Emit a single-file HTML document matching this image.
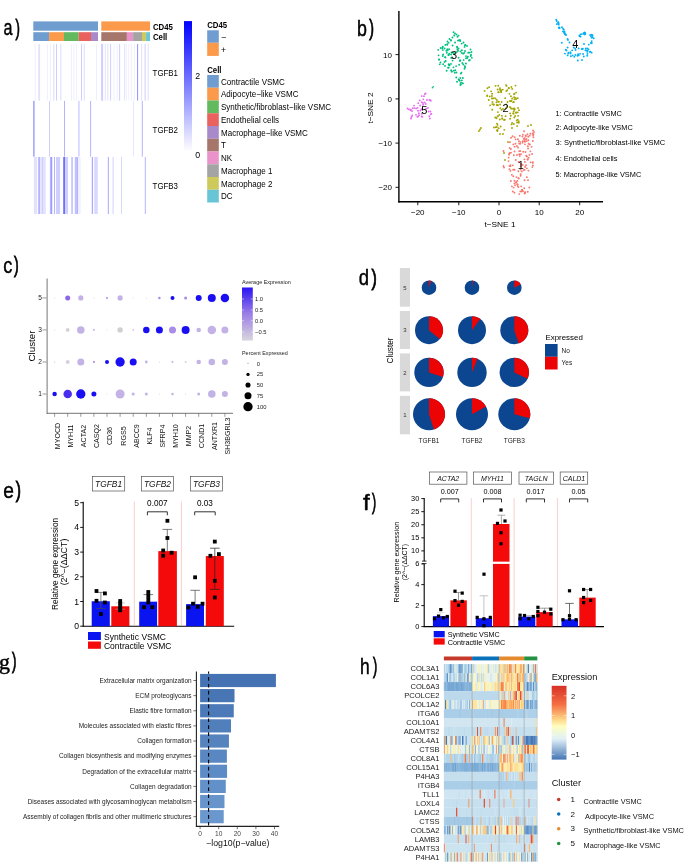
<!DOCTYPE html>
<html><head><meta charset="utf-8"><style>
html,body{margin:0;padding:0;background:#fff;}
body{width:685px;height:862px;overflow:hidden;}
svg{display:block;font-family:"Liberation Sans",sans-serif;filter:blur(0.3px);}
</style></head><body>
<svg width="685" height="862" viewBox="0 0 685 862">
<defs>
<linearGradient id="ga" x1="0" y1="0" x2="0" y2="1"><stop offset="0" stop-color="#0000ff"/><stop offset="1" stop-color="#ffffff"/></linearGradient>
<linearGradient id="gc" x1="0" y1="0" x2="0" y2="1"><stop offset="0" stop-color="#2a14f2"/><stop offset="0.5" stop-color="#9d7fe6"/><stop offset="1" stop-color="#d9d6de"/></linearGradient>
<linearGradient id="gh" x1="0" y1="0" x2="0" y2="1"><stop offset="0" stop-color="#d73027"/><stop offset="0.25" stop-color="#f46d43"/><stop offset="0.45" stop-color="#fdd384"/><stop offset="0.55" stop-color="#fefec0"/><stop offset="0.72" stop-color="#e0f0f6"/><stop offset="1" stop-color="#4575b4"/></linearGradient>
</defs>
<text transform="translate(3.60,35.48) scale(0.738,1)" font-size="21.90" fill="#000" stroke="#000" stroke-width="0.45">a</text>
<text transform="translate(15.50,34.90) scale(0.595,1)" font-size="22.21" fill="#000" stroke="#000" stroke-width="0.9">)</text>
<rect x="33.30" y="21.40" width="64.70" height="9.30" fill="#6f9dcf" />
<rect x="101.30" y="21.40" width="48.70" height="9.30" fill="#fb9a4a" />
<rect x="33.30" y="32.20" width="15.80" height="8.80" fill="#6f9dcf" />
<rect x="49.10" y="32.20" width="14.90" height="8.80" fill="#fb9a4a" />
<rect x="64.00" y="32.20" width="14.70" height="8.80" fill="#62b95e" />
<rect x="78.70" y="32.20" width="12.30" height="8.80" fill="#e9625d" />
<rect x="91.00" y="32.20" width="7.00" height="8.80" fill="#a88acb" />
<rect x="101.30" y="32.20" width="25.60" height="8.80" fill="#a6766b" />
<rect x="126.90" y="32.20" width="6.20" height="8.80" fill="#ea93cb" />
<rect x="133.10" y="32.20" width="8.90" height="8.80" fill="#a4a4a4" />
<rect x="142.00" y="32.20" width="4.10" height="8.80" fill="#cdc95a" />
<rect x="146.10" y="32.20" width="3.90" height="8.80" fill="#67c5d6" />
<rect x="34.60" y="44.00" width="1.00" height="56.60" fill="#efefff" />
<rect x="38.30" y="44.00" width="1.80" height="56.60" fill="#e2e2ff" />
<rect x="46.90" y="44.00" width="1.00" height="56.60" fill="#efefff" />
<rect x="49.90" y="44.00" width="1.00" height="56.60" fill="#efefff" />
<rect x="53.20" y="44.00" width="1.20" height="56.60" fill="#e2e2ff" />
<rect x="56.00" y="44.00" width="1.00" height="56.60" fill="#cfcfff" />
<rect x="60.20" y="44.00" width="1.20" height="56.60" fill="#e2e2ff" />
<rect x="70.90" y="44.00" width="1.00" height="56.60" fill="#efefff" />
<rect x="73.40" y="44.00" width="1.00" height="56.60" fill="#efefff" />
<rect x="76.00" y="44.00" width="1.00" height="56.60" fill="#efefff" />
<rect x="81.00" y="44.00" width="1.00" height="56.60" fill="#cfcfff" />
<rect x="83.70" y="44.00" width="1.20" height="56.60" fill="#e2e2ff" />
<rect x="96.00" y="44.00" width="1.00" height="56.60" fill="#efefff" />
<rect x="101.10" y="44.00" width="2.00" height="56.60" fill="#cfcfff" />
<rect x="104.80" y="44.00" width="1.00" height="56.60" fill="#e2e2ff" />
<rect x="107.30" y="44.00" width="1.00" height="56.60" fill="#e2e2ff" />
<rect x="110.10" y="44.00" width="1.00" height="56.60" fill="#cfcfff" />
<rect x="113.50" y="44.00" width="1.00" height="56.60" fill="#efefff" />
<rect x="116.60" y="44.00" width="1.00" height="56.60" fill="#efefff" />
<rect x="119.10" y="44.00" width="1.00" height="56.60" fill="#cfcfff" />
<rect x="124.10" y="44.00" width="1.00" height="56.60" fill="#e2e2ff" />
<rect x="125.80" y="44.00" width="1.00" height="56.60" fill="#efefff" />
<rect x="128.30" y="44.00" width="1.00" height="56.60" fill="#efefff" />
<rect x="130.90" y="44.00" width="1.00" height="56.60" fill="#efefff" />
<rect x="133.90" y="44.00" width="1.00" height="56.60" fill="#efefff" />
<rect x="137.00" y="44.00" width="1.10" height="56.60" fill="#9a9aff" />
<rect x="141.10" y="44.00" width="1.00" height="56.60" fill="#e2e2ff" />
<rect x="144.60" y="44.00" width="1.00" height="56.60" fill="#cfcfff" />
<rect x="147.70" y="44.00" width="1.00" height="56.60" fill="#e2e2ff" />
<rect x="33.20" y="100.90" width="1.40" height="55.70" fill="#9a9aff" />
<rect x="49.00" y="100.90" width="1.00" height="55.70" fill="#cfcfff" />
<rect x="64.00" y="100.90" width="1.00" height="55.70" fill="#b4b4ff" />
<rect x="78.20" y="100.90" width="1.40" height="55.70" fill="#cfcfff" />
<rect x="90.10" y="100.90" width="1.00" height="55.70" fill="#b4b4ff" />
<rect x="133.00" y="100.90" width="0.80" height="55.70" fill="#e2e2ff" />
<rect x="141.80" y="100.90" width="1.00" height="55.70" fill="#b4b4ff" />
<rect x="33.90" y="157.00" width="3.30" height="57.00" fill="#e2e2ff" />
<rect x="38.20" y="157.00" width="1.80" height="57.00" fill="#b4b4ff" />
<rect x="40.20" y="157.00" width="5.60" height="57.00" fill="#e2e2ff" />
<rect x="42.00" y="157.00" width="1.00" height="57.00" fill="#cfcfff" />
<rect x="49.90" y="157.00" width="2.40" height="57.00" fill="#b4b4ff" />
<rect x="51.00" y="157.00" width="1.00" height="57.00" fill="#9a9aff" />
<rect x="54.00" y="157.00" width="1.00" height="57.00" fill="#b4b4ff" />
<rect x="56.00" y="157.00" width="4.10" height="57.00" fill="#cfcfff" />
<rect x="63.20" y="157.00" width="2.10" height="57.00" fill="#7070f4" />
<rect x="65.30" y="157.00" width="2.70" height="57.00" fill="#cfcfff" />
<rect x="71.40" y="157.00" width="1.30" height="57.00" fill="#b4b4ff" />
<rect x="74.70" y="157.00" width="3.30" height="57.00" fill="#cfcfff" />
<rect x="75.50" y="157.00" width="1.00" height="57.00" fill="#b4b4ff" />
<rect x="77.00" y="157.00" width="1.00" height="57.00" fill="#b4b4ff" />
<rect x="78.00" y="157.00" width="2.60" height="57.00" fill="#efefff" />
<rect x="91.80" y="157.00" width="1.00" height="57.00" fill="#9a9aff" />
<rect x="93.90" y="157.00" width="4.10" height="57.00" fill="#e2e2ff" />
<rect x="95.50" y="157.00" width="1.00" height="57.00" fill="#cfcfff" />
<rect x="107.80" y="157.00" width="1.20" height="57.00" fill="#b4b4ff" />
<rect x="112.40" y="157.00" width="1.50" height="57.00" fill="#e2e2ff" />
<rect x="121.00" y="157.00" width="0.80" height="57.00" fill="#cfcfff" />
<rect x="144.80" y="157.00" width="1.00" height="57.00" fill="#b4b4ff" />
<text x="152.60" y="76.00" font-size="8.8" textLength="25.40" lengthAdjust="spacingAndGlyphs" fill="#000" >TGFB1</text>
<text x="152.60" y="132.90" font-size="8.8" textLength="25.40" lengthAdjust="spacingAndGlyphs" fill="#000" >TGFB2</text>
<text x="152.60" y="189.20" font-size="8.8" textLength="25.40" lengthAdjust="spacingAndGlyphs" fill="#000" >TGFB3</text>
<text x="152.90" y="29.60" font-size="8.8" font-weight="bold" textLength="20.00" lengthAdjust="spacingAndGlyphs" fill="#000" >CD45</text>
<text x="152.90" y="40.40" font-size="8.8" font-weight="bold" textLength="14.36" lengthAdjust="spacingAndGlyphs" fill="#000" >Cell</text>
<rect x="184.00" y="21.10" width="8.00" height="130.40" fill="url(#ga)" />
<text x="197.60" y="79.10" font-size="8.8" text-anchor="middle" fill="#000" >2</text>
<text x="197.60" y="157.90" font-size="8.8" text-anchor="middle" fill="#000" >0</text>
<text x="207.20" y="27.80" font-size="8.8" font-weight="bold" textLength="20.02" lengthAdjust="spacingAndGlyphs" fill="#000" >CD45</text>
<rect x="207.20" y="30.30" width="11.60" height="12.50" fill="#6f9dcf" />
<rect x="207.20" y="42.80" width="11.60" height="13.10" fill="#fb9a4a" />
<text x="221.00" y="39.70" font-size="8.8" fill="#000" >−</text>
<text x="221.00" y="52.60" font-size="8.8" fill="#000" >+</text>
<text x="207.20" y="72.60" font-size="8.8" font-weight="bold" textLength="14.36" lengthAdjust="spacingAndGlyphs" fill="#000" >Cell</text>
<rect x="207.20" y="75.00" width="11.60" height="12.75" fill="#6f9dcf" />
<text x="221.00" y="84.58" font-size="8.8" textLength="63.85" lengthAdjust="spacingAndGlyphs" fill="#000" >Contractile VSMC</text>
<rect x="207.20" y="87.75" width="11.60" height="12.75" fill="#fb9a4a" />
<text x="221.00" y="97.33" font-size="8.8" textLength="77.48" lengthAdjust="spacingAndGlyphs" fill="#000" >Adipocyte−like VSMC</text>
<rect x="207.20" y="100.50" width="11.60" height="12.75" fill="#62b95e" />
<text x="221.00" y="110.08" font-size="8.8" textLength="110.07" lengthAdjust="spacingAndGlyphs" fill="#000" >Synthetic/fibroblast−like VSMC</text>
<rect x="207.20" y="113.25" width="11.60" height="12.75" fill="#e9625d" />
<text x="221.00" y="122.83" font-size="8.8" textLength="58.06" lengthAdjust="spacingAndGlyphs" fill="#000" >Endothelial cells</text>
<rect x="207.20" y="126.00" width="11.60" height="12.75" fill="#a88acb" />
<text x="221.00" y="135.57" font-size="8.8" textLength="86.85" lengthAdjust="spacingAndGlyphs" fill="#000" >Macrophage−like VSMC</text>
<rect x="207.20" y="138.75" width="11.60" height="12.75" fill="#a6766b" />
<text x="221.00" y="148.32" font-size="8.8" textLength="4.91" lengthAdjust="spacingAndGlyphs" fill="#000" >T</text>
<rect x="207.20" y="151.50" width="11.60" height="12.75" fill="#ea93cb" />
<text x="221.00" y="161.07" font-size="8.8" textLength="11.16" lengthAdjust="spacingAndGlyphs" fill="#000" >NK</text>
<rect x="207.20" y="164.25" width="11.60" height="12.75" fill="#a4a4a4" />
<text x="221.00" y="173.82" font-size="8.8" textLength="51.36" lengthAdjust="spacingAndGlyphs" fill="#000" >Macrophage 1</text>
<rect x="207.20" y="177.00" width="11.60" height="12.75" fill="#cdc95a" />
<text x="221.00" y="186.57" font-size="8.8" textLength="51.36" lengthAdjust="spacingAndGlyphs" fill="#000" >Macrophage 2</text>
<rect x="207.20" y="189.75" width="11.60" height="12.75" fill="#67c5d6" />
<text x="221.00" y="199.32" font-size="8.8" textLength="11.60" lengthAdjust="spacingAndGlyphs" fill="#000" >DC</text>
<text transform="translate(357.00,35.78) scale(0.798,1)" font-size="22.31" fill="#000" stroke="#000" stroke-width="0.45">b</text>
<text transform="translate(369.20,35.20) scale(0.635,1)" font-size="22.21" fill="#000" stroke="#000" stroke-width="0.9">)</text>
<circle cx="444.57" cy="61.93" r="0.95" fill="#00bf7d" />
<circle cx="449.32" cy="65.22" r="0.95" fill="#00bf7d" />
<circle cx="458.53" cy="35.60" r="0.95" fill="#00bf7d" />
<circle cx="445.34" cy="44.89" r="0.95" fill="#00bf7d" />
<circle cx="471.84" cy="57.86" r="0.95" fill="#00bf7d" />
<circle cx="466.11" cy="58.20" r="0.95" fill="#00bf7d" />
<circle cx="459.01" cy="40.28" r="0.95" fill="#00bf7d" />
<circle cx="458.85" cy="79.74" r="0.95" fill="#00bf7d" />
<circle cx="454.83" cy="72.77" r="0.95" fill="#00bf7d" />
<circle cx="463.30" cy="64.51" r="0.95" fill="#00bf7d" />
<circle cx="467.16" cy="58.00" r="0.95" fill="#00bf7d" />
<circle cx="461.88" cy="80.33" r="0.95" fill="#00bf7d" />
<circle cx="461.71" cy="82.66" r="0.95" fill="#00bf7d" />
<circle cx="470.76" cy="55.99" r="0.95" fill="#00bf7d" />
<circle cx="458.56" cy="48.56" r="0.95" fill="#00bf7d" />
<circle cx="454.26" cy="53.22" r="0.95" fill="#00bf7d" />
<circle cx="448.63" cy="64.18" r="0.95" fill="#00bf7d" />
<circle cx="457.03" cy="81.73" r="0.95" fill="#00bf7d" />
<circle cx="460.55" cy="83.09" r="0.95" fill="#00bf7d" />
<circle cx="460.17" cy="40.97" r="0.95" fill="#00bf7d" />
<circle cx="461.70" cy="43.61" r="0.95" fill="#00bf7d" />
<circle cx="465.94" cy="63.54" r="0.95" fill="#00bf7d" />
<circle cx="450.78" cy="40.29" r="0.95" fill="#00bf7d" />
<circle cx="461.86" cy="50.20" r="0.95" fill="#00bf7d" />
<circle cx="443.11" cy="54.44" r="0.95" fill="#00bf7d" />
<circle cx="457.98" cy="40.59" r="0.95" fill="#00bf7d" />
<circle cx="468.28" cy="52.78" r="0.95" fill="#00bf7d" />
<circle cx="452.57" cy="60.60" r="0.95" fill="#00bf7d" />
<circle cx="459.18" cy="64.76" r="0.95" fill="#00bf7d" />
<circle cx="456.13" cy="66.11" r="0.95" fill="#00bf7d" />
<circle cx="469.86" cy="59.89" r="0.95" fill="#00bf7d" />
<circle cx="451.52" cy="71.62" r="0.95" fill="#00bf7d" />
<circle cx="444.55" cy="48.56" r="0.95" fill="#00bf7d" />
<circle cx="450.95" cy="63.90" r="0.95" fill="#00bf7d" />
<circle cx="458.58" cy="57.64" r="0.95" fill="#00bf7d" />
<circle cx="460.45" cy="51.39" r="0.95" fill="#00bf7d" />
<circle cx="461.45" cy="72.59" r="0.95" fill="#00bf7d" />
<circle cx="460.34" cy="84.98" r="0.95" fill="#00bf7d" />
<circle cx="445.04" cy="57.10" r="0.95" fill="#00bf7d" />
<circle cx="457.34" cy="49.60" r="0.95" fill="#00bf7d" />
<circle cx="449.10" cy="49.20" r="0.95" fill="#00bf7d" />
<circle cx="449.29" cy="64.76" r="0.95" fill="#00bf7d" />
<circle cx="446.81" cy="52.74" r="0.95" fill="#00bf7d" />
<circle cx="456.49" cy="72.43" r="0.95" fill="#00bf7d" />
<circle cx="447.16" cy="44.24" r="0.95" fill="#00bf7d" />
<circle cx="464.94" cy="45.13" r="0.95" fill="#00bf7d" />
<circle cx="442.75" cy="55.94" r="0.95" fill="#00bf7d" />
<circle cx="447.59" cy="50.36" r="0.95" fill="#00bf7d" />
<circle cx="466.01" cy="56.11" r="0.95" fill="#00bf7d" />
<circle cx="448.12" cy="67.76" r="0.95" fill="#00bf7d" />
<circle cx="467.86" cy="56.81" r="0.95" fill="#00bf7d" />
<circle cx="455.07" cy="42.49" r="0.95" fill="#00bf7d" />
<circle cx="442.61" cy="47.32" r="0.95" fill="#00bf7d" />
<circle cx="465.06" cy="67.31" r="0.95" fill="#00bf7d" />
<circle cx="465.03" cy="50.99" r="0.95" fill="#00bf7d" />
<circle cx="440.67" cy="48.06" r="0.95" fill="#00bf7d" />
<circle cx="464.58" cy="46.91" r="0.95" fill="#00bf7d" />
<circle cx="448.47" cy="54.93" r="0.95" fill="#00bf7d" />
<circle cx="451.11" cy="54.52" r="0.95" fill="#00bf7d" />
<circle cx="462.84" cy="78.02" r="0.95" fill="#00bf7d" />
<circle cx="459.87" cy="60.55" r="0.95" fill="#00bf7d" />
<circle cx="446.41" cy="50.76" r="0.95" fill="#00bf7d" />
<circle cx="457.19" cy="47.79" r="0.95" fill="#00bf7d" />
<circle cx="442.19" cy="48.49" r="0.95" fill="#00bf7d" />
<circle cx="459.86" cy="60.87" r="0.95" fill="#00bf7d" />
<circle cx="458.04" cy="50.77" r="0.95" fill="#00bf7d" />
<circle cx="448.67" cy="42.85" r="0.95" fill="#00bf7d" />
<circle cx="458.63" cy="79.44" r="0.95" fill="#00bf7d" />
<circle cx="445.67" cy="61.00" r="0.95" fill="#00bf7d" />
<circle cx="451.23" cy="58.01" r="0.95" fill="#00bf7d" />
<circle cx="439.10" cy="59.62" r="0.95" fill="#00bf7d" />
<circle cx="447.37" cy="49.30" r="0.95" fill="#00bf7d" />
<circle cx="448.65" cy="67.58" r="0.95" fill="#00bf7d" />
<circle cx="457.12" cy="51.85" r="0.95" fill="#00bf7d" />
<circle cx="442.88" cy="50.08" r="0.95" fill="#00bf7d" />
<circle cx="440.46" cy="62.55" r="0.95" fill="#00bf7d" />
<circle cx="461.78" cy="52.91" r="0.95" fill="#00bf7d" />
<circle cx="449.44" cy="65.24" r="0.95" fill="#00bf7d" />
<circle cx="464.17" cy="52.91" r="0.95" fill="#00bf7d" />
<circle cx="464.84" cy="66.26" r="0.95" fill="#00bf7d" />
<circle cx="451.54" cy="52.48" r="0.95" fill="#00bf7d" />
<circle cx="453.86" cy="70.66" r="0.95" fill="#00bf7d" />
<circle cx="451.14" cy="70.18" r="0.95" fill="#00bf7d" />
<circle cx="452.59" cy="45.48" r="0.95" fill="#00bf7d" />
<circle cx="455.29" cy="70.23" r="0.95" fill="#00bf7d" />
<circle cx="438.58" cy="55.37" r="0.95" fill="#00bf7d" />
<circle cx="469.71" cy="52.58" r="0.95" fill="#00bf7d" />
<circle cx="445.44" cy="57.53" r="0.95" fill="#00bf7d" />
<circle cx="459.84" cy="80.80" r="0.95" fill="#00bf7d" />
<circle cx="464.53" cy="68.72" r="0.95" fill="#00bf7d" />
<circle cx="462.41" cy="63.01" r="0.95" fill="#00bf7d" />
<circle cx="439.71" cy="64.33" r="0.95" fill="#00bf7d" />
<circle cx="460.25" cy="77.99" r="0.95" fill="#00bf7d" />
<circle cx="463.63" cy="60.12" r="0.95" fill="#00bf7d" />
<circle cx="462.96" cy="83.40" r="0.95" fill="#00bf7d" />
<circle cx="438.20" cy="49.83" r="0.95" fill="#00bf7d" />
<circle cx="456.30" cy="77.54" r="0.95" fill="#00bf7d" />
<circle cx="445.00" cy="65.88" r="0.95" fill="#00bf7d" />
<circle cx="463.13" cy="53.66" r="0.95" fill="#00bf7d" />
<circle cx="449.23" cy="53.82" r="0.95" fill="#00bf7d" />
<circle cx="448.61" cy="55.00" r="0.95" fill="#00bf7d" />
<circle cx="439.00" cy="59.52" r="0.95" fill="#00bf7d" />
<circle cx="471.03" cy="54.71" r="0.95" fill="#00bf7d" />
<circle cx="460.87" cy="73.59" r="0.95" fill="#00bf7d" />
<circle cx="460.26" cy="60.44" r="0.95" fill="#00bf7d" />
<circle cx="453.41" cy="67.36" r="0.95" fill="#00bf7d" />
<circle cx="469.00" cy="60.45" r="0.95" fill="#00bf7d" />
<circle cx="451.95" cy="71.54" r="0.95" fill="#00bf7d" />
<circle cx="442.70" cy="46.70" r="0.95" fill="#00bf7d" />
<circle cx="443.17" cy="64.21" r="0.95" fill="#00bf7d" />
<circle cx="447.33" cy="44.78" r="0.95" fill="#00bf7d" />
<circle cx="460.88" cy="84.44" r="0.95" fill="#00bf7d" />
<circle cx="446.65" cy="70.79" r="0.95" fill="#00bf7d" />
<circle cx="457.05" cy="46.69" r="0.95" fill="#00bf7d" />
<circle cx="453.26" cy="53.05" r="0.95" fill="#00bf7d" />
<circle cx="433.20" cy="86.80" r="0.80" fill="#00bf7d" />
<circle cx="432.40" cy="87.80" r="0.80" fill="#00bf7d" />
<circle cx="453.50" cy="32.20" r="0.95" fill="#00bf7d" />
<circle cx="455.00" cy="33.50" r="0.95" fill="#00bf7d" />
<circle cx="456.50" cy="34.50" r="0.95" fill="#00bf7d" />
<circle cx="454.20" cy="35.50" r="0.95" fill="#00bf7d" />
<circle cx="457.50" cy="36.80" r="0.95" fill="#00bf7d" />
<circle cx="452.50" cy="37.50" r="0.95" fill="#00bf7d" />
<circle cx="449.50" cy="39.00" r="0.95" fill="#00bf7d" />
<circle cx="451.00" cy="40.50" r="0.95" fill="#00bf7d" />
<circle cx="447.50" cy="41.50" r="0.95" fill="#00bf7d" />
<circle cx="460.00" cy="40.00" r="0.95" fill="#00bf7d" />
<circle cx="463.50" cy="42.50" r="0.95" fill="#00bf7d" />
<circle cx="465.50" cy="45.00" r="0.95" fill="#00bf7d" />
<circle cx="467.00" cy="46.00" r="0.95" fill="#00bf7d" />
<circle cx="470.50" cy="49.50" r="0.95" fill="#00bf7d" />
<circle cx="471.50" cy="52.00" r="0.95" fill="#00bf7d" />
<circle cx="559.28" cy="27.33" r="0.95" fill="#00b0f6" />
<circle cx="558.57" cy="23.92" r="0.95" fill="#00b0f6" />
<circle cx="558.42" cy="22.63" r="0.95" fill="#00b0f6" />
<circle cx="563.94" cy="29.65" r="0.95" fill="#00b0f6" />
<circle cx="559.58" cy="28.17" r="0.95" fill="#00b0f6" />
<circle cx="561.97" cy="27.23" r="0.95" fill="#00b0f6" />
<circle cx="563.89" cy="31.86" r="0.95" fill="#00b0f6" />
<circle cx="558.05" cy="22.08" r="0.95" fill="#00b0f6" />
<circle cx="563.95" cy="31.70" r="0.95" fill="#00b0f6" />
<circle cx="558.73" cy="27.76" r="0.95" fill="#00b0f6" />
<circle cx="558.63" cy="24.65" r="0.95" fill="#00b0f6" />
<circle cx="556.22" cy="19.75" r="0.95" fill="#00b0f6" />
<circle cx="563.06" cy="28.73" r="0.95" fill="#00b0f6" />
<circle cx="564.47" cy="33.03" r="0.95" fill="#00b0f6" />
<circle cx="565.14" cy="34.47" r="0.95" fill="#00b0f6" />
<circle cx="562.83" cy="31.33" r="0.95" fill="#00b0f6" />
<circle cx="565.26" cy="33.95" r="0.95" fill="#00b0f6" />
<circle cx="566.08" cy="35.00" r="0.95" fill="#00b0f6" />
<circle cx="558.34" cy="23.50" r="0.95" fill="#00b0f6" />
<circle cx="564.41" cy="33.06" r="0.95" fill="#00b0f6" />
<circle cx="567.52" cy="38.93" r="0.95" fill="#00b0f6" />
<circle cx="556.76" cy="24.12" r="0.95" fill="#00b0f6" />
<circle cx="564.47" cy="31.81" r="0.95" fill="#00b0f6" />
<circle cx="556.69" cy="21.01" r="0.95" fill="#00b0f6" />
<circle cx="581.85" cy="34.10" r="0.95" fill="#00b0f6" />
<circle cx="591.43" cy="42.82" r="0.95" fill="#00b0f6" />
<circle cx="585.13" cy="33.00" r="0.95" fill="#00b0f6" />
<circle cx="584.81" cy="34.42" r="0.95" fill="#00b0f6" />
<circle cx="584.50" cy="33.00" r="0.95" fill="#00b0f6" />
<circle cx="591.83" cy="37.85" r="0.95" fill="#00b0f6" />
<circle cx="591.73" cy="43.21" r="0.95" fill="#00b0f6" />
<circle cx="584.55" cy="32.40" r="0.95" fill="#00b0f6" />
<circle cx="584.55" cy="34.35" r="0.95" fill="#00b0f6" />
<circle cx="591.70" cy="34.65" r="0.95" fill="#00b0f6" />
<circle cx="592.46" cy="37.02" r="0.95" fill="#00b0f6" />
<circle cx="590.15" cy="35.07" r="0.95" fill="#00b0f6" />
<circle cx="585.38" cy="33.49" r="0.95" fill="#00b0f6" />
<circle cx="592.58" cy="35.35" r="0.95" fill="#00b0f6" />
<circle cx="580.55" cy="36.61" r="0.95" fill="#00b0f6" />
<circle cx="588.82" cy="44.58" r="0.95" fill="#00b0f6" />
<circle cx="580.15" cy="36.39" r="0.95" fill="#00b0f6" />
<circle cx="593.72" cy="38.20" r="0.95" fill="#00b0f6" />
<circle cx="579.30" cy="35.68" r="0.95" fill="#00b0f6" />
<circle cx="591.69" cy="41.08" r="0.95" fill="#00b0f6" />
<circle cx="592.07" cy="35.17" r="0.95" fill="#00b0f6" />
<circle cx="583.55" cy="33.20" r="0.95" fill="#00b0f6" />
<circle cx="590.93" cy="36.59" r="0.95" fill="#00b0f6" />
<circle cx="584.58" cy="33.58" r="0.95" fill="#00b0f6" />
<circle cx="580.36" cy="34.35" r="0.95" fill="#00b0f6" />
<circle cx="584.12" cy="34.08" r="0.95" fill="#00b0f6" />
<circle cx="587.21" cy="55.69" r="0.95" fill="#00b0f6" />
<circle cx="578.58" cy="48.40" r="0.95" fill="#00b0f6" />
<circle cx="565.01" cy="53.62" r="0.95" fill="#00b0f6" />
<circle cx="578.17" cy="54.88" r="0.95" fill="#00b0f6" />
<circle cx="575.45" cy="55.01" r="0.95" fill="#00b0f6" />
<circle cx="572.64" cy="55.42" r="0.95" fill="#00b0f6" />
<circle cx="585.44" cy="50.38" r="0.95" fill="#00b0f6" />
<circle cx="580.07" cy="53.87" r="0.95" fill="#00b0f6" />
<circle cx="570.40" cy="52.20" r="0.95" fill="#00b0f6" />
<circle cx="587.54" cy="48.45" r="0.95" fill="#00b0f6" />
<circle cx="587.49" cy="53.91" r="0.95" fill="#00b0f6" />
<circle cx="588.64" cy="49.36" r="0.95" fill="#00b0f6" />
<circle cx="567.61" cy="55.40" r="0.95" fill="#00b0f6" />
<circle cx="587.53" cy="50.79" r="0.95" fill="#00b0f6" />
<circle cx="567.63" cy="47.56" r="0.95" fill="#00b0f6" />
<circle cx="582.78" cy="48.79" r="0.95" fill="#00b0f6" />
<circle cx="591.64" cy="52.65" r="0.95" fill="#00b0f6" />
<circle cx="570.62" cy="53.52" r="0.95" fill="#00b0f6" />
<circle cx="590.47" cy="51.69" r="0.95" fill="#00b0f6" />
<circle cx="583.05" cy="54.07" r="0.95" fill="#00b0f6" />
<circle cx="565.80" cy="49.70" r="0.95" fill="#00b0f6" />
<circle cx="581.85" cy="48.96" r="0.95" fill="#00b0f6" />
<circle cx="589.64" cy="51.83" r="0.95" fill="#00b0f6" />
<circle cx="568.27" cy="53.62" r="0.95" fill="#00b0f6" />
<circle cx="573.74" cy="47.55" r="0.95" fill="#00b0f6" />
<circle cx="570.88" cy="56.25" r="0.95" fill="#00b0f6" />
<circle cx="574.32" cy="56.76" r="0.95" fill="#00b0f6" />
<circle cx="582.37" cy="48.98" r="0.95" fill="#00b0f6" />
<circle cx="575.57" cy="50.06" r="0.95" fill="#00b0f6" />
<circle cx="566.51" cy="50.50" r="0.95" fill="#00b0f6" />
<circle cx="585.90" cy="50.17" r="0.95" fill="#00b0f6" />
<circle cx="583.77" cy="56.56" r="0.95" fill="#00b0f6" />
<circle cx="577.52" cy="55.81" r="0.95" fill="#00b0f6" />
<circle cx="587.29" cy="51.72" r="0.95" fill="#00b0f6" />
<circle cx="578.19" cy="54.17" r="0.95" fill="#00b0f6" />
<circle cx="585.90" cy="48.46" r="0.95" fill="#00b0f6" />
<circle cx="578.65" cy="55.19" r="0.95" fill="#00b0f6" />
<circle cx="568.46" cy="52.66" r="0.95" fill="#00b0f6" />
<circle cx="575.11" cy="48.33" r="0.95" fill="#00b0f6" />
<circle cx="572.13" cy="50.34" r="0.95" fill="#00b0f6" />
<circle cx="561.80" cy="42.80" r="0.95" fill="#00b0f6" />
<circle cx="577.80" cy="60.50" r="0.95" fill="#00b0f6" />
<circle cx="582.00" cy="60.00" r="0.95" fill="#00b0f6" />
<circle cx="568.00" cy="40.00" r="0.95" fill="#00b0f6" />
<circle cx="569.50" cy="42.50" r="0.95" fill="#00b0f6" />
<circle cx="591.00" cy="43.00" r="0.95" fill="#00b0f6" />
<circle cx="584.00" cy="44.00" r="0.95" fill="#00b0f6" />
<circle cx="424.92" cy="94.03" r="0.95" fill="#e76bf3" />
<circle cx="421.93" cy="102.24" r="0.95" fill="#e76bf3" />
<circle cx="419.04" cy="115.15" r="0.95" fill="#e76bf3" />
<circle cx="423.00" cy="103.11" r="0.95" fill="#e76bf3" />
<circle cx="430.32" cy="100.11" r="0.95" fill="#e76bf3" />
<circle cx="416.02" cy="114.85" r="0.95" fill="#e76bf3" />
<circle cx="412.70" cy="108.28" r="0.95" fill="#e76bf3" />
<circle cx="424.61" cy="102.43" r="0.95" fill="#e76bf3" />
<circle cx="425.69" cy="103.97" r="0.95" fill="#e76bf3" />
<circle cx="416.17" cy="108.40" r="0.95" fill="#e76bf3" />
<circle cx="419.78" cy="100.39" r="0.95" fill="#e76bf3" />
<circle cx="428.65" cy="111.57" r="0.95" fill="#e76bf3" />
<circle cx="414.35" cy="108.08" r="0.95" fill="#e76bf3" />
<circle cx="421.66" cy="116.50" r="0.95" fill="#e76bf3" />
<circle cx="426.97" cy="100.06" r="0.95" fill="#e76bf3" />
<circle cx="418.87" cy="113.20" r="0.95" fill="#e76bf3" />
<circle cx="427.88" cy="108.04" r="0.95" fill="#e76bf3" />
<circle cx="430.76" cy="100.78" r="0.95" fill="#e76bf3" />
<circle cx="426.08" cy="108.64" r="0.95" fill="#e76bf3" />
<circle cx="423.08" cy="104.77" r="0.95" fill="#e76bf3" />
<circle cx="429.84" cy="118.45" r="0.95" fill="#e76bf3" />
<circle cx="420.33" cy="110.60" r="0.95" fill="#e76bf3" />
<circle cx="429.37" cy="99.97" r="0.95" fill="#e76bf3" />
<circle cx="418.03" cy="110.72" r="0.95" fill="#e76bf3" />
<circle cx="418.16" cy="116.40" r="0.95" fill="#e76bf3" />
<circle cx="422.29" cy="116.73" r="0.95" fill="#e76bf3" />
<circle cx="429.30" cy="116.19" r="0.95" fill="#e76bf3" />
<circle cx="417.33" cy="116.76" r="0.95" fill="#e76bf3" />
<circle cx="414.07" cy="105.58" r="0.95" fill="#e76bf3" />
<circle cx="423.32" cy="99.36" r="0.95" fill="#e76bf3" />
<circle cx="417.60" cy="107.86" r="0.95" fill="#e76bf3" />
<circle cx="421.40" cy="109.29" r="0.95" fill="#e76bf3" />
<circle cx="425.58" cy="93.51" r="0.95" fill="#e76bf3" />
<circle cx="431.39" cy="113.84" r="0.95" fill="#e76bf3" />
<circle cx="430.74" cy="114.34" r="0.95" fill="#e76bf3" />
<circle cx="418.20" cy="103.17" r="0.95" fill="#e76bf3" />
<circle cx="410.69" cy="109.76" r="0.95" fill="#e76bf3" />
<circle cx="423.97" cy="96.16" r="0.95" fill="#e76bf3" />
<circle cx="420.12" cy="105.55" r="0.95" fill="#e76bf3" />
<circle cx="421.73" cy="96.10" r="0.95" fill="#e76bf3" />
<circle cx="430.45" cy="111.49" r="0.95" fill="#e76bf3" />
<circle cx="421.85" cy="113.81" r="0.95" fill="#e76bf3" />
<circle cx="407.50" cy="108.50" r="0.95" fill="#e76bf3" />
<circle cx="409.00" cy="109.30" r="0.95" fill="#e76bf3" />
<circle cx="410.50" cy="110.30" r="0.95" fill="#e76bf3" />
<circle cx="412.00" cy="111.00" r="0.95" fill="#e76bf3" />
<circle cx="412.30" cy="115.50" r="0.95" fill="#e76bf3" />
<circle cx="411.50" cy="117.00" r="0.95" fill="#e76bf3" />
<circle cx="411.00" cy="118.50" r="0.95" fill="#e76bf3" />
<circle cx="487.07" cy="96.12" r="0.95" fill="#a3a500" />
<circle cx="507.11" cy="106.50" r="0.95" fill="#a3a500" />
<circle cx="500.31" cy="108.25" r="0.95" fill="#a3a500" />
<circle cx="487.22" cy="95.47" r="0.95" fill="#a3a500" />
<circle cx="498.68" cy="128.20" r="0.95" fill="#a3a500" />
<circle cx="497.65" cy="89.57" r="0.95" fill="#a3a500" />
<circle cx="497.58" cy="116.38" r="0.95" fill="#a3a500" />
<circle cx="496.18" cy="117.87" r="0.95" fill="#a3a500" />
<circle cx="501.91" cy="115.84" r="0.95" fill="#a3a500" />
<circle cx="516.45" cy="112.50" r="0.95" fill="#a3a500" />
<circle cx="489.12" cy="87.15" r="0.95" fill="#a3a500" />
<circle cx="518.06" cy="107.94" r="0.95" fill="#a3a500" />
<circle cx="504.84" cy="119.72" r="0.95" fill="#a3a500" />
<circle cx="515.71" cy="98.00" r="0.95" fill="#a3a500" />
<circle cx="496.84" cy="127.03" r="0.95" fill="#a3a500" />
<circle cx="514.37" cy="108.68" r="0.95" fill="#a3a500" />
<circle cx="491.12" cy="91.36" r="0.95" fill="#a3a500" />
<circle cx="503.03" cy="108.98" r="0.95" fill="#a3a500" />
<circle cx="502.27" cy="118.36" r="0.95" fill="#a3a500" />
<circle cx="491.92" cy="95.95" r="0.95" fill="#a3a500" />
<circle cx="493.61" cy="104.75" r="0.95" fill="#a3a500" />
<circle cx="497.57" cy="124.88" r="0.95" fill="#a3a500" />
<circle cx="516.09" cy="92.59" r="0.95" fill="#a3a500" />
<circle cx="498.27" cy="92.14" r="0.95" fill="#a3a500" />
<circle cx="511.51" cy="100.75" r="0.95" fill="#a3a500" />
<circle cx="490.13" cy="105.34" r="0.95" fill="#a3a500" />
<circle cx="492.34" cy="104.09" r="0.95" fill="#a3a500" />
<circle cx="500.06" cy="104.48" r="0.95" fill="#a3a500" />
<circle cx="505.19" cy="98.15" r="0.95" fill="#a3a500" />
<circle cx="487.42" cy="88.18" r="0.95" fill="#a3a500" />
<circle cx="496.97" cy="123.58" r="0.95" fill="#a3a500" />
<circle cx="502.18" cy="118.70" r="0.95" fill="#a3a500" />
<circle cx="484.61" cy="90.88" r="0.95" fill="#a3a500" />
<circle cx="497.91" cy="112.11" r="0.95" fill="#a3a500" />
<circle cx="510.78" cy="101.22" r="0.95" fill="#a3a500" />
<circle cx="514.08" cy="94.29" r="0.95" fill="#a3a500" />
<circle cx="515.51" cy="85.62" r="0.95" fill="#a3a500" />
<circle cx="518.75" cy="121.21" r="0.95" fill="#a3a500" />
<circle cx="499.89" cy="88.08" r="0.95" fill="#a3a500" />
<circle cx="505.79" cy="108.36" r="0.95" fill="#a3a500" />
<circle cx="501.03" cy="91.57" r="0.95" fill="#a3a500" />
<circle cx="500.30" cy="90.20" r="0.95" fill="#a3a500" />
<circle cx="499.82" cy="119.55" r="0.95" fill="#a3a500" />
<circle cx="509.76" cy="107.09" r="0.95" fill="#a3a500" />
<circle cx="498.18" cy="101.68" r="0.95" fill="#a3a500" />
<circle cx="492.12" cy="93.68" r="0.95" fill="#a3a500" />
<circle cx="500.06" cy="89.30" r="0.95" fill="#a3a500" />
<circle cx="510.11" cy="118.71" r="0.95" fill="#a3a500" />
<circle cx="506.01" cy="85.11" r="0.95" fill="#a3a500" />
<circle cx="497.11" cy="105.19" r="0.95" fill="#a3a500" />
<circle cx="511.20" cy="108.63" r="0.95" fill="#a3a500" />
<circle cx="509.39" cy="93.83" r="0.95" fill="#a3a500" />
<circle cx="492.26" cy="109.76" r="0.95" fill="#a3a500" />
<circle cx="510.78" cy="115.72" r="0.95" fill="#a3a500" />
<circle cx="516.72" cy="120.42" r="0.95" fill="#a3a500" />
<circle cx="492.05" cy="98.52" r="0.95" fill="#a3a500" />
<circle cx="497.29" cy="130.13" r="0.95" fill="#a3a500" />
<circle cx="514.62" cy="109.30" r="0.95" fill="#a3a500" />
<circle cx="512.20" cy="98.50" r="0.95" fill="#a3a500" />
<circle cx="514.45" cy="93.59" r="0.95" fill="#a3a500" />
<circle cx="497.32" cy="130.97" r="0.95" fill="#a3a500" />
<circle cx="514.49" cy="99.29" r="0.95" fill="#a3a500" />
<circle cx="514.33" cy="117.53" r="0.95" fill="#a3a500" />
<circle cx="517.70" cy="119.67" r="0.95" fill="#a3a500" />
<circle cx="513.55" cy="113.64" r="0.95" fill="#a3a500" />
<circle cx="497.04" cy="104.95" r="0.95" fill="#a3a500" />
<circle cx="501.64" cy="109.92" r="0.95" fill="#a3a500" />
<circle cx="514.17" cy="97.17" r="0.95" fill="#a3a500" />
<circle cx="493.75" cy="104.57" r="0.95" fill="#a3a500" />
<circle cx="493.86" cy="98.29" r="0.95" fill="#a3a500" />
<circle cx="512.95" cy="108.71" r="0.95" fill="#a3a500" />
<circle cx="493.98" cy="127.53" r="0.95" fill="#a3a500" />
<circle cx="498.82" cy="101.71" r="0.95" fill="#a3a500" />
<circle cx="518.76" cy="122.72" r="0.95" fill="#a3a500" />
<circle cx="510.91" cy="96.25" r="0.95" fill="#a3a500" />
<circle cx="513.28" cy="113.23" r="0.95" fill="#a3a500" />
<circle cx="513.87" cy="102.03" r="0.95" fill="#a3a500" />
<circle cx="512.11" cy="122.88" r="0.95" fill="#a3a500" />
<circle cx="497.97" cy="116.08" r="0.95" fill="#a3a500" />
<circle cx="517.14" cy="122.53" r="0.95" fill="#a3a500" />
<circle cx="508.66" cy="88.27" r="0.95" fill="#a3a500" />
<circle cx="500.66" cy="126.57" r="0.95" fill="#a3a500" />
<circle cx="515.14" cy="115.98" r="0.95" fill="#a3a500" />
<circle cx="495.52" cy="85.90" r="0.95" fill="#a3a500" />
<circle cx="517.11" cy="126.09" r="0.95" fill="#a3a500" />
<circle cx="507.53" cy="101.95" r="0.95" fill="#a3a500" />
<circle cx="513.82" cy="123.93" r="0.95" fill="#a3a500" />
<circle cx="510.09" cy="113.39" r="0.95" fill="#a3a500" />
<circle cx="495.49" cy="98.53" r="0.95" fill="#a3a500" />
<circle cx="496.87" cy="100.01" r="0.95" fill="#a3a500" />
<circle cx="502.72" cy="89.59" r="0.95" fill="#a3a500" />
<circle cx="509.97" cy="101.05" r="0.95" fill="#a3a500" />
<circle cx="489.75" cy="96.49" r="0.95" fill="#a3a500" />
<circle cx="498.01" cy="105.13" r="0.95" fill="#a3a500" />
<circle cx="512.16" cy="88.89" r="0.95" fill="#a3a500" />
<circle cx="492.01" cy="98.36" r="0.95" fill="#a3a500" />
<circle cx="504.01" cy="120.07" r="0.95" fill="#a3a500" />
<circle cx="513.70" cy="111.41" r="0.95" fill="#a3a500" />
<circle cx="495.76" cy="127.21" r="0.95" fill="#a3a500" />
<circle cx="510.50" cy="107.47" r="0.95" fill="#a3a500" />
<circle cx="504.26" cy="129.87" r="0.95" fill="#a3a500" />
<circle cx="488.78" cy="100.02" r="0.95" fill="#a3a500" />
<circle cx="498.68" cy="92.28" r="0.95" fill="#a3a500" />
<circle cx="511.43" cy="86.98" r="0.95" fill="#a3a500" />
<circle cx="515.95" cy="112.69" r="0.95" fill="#a3a500" />
<circle cx="506.10" cy="104.33" r="0.95" fill="#a3a500" />
<circle cx="517.71" cy="112.34" r="0.95" fill="#a3a500" />
<circle cx="501.63" cy="101.96" r="0.95" fill="#a3a500" />
<circle cx="514.38" cy="109.87" r="0.95" fill="#a3a500" />
<circle cx="495.12" cy="117.33" r="0.95" fill="#a3a500" />
<circle cx="501.13" cy="90.27" r="0.95" fill="#a3a500" />
<circle cx="514.16" cy="108.50" r="0.95" fill="#a3a500" />
<circle cx="518.98" cy="110.15" r="0.95" fill="#a3a500" />
<circle cx="517.73" cy="98.17" r="0.95" fill="#a3a500" />
<circle cx="511.60" cy="124.42" r="0.95" fill="#a3a500" />
<circle cx="507.31" cy="90.09" r="0.95" fill="#a3a500" />
<circle cx="498.19" cy="85.71" r="0.95" fill="#a3a500" />
<circle cx="497.37" cy="130.29" r="0.95" fill="#a3a500" />
<circle cx="496.49" cy="118.25" r="0.95" fill="#a3a500" />
<circle cx="506.37" cy="91.02" r="0.95" fill="#a3a500" />
<circle cx="508.78" cy="87.91" r="0.95" fill="#a3a500" />
<circle cx="499.32" cy="114.88" r="0.95" fill="#a3a500" />
<circle cx="505.64" cy="116.14" r="0.95" fill="#a3a500" />
<circle cx="518.08" cy="115.86" r="0.95" fill="#a3a500" />
<circle cx="501.16" cy="92.32" r="0.95" fill="#a3a500" />
<circle cx="492.49" cy="101.89" r="0.95" fill="#a3a500" />
<circle cx="496.47" cy="102.22" r="0.95" fill="#a3a500" />
<circle cx="513.09" cy="102.37" r="0.95" fill="#a3a500" />
<circle cx="506.63" cy="85.89" r="0.95" fill="#a3a500" />
<circle cx="516.06" cy="99.34" r="0.95" fill="#a3a500" />
<circle cx="479.00" cy="131.00" r="0.95" fill="#a3a500" />
<circle cx="480.00" cy="129.50" r="0.95" fill="#a3a500" />
<circle cx="481.00" cy="128.00" r="0.95" fill="#a3a500" />
<circle cx="503.00" cy="134.00" r="0.95" fill="#a3a500" />
<circle cx="512.00" cy="128.00" r="0.95" fill="#a3a500" />
<circle cx="528.00" cy="126.00" r="0.95" fill="#a3a500" />
<circle cx="531.00" cy="125.00" r="0.95" fill="#a3a500" />
<circle cx="508.00" cy="142.00" r="0.95" fill="#a3a500" />
<circle cx="504.00" cy="153.00" r="0.95" fill="#a3a500" />
<circle cx="505.00" cy="160.00" r="0.95" fill="#a3a500" />
<circle cx="500.00" cy="134.00" r="0.95" fill="#a3a500" />
<circle cx="520.96" cy="154.27" r="0.95" fill="#f8766d" />
<circle cx="511.88" cy="186.33" r="0.95" fill="#f8766d" />
<circle cx="533.15" cy="135.25" r="0.95" fill="#f8766d" />
<circle cx="523.52" cy="170.08" r="0.95" fill="#f8766d" />
<circle cx="509.15" cy="154.64" r="0.95" fill="#f8766d" />
<circle cx="527.70" cy="159.38" r="0.95" fill="#f8766d" />
<circle cx="528.30" cy="140.22" r="0.95" fill="#f8766d" />
<circle cx="514.66" cy="137.21" r="0.95" fill="#f8766d" />
<circle cx="522.18" cy="190.05" r="0.95" fill="#f8766d" />
<circle cx="524.53" cy="180.32" r="0.95" fill="#f8766d" />
<circle cx="518.74" cy="178.50" r="0.95" fill="#f8766d" />
<circle cx="510.85" cy="148.93" r="0.95" fill="#f8766d" />
<circle cx="526.88" cy="177.17" r="0.95" fill="#f8766d" />
<circle cx="519.81" cy="135.70" r="0.95" fill="#f8766d" />
<circle cx="515.47" cy="143.64" r="0.95" fill="#f8766d" />
<circle cx="515.87" cy="182.62" r="0.95" fill="#f8766d" />
<circle cx="513.59" cy="187.62" r="0.95" fill="#f8766d" />
<circle cx="532.62" cy="133.56" r="0.95" fill="#f8766d" />
<circle cx="518.61" cy="161.96" r="0.95" fill="#f8766d" />
<circle cx="508.66" cy="157.61" r="0.95" fill="#f8766d" />
<circle cx="533.38" cy="137.28" r="0.95" fill="#f8766d" />
<circle cx="524.71" cy="137.88" r="0.95" fill="#f8766d" />
<circle cx="524.20" cy="188.19" r="0.95" fill="#f8766d" />
<circle cx="510.34" cy="165.09" r="0.95" fill="#f8766d" />
<circle cx="521.91" cy="189.86" r="0.95" fill="#f8766d" />
<circle cx="519.76" cy="155.88" r="0.95" fill="#f8766d" />
<circle cx="525.88" cy="136.07" r="0.95" fill="#f8766d" />
<circle cx="524.23" cy="141.22" r="0.95" fill="#f8766d" />
<circle cx="525.05" cy="192.29" r="0.95" fill="#f8766d" />
<circle cx="509.52" cy="166.08" r="0.95" fill="#f8766d" />
<circle cx="524.98" cy="139.70" r="0.95" fill="#f8766d" />
<circle cx="527.75" cy="191.81" r="0.95" fill="#f8766d" />
<circle cx="514.63" cy="169.72" r="0.95" fill="#f8766d" />
<circle cx="509.20" cy="153.79" r="0.95" fill="#f8766d" />
<circle cx="526.88" cy="168.37" r="0.95" fill="#f8766d" />
<circle cx="529.69" cy="135.64" r="0.95" fill="#f8766d" />
<circle cx="517.72" cy="186.16" r="0.95" fill="#f8766d" />
<circle cx="524.36" cy="159.33" r="0.95" fill="#f8766d" />
<circle cx="519.26" cy="194.09" r="0.95" fill="#f8766d" />
<circle cx="524.08" cy="131.19" r="0.95" fill="#f8766d" />
<circle cx="530.38" cy="151.37" r="0.95" fill="#f8766d" />
<circle cx="520.14" cy="143.87" r="0.95" fill="#f8766d" />
<circle cx="520.43" cy="151.11" r="0.95" fill="#f8766d" />
<circle cx="510.49" cy="170.92" r="0.95" fill="#f8766d" />
<circle cx="510.89" cy="180.97" r="0.95" fill="#f8766d" />
<circle cx="530.61" cy="162.33" r="0.95" fill="#f8766d" />
<circle cx="527.86" cy="146.14" r="0.95" fill="#f8766d" />
<circle cx="528.65" cy="157.63" r="0.95" fill="#f8766d" />
<circle cx="514.47" cy="192.66" r="0.95" fill="#f8766d" />
<circle cx="519.23" cy="154.24" r="0.95" fill="#f8766d" />
<circle cx="532.08" cy="154.01" r="0.95" fill="#f8766d" />
<circle cx="526.69" cy="141.12" r="0.95" fill="#f8766d" />
<circle cx="531.61" cy="146.83" r="0.95" fill="#f8766d" />
<circle cx="512.84" cy="191.52" r="0.95" fill="#f8766d" />
<circle cx="513.84" cy="155.28" r="0.95" fill="#f8766d" />
<circle cx="525.12" cy="192.82" r="0.95" fill="#f8766d" />
<circle cx="517.93" cy="139.14" r="0.95" fill="#f8766d" />
<circle cx="523.73" cy="138.92" r="0.95" fill="#f8766d" />
<circle cx="510.42" cy="166.14" r="0.95" fill="#f8766d" />
<circle cx="527.49" cy="134.26" r="0.95" fill="#f8766d" />
<circle cx="520.64" cy="175.75" r="0.95" fill="#f8766d" />
<circle cx="529.40" cy="154.90" r="0.95" fill="#f8766d" />
<circle cx="532.84" cy="140.99" r="0.95" fill="#f8766d" />
<circle cx="528.03" cy="180.16" r="0.95" fill="#f8766d" />
<circle cx="532.65" cy="162.14" r="0.95" fill="#f8766d" />
<circle cx="522.81" cy="141.27" r="0.95" fill="#f8766d" />
<circle cx="525.63" cy="135.48" r="0.95" fill="#f8766d" />
<circle cx="529.84" cy="144.46" r="0.95" fill="#f8766d" />
<circle cx="520.79" cy="166.35" r="0.95" fill="#f8766d" />
<circle cx="518.87" cy="141.25" r="0.95" fill="#f8766d" />
<circle cx="521.50" cy="191.52" r="0.95" fill="#f8766d" />
<circle cx="522.99" cy="191.18" r="0.95" fill="#f8766d" />
<circle cx="532.89" cy="165.38" r="0.95" fill="#f8766d" />
<circle cx="522.66" cy="164.91" r="0.95" fill="#f8766d" />
<circle cx="533.47" cy="134.26" r="0.95" fill="#f8766d" />
<circle cx="526.00" cy="165.24" r="0.95" fill="#f8766d" />
<circle cx="516.41" cy="177.12" r="0.95" fill="#f8766d" />
<circle cx="528.18" cy="136.71" r="0.95" fill="#f8766d" />
<circle cx="527.59" cy="159.48" r="0.95" fill="#f8766d" />
<circle cx="521.73" cy="171.39" r="0.95" fill="#f8766d" />
<circle cx="509.48" cy="169.19" r="0.95" fill="#f8766d" />
<circle cx="518.45" cy="187.12" r="0.95" fill="#f8766d" />
<circle cx="514.47" cy="183.50" r="0.95" fill="#f8766d" />
<circle cx="528.43" cy="170.62" r="0.95" fill="#f8766d" />
<circle cx="524.71" cy="169.86" r="0.95" fill="#f8766d" />
<circle cx="526.99" cy="156.43" r="0.95" fill="#f8766d" />
<circle cx="509.93" cy="142.29" r="0.95" fill="#f8766d" />
<circle cx="525.03" cy="141.79" r="0.95" fill="#f8766d" />
<circle cx="509.82" cy="153.06" r="0.95" fill="#f8766d" />
<circle cx="521.17" cy="164.81" r="0.95" fill="#f8766d" />
<circle cx="517.35" cy="180.88" r="0.95" fill="#f8766d" />
<circle cx="524.53" cy="193.46" r="0.95" fill="#f8766d" />
<circle cx="510.97" cy="152.67" r="0.95" fill="#f8766d" />
<circle cx="514.48" cy="180.70" r="0.95" fill="#f8766d" />
<circle cx="513.38" cy="144.38" r="0.95" fill="#f8766d" />
<circle cx="511.10" cy="137.81" r="0.95" fill="#f8766d" />
<circle cx="518.43" cy="178.17" r="0.95" fill="#f8766d" />
<circle cx="521.09" cy="163.93" r="0.95" fill="#f8766d" />
<circle cx="518.35" cy="171.26" r="0.95" fill="#f8766d" />
<circle cx="514.61" cy="146.66" r="0.95" fill="#f8766d" />
<circle cx="522.50" cy="142.83" r="0.95" fill="#f8766d" />
<circle cx="520.30" cy="191.35" r="0.95" fill="#f8766d" />
<circle cx="530.40" cy="133.76" r="0.95" fill="#f8766d" />
<circle cx="515.03" cy="185.36" r="0.95" fill="#f8766d" />
<circle cx="524.95" cy="144.35" r="0.95" fill="#f8766d" />
<circle cx="509.64" cy="147.89" r="0.95" fill="#f8766d" />
<circle cx="516.40" cy="182.02" r="0.95" fill="#f8766d" />
<circle cx="516.89" cy="146.07" r="0.95" fill="#f8766d" />
<circle cx="524.92" cy="161.96" r="0.95" fill="#f8766d" />
<circle cx="517.71" cy="184.41" r="0.95" fill="#f8766d" />
<circle cx="519.17" cy="143.58" r="0.95" fill="#f8766d" />
<circle cx="515.74" cy="160.01" r="0.95" fill="#f8766d" />
<circle cx="525.09" cy="166.95" r="0.95" fill="#f8766d" />
<circle cx="520.32" cy="142.11" r="0.95" fill="#f8766d" />
<circle cx="519.26" cy="151.13" r="0.95" fill="#f8766d" />
<circle cx="512.78" cy="165.35" r="0.95" fill="#f8766d" />
<circle cx="513.28" cy="176.25" r="0.95" fill="#f8766d" />
<circle cx="526.45" cy="138.95" r="0.95" fill="#f8766d" />
<circle cx="525.51" cy="151.96" r="0.95" fill="#f8766d" />
<circle cx="520.52" cy="169.43" r="0.95" fill="#f8766d" />
<circle cx="529.32" cy="187.43" r="0.95" fill="#f8766d" />
<circle cx="528.54" cy="143.73" r="0.95" fill="#f8766d" />
<circle cx="523.17" cy="151.80" r="0.95" fill="#f8766d" />
<circle cx="521.18" cy="186.35" r="0.95" fill="#f8766d" />
<circle cx="517.06" cy="184.18" r="0.95" fill="#f8766d" />
<circle cx="522.40" cy="136.44" r="0.95" fill="#f8766d" />
<circle cx="528.07" cy="148.50" r="0.95" fill="#f8766d" />
<circle cx="522.94" cy="134.64" r="0.95" fill="#f8766d" />
<circle cx="512.57" cy="136.24" r="0.95" fill="#f8766d" />
<circle cx="526.18" cy="155.70" r="0.95" fill="#f8766d" />
<circle cx="532.88" cy="162.90" r="0.95" fill="#f8766d" />
<circle cx="511.78" cy="174.86" r="0.95" fill="#f8766d" />
<circle cx="518.05" cy="147.55" r="0.95" fill="#f8766d" />
<circle cx="516.97" cy="155.03" r="0.95" fill="#f8766d" />
<circle cx="513.11" cy="169.81" r="0.95" fill="#f8766d" />
<circle cx="532.32" cy="167.10" r="0.95" fill="#f8766d" />
<circle cx="508.56" cy="161.12" r="0.95" fill="#f8766d" />
<circle cx="515.64" cy="139.34" r="0.95" fill="#f8766d" />
<circle cx="520.64" cy="174.19" r="0.95" fill="#f8766d" />
<circle cx="514.50" cy="151.52" r="0.95" fill="#f8766d" />
<circle cx="503.50" cy="151.00" r="0.95" fill="#f8766d" />
<circle cx="503.50" cy="166.00" r="0.95" fill="#f8766d" />
<circle cx="504.00" cy="167.50" r="0.95" fill="#f8766d" />
<circle cx="533.00" cy="130.50" r="0.95" fill="#f8766d" />
<circle cx="534.00" cy="132.00" r="0.95" fill="#f8766d" />
<text x="520.80" y="168.95" font-size="11" text-anchor="middle" fill="#000" >1</text>
<text x="505.50" y="111.95" font-size="11" text-anchor="middle" fill="#000" >2</text>
<text x="454.10" y="59.25" font-size="11" text-anchor="middle" fill="#000" >3</text>
<text x="575.30" y="47.65" font-size="11" text-anchor="middle" fill="#000" >4</text>
<text x="424.20" y="113.85" font-size="11" text-anchor="middle" fill="#000" >5</text>
<line x1="398.90" y1="11.00" x2="398.90" y2="202.50" stroke="#000" stroke-width="1.4" />
<line x1="398.20" y1="201.80" x2="603.00" y2="201.80" stroke="#000" stroke-width="1.4" />
<line x1="395.50" y1="54.60" x2="398.90" y2="54.60" stroke="#000" stroke-width="0.9" />
<text x="392.00" y="57.50" font-size="8" text-anchor="end" fill="#000" >10</text>
<line x1="395.50" y1="98.90" x2="398.90" y2="98.90" stroke="#000" stroke-width="0.9" />
<text x="392.00" y="101.80" font-size="8" text-anchor="end" fill="#000" >0</text>
<line x1="395.50" y1="143.10" x2="398.90" y2="143.10" stroke="#000" stroke-width="0.9" />
<text x="392.00" y="146.00" font-size="8" text-anchor="end" fill="#000" >−10</text>
<line x1="395.50" y1="187.30" x2="398.90" y2="187.30" stroke="#000" stroke-width="0.9" />
<text x="392.00" y="190.20" font-size="8" text-anchor="end" fill="#000" >−20</text>
<line x1="417.80" y1="201.80" x2="417.80" y2="205.20" stroke="#000" stroke-width="0.9" />
<text x="417.80" y="215.00" font-size="8" text-anchor="middle" fill="#000" >−20</text>
<line x1="458.80" y1="201.80" x2="458.80" y2="205.20" stroke="#000" stroke-width="0.9" />
<text x="458.80" y="215.00" font-size="8" text-anchor="middle" fill="#000" >−10</text>
<line x1="499.00" y1="201.80" x2="499.00" y2="205.20" stroke="#000" stroke-width="0.9" />
<text x="499.00" y="215.00" font-size="8" text-anchor="middle" fill="#000" >0</text>
<line x1="539.20" y1="201.80" x2="539.20" y2="205.20" stroke="#000" stroke-width="0.9" />
<text x="539.20" y="215.00" font-size="8" text-anchor="middle" fill="#000" >10</text>
<line x1="579.70" y1="201.80" x2="579.70" y2="205.20" stroke="#000" stroke-width="0.9" />
<text x="579.70" y="215.00" font-size="8" text-anchor="middle" fill="#000" >20</text>
<text x="500.00" y="227.30" font-size="8" text-anchor="middle" textLength="31.20" lengthAdjust="spacingAndGlyphs" fill="#000" >t−SNE 1</text>
<text x="372.60" y="108.00" font-size="8" text-anchor="middle" textLength="31.20" lengthAdjust="spacingAndGlyphs" transform="rotate(-90 372.60 108.00)" fill="#000" >t−SNE 2</text>
<text x="555.50" y="115.50" font-size="7.5" textLength="66.40" lengthAdjust="spacingAndGlyphs" fill="#000" >1: Contractile VSMC</text>
<text x="555.50" y="129.70" font-size="7.5" textLength="77.30" lengthAdjust="spacingAndGlyphs" fill="#000" >2: Adipocyte-like VSMC</text>
<text x="555.50" y="145.10" font-size="7.5" textLength="109.80" lengthAdjust="spacingAndGlyphs" fill="#000" >3: Synthetic/fibroblast-like VSMC</text>
<text x="555.50" y="160.80" font-size="7.5" textLength="61.90" lengthAdjust="spacingAndGlyphs" fill="#000" >4: Endothelial cells</text>
<text x="555.50" y="176.60" font-size="7.5" textLength="85.70" lengthAdjust="spacingAndGlyphs" fill="#000" >5: Macrophage-like VSMC</text>
<text transform="translate(3.20,272.59) scale(0.852,1)" font-size="21.35" fill="#000" stroke="#000" stroke-width="0.45">c</text>
<text transform="translate(14.00,272.28) scale(0.632,1)" font-size="22.32" fill="#000" stroke="#000" stroke-width="0.9">)</text>
<circle cx="54.60" cy="297.90" r="0.50" fill="#d6d2dc" />
<circle cx="67.70" cy="297.90" r="2.50" fill="#8a66ea" />
<circle cx="80.80" cy="297.90" r="2.60" fill="#c3b2e6" />
<circle cx="93.90" cy="297.90" r="0.50" fill="#d6d2dc" />
<circle cx="107.00" cy="297.90" r="1.00" fill="#a98ce8" />
<circle cx="120.10" cy="297.90" r="2.60" fill="#c3b2e6" />
<circle cx="133.20" cy="297.90" r="0.50" fill="#d6d2dc" />
<circle cx="146.30" cy="297.90" r="0.50" fill="#d6d2dc" />
<circle cx="159.40" cy="297.90" r="1.25" fill="#a98ce8" />
<circle cx="172.50" cy="297.90" r="2.00" fill="#1a0ff2" />
<circle cx="185.60" cy="297.90" r="1.50" fill="#a98ce8" />
<circle cx="198.70" cy="297.90" r="3.00" fill="#1a0ff2" />
<circle cx="211.80" cy="297.90" r="4.00" fill="#1a0ff2" />
<circle cx="224.90" cy="297.90" r="4.25" fill="#1a0ff2" />
<text x="41.80" y="300.30" font-size="6.6" text-anchor="end" fill="#222" >5</text>
<line x1="42.50" y1="297.90" x2="46.50" y2="297.90" stroke="#555" stroke-width="0.6" />
<circle cx="54.60" cy="329.90" r="0.50" fill="#d6d2dc" />
<circle cx="67.70" cy="329.90" r="1.90" fill="#d2d0d4" />
<circle cx="80.80" cy="329.90" r="3.75" fill="#c3b2e6" />
<circle cx="93.90" cy="329.90" r="0.80" fill="#a98ce8" />
<circle cx="107.00" cy="329.90" r="0.50" fill="#d6d2dc" />
<circle cx="120.10" cy="329.90" r="2.70" fill="#d0cfd2" />
<circle cx="133.20" cy="329.90" r="0.70" fill="#a98ce8" />
<circle cx="146.30" cy="329.90" r="3.25" fill="#1a0ff2" />
<circle cx="159.40" cy="329.90" r="3.50" fill="#1a0ff2" />
<circle cx="172.50" cy="329.90" r="3.50" fill="#a98ce8" />
<circle cx="185.60" cy="329.90" r="4.00" fill="#1a0ff2" />
<circle cx="198.70" cy="329.90" r="2.25" fill="#c3b2e6" />
<circle cx="211.80" cy="329.90" r="4.25" fill="#c3b2e6" />
<circle cx="224.90" cy="329.90" r="3.50" fill="#c3b2e6" />
<text x="41.80" y="332.30" font-size="6.6" text-anchor="end" fill="#222" >3</text>
<line x1="42.50" y1="329.90" x2="46.50" y2="329.90" stroke="#555" stroke-width="0.6" />
<circle cx="54.60" cy="362.00" r="0.60" fill="#c3b2e6" />
<circle cx="67.70" cy="362.00" r="2.00" fill="#d6d2dc" />
<circle cx="80.80" cy="362.00" r="3.50" fill="#c3b2e6" />
<circle cx="93.90" cy="362.00" r="1.10" fill="#a98ce8" />
<circle cx="107.00" cy="362.00" r="2.00" fill="#1a0ff2" />
<circle cx="120.10" cy="362.00" r="4.65" fill="#1a0ff2" />
<circle cx="133.20" cy="362.00" r="3.50" fill="#1a0ff2" />
<circle cx="146.30" cy="362.00" r="1.40" fill="#c3b2e6" />
<circle cx="159.40" cy="362.00" r="0.60" fill="#d6d2dc" />
<circle cx="172.50" cy="362.00" r="1.00" fill="#c3b2e6" />
<circle cx="185.60" cy="362.00" r="1.00" fill="#d6d2dc" />
<circle cx="198.70" cy="362.00" r="2.25" fill="#c3b2e6" />
<circle cx="211.80" cy="362.00" r="3.25" fill="#c3b2e6" />
<circle cx="224.90" cy="362.00" r="3.00" fill="#c3b2e6" />
<text x="41.80" y="364.40" font-size="6.6" text-anchor="end" fill="#222" >2</text>
<line x1="42.50" y1="362.00" x2="46.50" y2="362.00" stroke="#555" stroke-width="0.6" />
<circle cx="54.60" cy="394.00" r="2.25" fill="#1a0ff2" />
<circle cx="67.70" cy="394.00" r="4.25" fill="#4a2ef0" />
<circle cx="80.80" cy="394.00" r="4.65" fill="#1a0ff2" />
<circle cx="93.90" cy="394.00" r="2.50" fill="#1a0ff2" />
<circle cx="107.00" cy="394.00" r="0.50" fill="#d6d2dc" />
<circle cx="120.10" cy="394.00" r="4.50" fill="#c3b2e6" />
<circle cx="133.20" cy="394.00" r="1.50" fill="#c3b2e6" />
<circle cx="146.30" cy="394.00" r="1.50" fill="#c3b2e6" />
<circle cx="159.40" cy="394.00" r="0.50" fill="#d6d2dc" />
<circle cx="172.50" cy="394.00" r="1.25" fill="#c3b2e6" />
<circle cx="185.60" cy="394.00" r="0.60" fill="#d6d2dc" />
<circle cx="198.70" cy="394.00" r="1.50" fill="#c3b2e6" />
<circle cx="211.80" cy="394.00" r="3.75" fill="#c3b2e6" />
<circle cx="224.90" cy="394.00" r="3.00" fill="#c3b2e6" />
<text x="41.80" y="396.40" font-size="6.6" text-anchor="end" fill="#222" >1</text>
<line x1="42.50" y1="394.00" x2="46.50" y2="394.00" stroke="#555" stroke-width="0.6" />
<line x1="47.10" y1="278.50" x2="47.10" y2="413.80" stroke="#666" stroke-width="0.9" />
<line x1="46.70" y1="413.30" x2="233.00" y2="413.30" stroke="#666" stroke-width="0.9" />
<line x1="54.60" y1="413.30" x2="54.60" y2="416.80" stroke="#555" stroke-width="0.6" />
<text x="60.00" y="436.00" font-size="7.1" text-anchor="middle" transform="rotate(-90 60.00 436.00)" fill="#111" >MYOCD</text>
<line x1="67.70" y1="413.30" x2="67.70" y2="416.80" stroke="#555" stroke-width="0.6" />
<text x="73.10" y="436.00" font-size="7.1" text-anchor="middle" transform="rotate(-90 73.10 436.00)" fill="#111" >MYH11</text>
<line x1="80.80" y1="413.30" x2="80.80" y2="416.80" stroke="#555" stroke-width="0.6" />
<text x="86.20" y="436.00" font-size="7.1" text-anchor="middle" transform="rotate(-90 86.20 436.00)" fill="#111" >ACTA2</text>
<line x1="93.90" y1="413.30" x2="93.90" y2="416.80" stroke="#555" stroke-width="0.6" />
<text x="99.30" y="436.00" font-size="7.1" text-anchor="middle" transform="rotate(-90 99.30 436.00)" fill="#111" >CASQ2</text>
<line x1="107.00" y1="413.30" x2="107.00" y2="416.80" stroke="#555" stroke-width="0.6" />
<text x="112.40" y="436.00" font-size="7.1" text-anchor="middle" transform="rotate(-90 112.40 436.00)" fill="#111" >CD36</text>
<line x1="120.10" y1="413.30" x2="120.10" y2="416.80" stroke="#555" stroke-width="0.6" />
<text x="125.50" y="436.00" font-size="7.1" text-anchor="middle" transform="rotate(-90 125.50 436.00)" fill="#111" >RGS5</text>
<line x1="133.20" y1="413.30" x2="133.20" y2="416.80" stroke="#555" stroke-width="0.6" />
<text x="138.60" y="436.00" font-size="7.1" text-anchor="middle" transform="rotate(-90 138.60 436.00)" fill="#111" >ABCC9</text>
<line x1="146.30" y1="413.30" x2="146.30" y2="416.80" stroke="#555" stroke-width="0.6" />
<text x="151.70" y="436.00" font-size="7.1" text-anchor="middle" transform="rotate(-90 151.70 436.00)" fill="#111" >KLF4</text>
<line x1="159.40" y1="413.30" x2="159.40" y2="416.80" stroke="#555" stroke-width="0.6" />
<text x="164.80" y="436.00" font-size="7.1" text-anchor="middle" transform="rotate(-90 164.80 436.00)" fill="#111" >SFRP4</text>
<line x1="172.50" y1="413.30" x2="172.50" y2="416.80" stroke="#555" stroke-width="0.6" />
<text x="177.90" y="436.00" font-size="7.1" text-anchor="middle" transform="rotate(-90 177.90 436.00)" fill="#111" >MYH10</text>
<line x1="185.60" y1="413.30" x2="185.60" y2="416.80" stroke="#555" stroke-width="0.6" />
<text x="191.00" y="436.00" font-size="7.1" text-anchor="middle" transform="rotate(-90 191.00 436.00)" fill="#111" >MMP2</text>
<line x1="198.70" y1="413.30" x2="198.70" y2="416.80" stroke="#555" stroke-width="0.6" />
<text x="204.10" y="436.00" font-size="7.1" text-anchor="middle" transform="rotate(-90 204.10 436.00)" fill="#111" >CCND1</text>
<line x1="211.80" y1="413.30" x2="211.80" y2="416.80" stroke="#555" stroke-width="0.6" />
<text x="217.20" y="436.00" font-size="7.1" text-anchor="middle" transform="rotate(-90 217.20 436.00)" fill="#111" >ANTXR1</text>
<line x1="224.90" y1="413.30" x2="224.90" y2="416.80" stroke="#555" stroke-width="0.6" />
<text x="230.30" y="436.00" font-size="7.1" text-anchor="middle" transform="rotate(-90 230.30 436.00)" fill="#111" >SH3BGRL3</text>
<text x="34.70" y="346.00" font-size="9.8" text-anchor="middle" transform="rotate(-90 34.70 346.00)" fill="#000" >Cluster</text>
<text x="242.00" y="284.00" font-size="5.8" textLength="48.70" lengthAdjust="spacingAndGlyphs" fill="#222" >Average Expression</text>
<rect x="242.00" y="287.50" width="10.80" height="53.10" fill="url(#gc)" />
<text x="255.00" y="301.00" font-size="5.8" fill="#222" >1.0</text>
<line x1="242.00" y1="299.00" x2="244.00" y2="299.00" stroke="#fff" stroke-width="0.5" />
<line x1="250.80" y1="299.00" x2="252.80" y2="299.00" stroke="#fff" stroke-width="0.5" />
<text x="255.00" y="312.00" font-size="5.8" fill="#222" >0.5</text>
<line x1="242.00" y1="310.00" x2="244.00" y2="310.00" stroke="#fff" stroke-width="0.5" />
<line x1="250.80" y1="310.00" x2="252.80" y2="310.00" stroke="#fff" stroke-width="0.5" />
<text x="255.00" y="322.70" font-size="5.8" fill="#222" >0.0</text>
<line x1="242.00" y1="320.70" x2="244.00" y2="320.70" stroke="#fff" stroke-width="0.5" />
<line x1="250.80" y1="320.70" x2="252.80" y2="320.70" stroke="#fff" stroke-width="0.5" />
<text x="255.00" y="334.00" font-size="5.8" fill="#222" >−0.5</text>
<line x1="242.00" y1="332.00" x2="244.00" y2="332.00" stroke="#fff" stroke-width="0.5" />
<line x1="250.80" y1="332.00" x2="252.80" y2="332.00" stroke="#fff" stroke-width="0.5" />
<text x="242.00" y="355.20" font-size="5.8" textLength="45.80" lengthAdjust="spacingAndGlyphs" fill="#222" >Percent Expressed</text>
<circle cx="248.00" cy="363.50" r="0.40" fill="#000" />
<text x="256.80" y="365.50" font-size="5.8" fill="#222" >0</text>
<circle cx="248.00" cy="374.40" r="1.65" fill="#000" />
<text x="256.80" y="376.40" font-size="5.8" fill="#222" >25</text>
<circle cx="248.00" cy="385.00" r="2.55" fill="#000" />
<text x="256.80" y="387.00" font-size="5.8" fill="#222" >50</text>
<circle cx="248.00" cy="395.70" r="3.50" fill="#000" />
<text x="256.80" y="397.70" font-size="5.8" fill="#222" >75</text>
<circle cx="248.00" cy="406.70" r="4.65" fill="#000" />
<text x="256.80" y="408.70" font-size="5.8" fill="#222" >100</text>
<text transform="translate(358.70,285.38) scale(0.835,1)" font-size="22.18" fill="#000" stroke="#000" stroke-width="0.45">d</text>
<text transform="translate(371.50,285.17) scale(0.727,1)" font-size="21.89" fill="#000" stroke="#000" stroke-width="0.9">)</text>
<rect x="399.90" y="268.00" width="10.10" height="38.70" fill="#d9d9d9" />
<text x="405.00" y="289.55" font-size="6" text-anchor="middle" fill="#333" >5</text>
<rect x="399.90" y="311.00" width="10.10" height="38.00" fill="#d9d9d9" />
<text x="405.00" y="332.20" font-size="6" text-anchor="middle" fill="#333" >3</text>
<rect x="399.90" y="353.40" width="10.10" height="38.00" fill="#d9d9d9" />
<text x="405.00" y="374.60" font-size="6" text-anchor="middle" fill="#333" >2</text>
<rect x="399.90" y="395.80" width="10.10" height="38.50" fill="#d9d9d9" />
<text x="405.00" y="417.25" font-size="6" text-anchor="middle" fill="#333" >1</text>
<circle cx="429.00" cy="287.70" r="7.30" fill="#0c4690" />
<path d="M429.00,287.70 L429.00,280.40 A7.30,7.30 0 0 1 431.26,280.76 Z" fill="#ec0303"/>
<circle cx="472.00" cy="287.70" r="7.30" fill="#0c4690" />
<path d="M472.00,287.70 L472.00,280.40 A7.30,7.30 0 0 1 472.91,280.46 Z" fill="#ec0303"/>
<circle cx="514.30" cy="287.70" r="7.30" fill="#0c4690" />
<path d="M514.30,287.70 L514.30,280.40 A7.30,7.30 0 0 1 520.70,284.18 Z" fill="#ec0303"/>
<circle cx="429.00" cy="330.20" r="14.00" fill="#0c4690" />
<path d="M429.00,330.20 L429.00,316.20 A14.00,14.00 0 0 1 439.79,339.12 Z" fill="#ec0303"/>
<circle cx="472.00" cy="330.20" r="14.00" fill="#0c4690" />
<path d="M472.00,330.20 L472.00,316.20 A14.00,14.00 0 0 1 480.23,318.87 Z" fill="#ec0303"/>
<circle cx="514.30" cy="330.20" r="14.00" fill="#0c4690" />
<path d="M514.30,330.20 L514.30,316.20 A14.00,14.00 0 0 1 518.63,343.51 Z" fill="#ec0303"/>
<circle cx="429.00" cy="372.40" r="14.70" fill="#0c4690" />
<path d="M429.00,372.40 L429.00,357.70 A14.70,14.70 0 0 1 442.98,376.94 Z" fill="#ec0303"/>
<circle cx="472.00" cy="372.40" r="14.70" fill="#0c4690" />
<path d="M472.00,372.40 L472.00,357.70 A14.70,14.70 0 0 1 477.41,358.73 Z" fill="#ec0303"/>
<circle cx="514.30" cy="372.40" r="14.70" fill="#0c4690" />
<path d="M514.30,372.40 L514.30,357.70 A14.70,14.70 0 0 1 527.60,378.66 Z" fill="#ec0303"/>
<circle cx="429.00" cy="414.20" r="16.00" fill="#0c4690" />
<path d="M429.00,414.20 L429.00,398.20 A16.00,16.00 0 0 1 433.94,429.42 Z" fill="#ec0303"/>
<circle cx="472.00" cy="414.20" r="16.00" fill="#0c4690" />
<path d="M472.00,414.20 L472.00,398.20 A16.00,16.00 0 0 1 486.02,406.49 Z" fill="#ec0303"/>
<circle cx="514.30" cy="414.20" r="16.00" fill="#0c4690" />
<path d="M514.30,414.20 L514.30,398.20 A16.00,16.00 0 0 1 529.80,418.18 Z" fill="#ec0303"/>
<text x="429.00" y="442.50" font-size="6.5" text-anchor="middle" fill="#222" >TGFB1</text>
<text x="472.00" y="442.50" font-size="6.5" text-anchor="middle" fill="#222" >TGFB2</text>
<text x="514.30" y="442.50" font-size="6.5" text-anchor="middle" fill="#222" >TGFB3</text>
<text x="393.00" y="350.50" font-size="8.2" text-anchor="middle" transform="rotate(-90 393.00 350.50)" fill="#000" >Cluster</text>
<text x="545.50" y="339.80" font-size="7.9" fill="#000" >Expressed</text>
<rect x="545.00" y="344.00" width="12.60" height="12.80" fill="#0c4690" />
<rect x="545.00" y="356.80" width="12.60" height="12.70" fill="#ec0303" />
<text x="561.60" y="352.60" font-size="6.5" fill="#222" >No</text>
<text x="561.60" y="365.40" font-size="6.5" fill="#222" >Yes</text>
<text transform="translate(3.30,497.78) scale(0.864,1)" font-size="22.26" fill="#000" stroke="#000" stroke-width="0.45">e</text>
<text transform="translate(15.80,496.95) scale(0.710,1)" font-size="22.00" fill="#000" stroke="#000" stroke-width="0.9">)</text>
<line x1="83.20" y1="501.80" x2="83.20" y2="626.80" stroke="#000" stroke-width="1.1" />
<line x1="82.70" y1="626.20" x2="234.20" y2="626.20" stroke="#000" stroke-width="1.1" />
<line x1="80.20" y1="626.20" x2="83.20" y2="626.20" stroke="#000" stroke-width="0.9" />
<text x="79.00" y="629.20" font-size="8.6" text-anchor="end" fill="#000" >0</text>
<line x1="80.20" y1="601.50" x2="83.20" y2="601.50" stroke="#000" stroke-width="0.9" />
<text x="79.00" y="604.50" font-size="8.6" text-anchor="end" fill="#000" >1</text>
<line x1="80.20" y1="576.80" x2="83.20" y2="576.80" stroke="#000" stroke-width="0.9" />
<text x="79.00" y="579.80" font-size="8.6" text-anchor="end" fill="#000" >2</text>
<line x1="80.20" y1="552.10" x2="83.20" y2="552.10" stroke="#000" stroke-width="0.9" />
<text x="79.00" y="555.10" font-size="8.6" text-anchor="end" fill="#000" >3</text>
<line x1="80.20" y1="527.40" x2="83.20" y2="527.40" stroke="#000" stroke-width="0.9" />
<text x="79.00" y="530.40" font-size="8.6" text-anchor="end" fill="#000" >4</text>
<line x1="80.20" y1="502.70" x2="83.20" y2="502.70" stroke="#000" stroke-width="0.9" />
<text x="79.00" y="505.70" font-size="8.6" text-anchor="end" fill="#000" >5</text>
<line x1="134.30" y1="501.50" x2="134.30" y2="626.00" stroke="#f6a8a8" stroke-width="0.6" />
<line x1="181.40" y1="501.50" x2="181.40" y2="626.00" stroke="#f6a8a8" stroke-width="0.6" />
<rect x="91.70" y="601.25" width="18.10" height="24.95" fill="#0a14f0" />
<rect x="111.30" y="606.29" width="18.10" height="19.91" fill="#f40a0a" />
<rect x="139.20" y="601.67" width="17.90" height="24.53" fill="#0a14f0" />
<rect x="158.30" y="551.11" width="18.60" height="75.09" fill="#f40a0a" />
<rect x="186.10" y="604.09" width="17.90" height="22.11" fill="#0a14f0" />
<rect x="205.80" y="556.05" width="18.00" height="70.15" fill="#f40a0a" />
<line x1="100.90" y1="592.40" x2="100.90" y2="608.50" stroke="#555" stroke-width="0.7" />
<line x1="96.10" y1="592.40" x2="105.70" y2="592.40" stroke="#555" stroke-width="0.7" />
<line x1="96.10" y1="608.50" x2="105.70" y2="608.50" stroke="#444" stroke-width="0.7" />
<line x1="120.20" y1="603.00" x2="120.20" y2="609.20" stroke="#bbb" stroke-width="0.7" />
<line x1="115.40" y1="603.00" x2="125.00" y2="603.00" stroke="#bbb" stroke-width="0.7" />
<line x1="115.40" y1="609.20" x2="125.00" y2="609.20" stroke="#999" stroke-width="0.7" />
<line x1="148.30" y1="594.60" x2="148.30" y2="601.70" stroke="#444" stroke-width="0.7" />
<line x1="143.50" y1="594.60" x2="153.10" y2="594.60" stroke="#444" stroke-width="0.7" />
<line x1="167.30" y1="529.40" x2="167.30" y2="551.20" stroke="#444" stroke-width="0.7" />
<line x1="162.50" y1="529.40" x2="172.10" y2="529.40" stroke="#444" stroke-width="0.7" />
<line x1="195.10" y1="590.30" x2="195.10" y2="604.20" stroke="#444" stroke-width="0.7" />
<line x1="190.30" y1="590.30" x2="199.90" y2="590.30" stroke="#444" stroke-width="0.7" />
<line x1="214.80" y1="548.20" x2="214.80" y2="589.40" stroke="#222" stroke-width="0.7" />
<line x1="210.00" y1="548.20" x2="219.60" y2="548.20" stroke="#222" stroke-width="0.7" />
<line x1="210.00" y1="589.40" x2="219.60" y2="589.40" stroke="#222" stroke-width="0.7" />
<rect x="94.60" y="589.10" width="3.80" height="3.80" fill="#000" />
<rect x="103.00" y="591.50" width="3.80" height="3.80" fill="#000" />
<rect x="94.60" y="598.90" width="3.80" height="3.80" fill="#000" />
<rect x="103.00" y="600.60" width="3.80" height="3.80" fill="#000" />
<rect x="99.00" y="612.10" width="3.80" height="3.80" fill="#000" />
<rect x="118.30" y="599.10" width="3.80" height="3.80" fill="#000" />
<rect x="118.30" y="601.60" width="3.80" height="3.80" fill="#000" />
<rect x="118.30" y="604.10" width="3.80" height="3.80" fill="#000" />
<rect x="118.30" y="606.60" width="3.80" height="3.80" fill="#000" />
<rect x="118.30" y="608.40" width="3.80" height="3.80" fill="#000" />
<rect x="146.40" y="590.10" width="3.80" height="3.80" fill="#000" />
<rect x="146.40" y="593.60" width="3.80" height="3.80" fill="#000" />
<rect x="146.40" y="597.10" width="3.80" height="3.80" fill="#000" />
<rect x="146.40" y="600.60" width="3.80" height="3.80" fill="#000" />
<rect x="142.10" y="605.30" width="3.80" height="3.80" fill="#000" />
<rect x="150.40" y="605.30" width="3.80" height="3.80" fill="#000" />
<rect x="165.50" y="518.90" width="3.80" height="3.80" fill="#000" />
<rect x="165.50" y="536.10" width="3.80" height="3.80" fill="#000" />
<rect x="161.30" y="548.60" width="3.80" height="3.80" fill="#000" />
<rect x="161.30" y="553.80" width="3.80" height="3.80" fill="#000" />
<rect x="169.70" y="550.80" width="3.80" height="3.80" fill="#000" />
<rect x="193.20" y="575.40" width="3.80" height="3.80" fill="#000" />
<rect x="186.50" y="605.60" width="3.80" height="3.80" fill="#000" />
<rect x="191.10" y="601.80" width="3.80" height="3.80" fill="#000" />
<rect x="195.80" y="604.90" width="3.80" height="3.80" fill="#000" />
<rect x="200.60" y="601.80" width="3.80" height="3.80" fill="#000" />
<rect x="212.90" y="539.70" width="3.80" height="3.80" fill="#000" />
<rect x="208.50" y="553.90" width="3.80" height="3.80" fill="#000" />
<rect x="217.00" y="552.20" width="3.80" height="3.80" fill="#000" />
<rect x="212.90" y="578.90" width="3.80" height="3.80" fill="#000" />
<rect x="212.90" y="595.60" width="3.80" height="3.80" fill="#000" />
<rect x="92.50" y="476.40" width="32.20" height="14.60" fill="#fff" stroke="#555" stroke-width="0.7"/>
<text x="108.60" y="486.90" font-size="8.4" text-anchor="middle" font-style="italic" fill="#111" >TGFB1</text>
<rect x="141.60" y="476.40" width="31.80" height="14.60" fill="#fff" stroke="#555" stroke-width="0.7"/>
<text x="157.50" y="486.90" font-size="8.4" text-anchor="middle" font-style="italic" fill="#111" >TGFB2</text>
<rect x="190.40" y="476.40" width="32.10" height="14.60" fill="#fff" stroke="#555" stroke-width="0.7"/>
<text x="206.45" y="486.90" font-size="8.4" text-anchor="middle" font-style="italic" fill="#111" >TGFB3</text>
<text x="157.35" y="506.00" font-size="8.2" text-anchor="middle" fill="#000" >0.007</text>
<path d="M147.4,515.3 V511.8 H167.3 V515.3" fill="none" stroke="#000" stroke-width="0.8"/>
<text x="204.95" y="506.00" font-size="8.2" text-anchor="middle" fill="#000" >0.03</text>
<path d="M194.7,515.3 V511.8 H215.2 V515.3" fill="none" stroke="#000" stroke-width="0.8"/>
<text x="58.00" y="564.00" font-size="8.2" text-anchor="middle" textLength="92.00" lengthAdjust="spacingAndGlyphs" transform="rotate(-90 58.00 564.00)" fill="#000" >Relative gene expression</text>
<text x="67.00" y="562.00" font-size="8.2" text-anchor="middle" textLength="46.70" lengthAdjust="spacingAndGlyphs" transform="rotate(-90 67.00 562.00)" fill="#000" >(2^−(ΔΔCT)</text>
<rect x="88.00" y="632.00" width="12.90" height="8.00" fill="#0a14f0" />
<rect x="88.00" y="641.50" width="12.90" height="7.30" fill="#f40a0a" />
<text x="104.00" y="639.50" font-size="8.4" textLength="62.00" lengthAdjust="spacingAndGlyphs" fill="#000" >Synthetic VSMC</text>
<text x="104.00" y="648.80" font-size="8.4" textLength="67.40" lengthAdjust="spacingAndGlyphs" fill="#000" >Contractile VSMC</text>
<text transform="translate(363.10,509.50) scale(1.079,1)" font-size="22.51" fill="#000" stroke="#000" stroke-width="0.45">f</text>
<text transform="translate(371.90,509.07) scale(0.563,1)" font-size="21.89" fill="#000" stroke="#000" stroke-width="0.9">)</text>
<line x1="424.20" y1="498.00" x2="424.20" y2="561.20" stroke="#000" stroke-width="1.1" />
<line x1="424.20" y1="563.80" x2="424.20" y2="627.10" stroke="#000" stroke-width="1.1" />
<line x1="423.70" y1="626.60" x2="604.00" y2="626.60" stroke="#000" stroke-width="1.1" />
<line x1="422.00" y1="561.10" x2="426.50" y2="561.10" stroke="#000" stroke-width="0.8" />
<line x1="422.00" y1="563.60" x2="426.50" y2="563.60" stroke="#000" stroke-width="0.8" />
<line x1="421.30" y1="498.60" x2="424.20" y2="498.60" stroke="#000" stroke-width="0.9" />
<text x="419.30" y="501.10" font-size="7.4" text-anchor="end" fill="#000" >30</text>
<line x1="421.30" y1="511.67" x2="424.20" y2="511.67" stroke="#000" stroke-width="0.9" />
<text x="419.30" y="514.17" font-size="7.4" text-anchor="end" fill="#000" >25</text>
<line x1="421.30" y1="524.75" x2="424.20" y2="524.75" stroke="#000" stroke-width="0.9" />
<text x="419.30" y="527.25" font-size="7.4" text-anchor="end" fill="#000" >20</text>
<line x1="421.30" y1="537.82" x2="424.20" y2="537.82" stroke="#000" stroke-width="0.9" />
<text x="419.30" y="540.32" font-size="7.4" text-anchor="end" fill="#000" >15</text>
<line x1="421.30" y1="550.90" x2="424.20" y2="550.90" stroke="#000" stroke-width="0.9" />
<text x="419.30" y="553.40" font-size="7.4" text-anchor="end" fill="#000" >10</text>
<line x1="421.30" y1="563.90" x2="424.20" y2="563.90" stroke="#000" stroke-width="0.9" />
<text x="419.30" y="566.40" font-size="7.4" text-anchor="end" fill="#000" >6</text>
<line x1="421.30" y1="584.60" x2="424.20" y2="584.60" stroke="#000" stroke-width="0.9" />
<text x="419.30" y="587.10" font-size="7.4" text-anchor="end" fill="#000" >4</text>
<line x1="421.30" y1="605.60" x2="424.20" y2="605.60" stroke="#000" stroke-width="0.9" />
<text x="419.30" y="608.10" font-size="7.4" text-anchor="end" fill="#000" >2</text>
<line x1="421.30" y1="626.60" x2="424.20" y2="626.60" stroke="#000" stroke-width="0.9" />
<text x="419.30" y="629.10" font-size="7.4" text-anchor="end" fill="#000" >0</text>
<line x1="471.30" y1="498.00" x2="471.30" y2="626.00" stroke="#f6b0b0" stroke-width="0.6" />
<line x1="514.10" y1="498.00" x2="514.10" y2="626.00" stroke="#f6b0b0" stroke-width="0.6" />
<line x1="557.40" y1="498.00" x2="557.40" y2="626.00" stroke="#f6b0b0" stroke-width="0.6" />
<rect x="432.90" y="616.10" width="16.10" height="10.50" fill="#0a14f0" />
<rect x="450.40" y="600.35" width="16.40" height="26.25" fill="#f40a0a" />
<rect x="475.80" y="618.20" width="16.20" height="8.40" fill="#0a14f0" />
<rect x="493.00" y="524.00" width="16.50" height="37.80" fill="#f40a0a" />
<rect x="493.00" y="563.70" width="16.50" height="62.90" fill="#f40a0a" />
<rect x="518.30" y="616.62" width="17.00" height="9.98" fill="#0a14f0" />
<rect x="536.30" y="612.11" width="16.40" height="14.49" fill="#f40a0a" />
<rect x="561.50" y="619.36" width="16.50" height="7.25" fill="#0a14f0" />
<rect x="579.30" y="597.62" width="16.40" height="28.98" fill="#f40a0a" />
<line x1="440.80" y1="612.60" x2="440.80" y2="616.00" stroke="#d8d8d8" stroke-width="0.7" />
<line x1="436.80" y1="612.60" x2="444.80" y2="612.60" stroke="#d8d8d8" stroke-width="0.7" />
<line x1="458.50" y1="592.50" x2="458.50" y2="601.00" stroke="#777" stroke-width="0.7" />
<line x1="455.00" y1="592.50" x2="462.00" y2="592.50" stroke="#777" stroke-width="0.7" />
<line x1="483.90" y1="595.80" x2="483.90" y2="618.00" stroke="#aaa" stroke-width="0.7" />
<line x1="479.60" y1="595.80" x2="488.20" y2="595.80" stroke="#aaa" stroke-width="0.7" />
<line x1="501.40" y1="515.20" x2="501.40" y2="524.00" stroke="#888" stroke-width="0.7" />
<line x1="497.50" y1="515.20" x2="505.30" y2="515.20" stroke="#888" stroke-width="0.7" />
<line x1="529.30" y1="615.50" x2="529.30" y2="617.00" stroke="#aaa" stroke-width="0.7" />
<line x1="525.55" y1="615.50" x2="533.05" y2="615.50" stroke="#aaa" stroke-width="0.7" />
<line x1="544.50" y1="608.20" x2="544.50" y2="612.20" stroke="#777" stroke-width="0.7" />
<line x1="538.50" y1="608.20" x2="550.50" y2="608.20" stroke="#777" stroke-width="0.7" />
<line x1="569.50" y1="603.40" x2="569.50" y2="619.40" stroke="#333" stroke-width="0.7" />
<line x1="565.20" y1="603.40" x2="573.80" y2="603.40" stroke="#333" stroke-width="0.7" />
<line x1="587.20" y1="589.50" x2="587.20" y2="597.70" stroke="#777" stroke-width="0.7" />
<line x1="582.20" y1="589.50" x2="592.20" y2="589.50" stroke="#777" stroke-width="0.7" />
<rect x="439.20" y="608.00" width="3.20" height="3.20" fill="#000" />
<rect x="436.90" y="614.50" width="3.20" height="3.20" fill="#000" />
<rect x="441.80" y="616.20" width="3.20" height="3.20" fill="#000" />
<rect x="432.90" y="617.20" width="3.20" height="3.20" fill="#000" />
<rect x="445.70" y="614.90" width="3.20" height="3.20" fill="#000" />
<rect x="453.40" y="589.60" width="3.20" height="3.20" fill="#000" />
<rect x="460.60" y="591.50" width="3.20" height="3.20" fill="#000" />
<rect x="453.40" y="599.00" width="3.20" height="3.20" fill="#000" />
<rect x="460.60" y="599.80" width="3.20" height="3.20" fill="#000" />
<rect x="456.90" y="603.60" width="3.20" height="3.20" fill="#000" />
<rect x="475.60" y="615.80" width="3.20" height="3.20" fill="#000" />
<rect x="482.30" y="617.20" width="3.20" height="3.20" fill="#000" />
<rect x="488.70" y="615.80" width="3.20" height="3.20" fill="#000" />
<rect x="482.30" y="624.10" width="3.20" height="3.20" fill="#000" />
<rect x="482.40" y="572.60" width="3.20" height="3.20" fill="#000" />
<rect x="499.40" y="508.40" width="3.20" height="3.20" fill="#000" />
<rect x="495.90" y="521.80" width="3.20" height="3.20" fill="#000" />
<rect x="503.40" y="519.40" width="3.20" height="3.20" fill="#000" />
<rect x="499.40" y="531.10" width="3.20" height="3.20" fill="#000" />
<rect x="499.40" y="542.10" width="3.20" height="3.20" fill="#000" />
<rect x="518.50" y="613.60" width="3.20" height="3.20" fill="#000" />
<rect x="518.50" y="617.20" width="3.20" height="3.20" fill="#000" />
<rect x="522.90" y="613.90" width="3.20" height="3.20" fill="#000" />
<rect x="527.20" y="617.20" width="3.20" height="3.20" fill="#000" />
<rect x="531.70" y="614.90" width="3.20" height="3.20" fill="#000" />
<rect x="536.30" y="605.70" width="3.20" height="3.20" fill="#000" />
<rect x="536.30" y="609.90" width="3.20" height="3.20" fill="#000" />
<rect x="536.30" y="614.10" width="3.20" height="3.20" fill="#000" />
<rect x="542.90" y="610.60" width="3.20" height="3.20" fill="#000" />
<rect x="549.20" y="607.60" width="3.20" height="3.20" fill="#000" />
<rect x="549.20" y="612.30" width="3.20" height="3.20" fill="#000" />
<rect x="567.90" y="589.20" width="3.20" height="3.20" fill="#000" />
<rect x="561.40" y="618.10" width="3.20" height="3.20" fill="#000" />
<rect x="567.90" y="614.10" width="3.20" height="3.20" fill="#000" />
<rect x="567.90" y="617.60" width="3.20" height="3.20" fill="#000" />
<rect x="574.50" y="618.10" width="3.20" height="3.20" fill="#000" />
<rect x="582.00" y="587.90" width="3.20" height="3.20" fill="#000" />
<rect x="589.00" y="587.90" width="3.20" height="3.20" fill="#000" />
<rect x="582.00" y="595.90" width="3.20" height="3.20" fill="#000" />
<rect x="589.00" y="598.80" width="3.20" height="3.20" fill="#000" />
<rect x="582.00" y="601.00" width="3.20" height="3.20" fill="#000" />
<rect x="493.00" y="561.80" width="16.50" height="1.90" fill="#fff" />
<rect x="429.50" y="472.00" width="37.40" height="12.20" fill="#fff" stroke="#555" stroke-width="0.7"/>
<text x="448.20" y="480.80" font-size="7" text-anchor="middle" font-style="italic" fill="#111" >ACTA2</text>
<rect x="473.40" y="472.00" width="38.10" height="12.20" fill="#fff" stroke="#555" stroke-width="0.7"/>
<text x="492.45" y="480.80" font-size="7" text-anchor="middle" font-style="italic" fill="#111" >MYH11</text>
<rect x="519.00" y="472.00" width="34.40" height="12.20" fill="#fff" stroke="#555" stroke-width="0.7"/>
<text x="536.20" y="480.80" font-size="7" text-anchor="middle" font-style="italic" fill="#111" >TAGLN</text>
<rect x="560.20" y="472.00" width="27.50" height="12.20" fill="#fff" stroke="#555" stroke-width="0.7"/>
<text x="573.95" y="480.80" font-size="7" text-anchor="middle" font-style="italic" fill="#111" >CALD1</text>
<text x="449.70" y="494.20" font-size="7.2" text-anchor="middle" fill="#000" >0.007</text>
<path d="M440.7,502.4 V498.9 H458.7 V502.4" fill="none" stroke="#000" stroke-width="0.8"/>
<text x="492.50" y="494.20" font-size="7.2" text-anchor="middle" fill="#000" >0.008</text>
<path d="M483.5,502.4 V498.9 H501.5 V502.4" fill="none" stroke="#000" stroke-width="0.8"/>
<text x="535.40" y="494.20" font-size="7.2" text-anchor="middle" fill="#000" >0.017</text>
<path d="M526.3,502.4 V498.9 H544.5 V502.4" fill="none" stroke="#000" stroke-width="0.8"/>
<text x="578.60" y="494.20" font-size="7.2" text-anchor="middle" fill="#000" >0.05</text>
<path d="M569.5,502.4 V498.9 H587.7 V502.4" fill="none" stroke="#000" stroke-width="0.8"/>
<text x="398.80" y="562.20" font-size="7.2" text-anchor="middle" textLength="80.70" lengthAdjust="spacingAndGlyphs" transform="rotate(-90 398.80 562.20)" fill="#000" >Relative gene expression</text>
<text x="407.50" y="562.10" font-size="7.2" text-anchor="middle" textLength="36.20" lengthAdjust="spacingAndGlyphs" transform="rotate(-90 407.50 562.10)" fill="#000" >(2^−(ΔΔCT)</text>
<rect x="433.70" y="631.00" width="11.00" height="6.30" fill="#0a14f0" />
<rect x="433.70" y="638.30" width="11.00" height="6.30" fill="#f40a0a" />
<text x="447.70" y="637.10" font-size="7.3" textLength="52.00" lengthAdjust="spacingAndGlyphs" fill="#000" >Synthetic VSMC</text>
<text x="447.70" y="644.70" font-size="7.3" textLength="57.50" lengthAdjust="spacingAndGlyphs" fill="#000" >Contractile VSMC</text>
<text transform="translate(-1.00,668.53) scale(1.054,1)" font-size="20.68" font-family="Liberation Serif" fill="#000" stroke="#000" stroke-width="0.45">g</text>
<text transform="translate(12.00,668.34) scale(0.613,1)" font-size="21.57" fill="#000" stroke="#000" stroke-width="0.9">)</text>
<rect x="200.10" y="673.90" width="75.80" height="13.20" fill="#4472b2" />
<text x="191.60" y="682.80" font-size="6.47" text-anchor="end" fill="#222" >Extracellular matrix organization</text>
<line x1="193.40" y1="680.50" x2="196.40" y2="680.50" stroke="#333" stroke-width="0.7" />
<rect x="200.10" y="689.03" width="34.41" height="13.20" fill="#4876b5" />
<text x="191.60" y="697.93" font-size="6.47" text-anchor="end" fill="#222" >ECM proteoglycans</text>
<line x1="193.40" y1="695.63" x2="196.40" y2="695.63" stroke="#333" stroke-width="0.7" />
<rect x="200.10" y="704.16" width="33.67" height="13.20" fill="#4c7ab8" />
<text x="191.60" y="713.06" font-size="6.47" text-anchor="end" fill="#222" >Elastic fibre formation</text>
<line x1="193.40" y1="710.76" x2="196.40" y2="710.76" stroke="#333" stroke-width="0.7" />
<rect x="200.10" y="719.29" width="30.88" height="13.20" fill="#517fbb" />
<text x="191.60" y="728.19" font-size="6.47" text-anchor="end" fill="#222" >Molecules associated with elastic fibres</text>
<line x1="193.40" y1="725.89" x2="196.40" y2="725.89" stroke="#333" stroke-width="0.7" />
<rect x="200.10" y="734.42" width="28.83" height="13.20" fill="#5583be" />
<text x="191.60" y="743.32" font-size="6.47" text-anchor="end" fill="#222" >Collagen formation</text>
<line x1="193.40" y1="741.02" x2="196.40" y2="741.02" stroke="#333" stroke-width="0.7" />
<rect x="200.10" y="749.55" width="26.78" height="13.20" fill="#5987c2" />
<text x="191.60" y="758.45" font-size="6.47" text-anchor="end" fill="#222" >Collagen biosynthesis and modifying enzymes</text>
<line x1="193.40" y1="756.15" x2="196.40" y2="756.15" stroke="#333" stroke-width="0.7" />
<rect x="200.10" y="764.68" width="26.97" height="13.20" fill="#5d8bc5" />
<text x="191.60" y="773.58" font-size="6.47" text-anchor="end" fill="#222" >Degradation of the extracellular matrix</text>
<line x1="193.40" y1="771.28" x2="196.40" y2="771.28" stroke="#333" stroke-width="0.7" />
<rect x="200.10" y="779.81" width="25.67" height="13.20" fill="#6290c8" />
<text x="191.60" y="788.71" font-size="6.47" text-anchor="end" fill="#222" >Collagen degradation</text>
<line x1="193.40" y1="786.41" x2="196.40" y2="786.41" stroke="#333" stroke-width="0.7" />
<rect x="200.10" y="794.94" width="24.37" height="13.20" fill="#6694cb" />
<text x="191.60" y="803.84" font-size="6.47" text-anchor="end" fill="#222" >Diseases associated with glycosaminoglycan metabolism</text>
<line x1="193.40" y1="801.54" x2="196.40" y2="801.54" stroke="#333" stroke-width="0.7" />
<rect x="200.10" y="810.07" width="23.62" height="13.20" fill="#6a98ce" />
<text x="191.60" y="818.97" font-size="6.47" text-anchor="end" fill="#222" >Assembly of collagen fibrils and other multimeric structures</text>
<line x1="193.40" y1="816.67" x2="196.40" y2="816.67" stroke="#333" stroke-width="0.7" />
<line x1="196.40" y1="671.60" x2="196.40" y2="826.90" stroke="#222" stroke-width="1.1" />
<line x1="195.90" y1="826.40" x2="279.20" y2="826.40" stroke="#222" stroke-width="1.1" />
<line x1="208.60" y1="671.60" x2="208.60" y2="826.40" stroke="#000" stroke-width="1.1" stroke-dasharray="3.7,3.2" stroke-dashoffset="1.5"/>
<line x1="200.10" y1="826.40" x2="200.10" y2="829.20" stroke="#333" stroke-width="0.7" />
<text x="200.10" y="836.00" font-size="6.6" text-anchor="middle" fill="#444" >0</text>
<line x1="218.70" y1="826.40" x2="218.70" y2="829.20" stroke="#333" stroke-width="0.7" />
<text x="218.70" y="836.00" font-size="6.6" text-anchor="middle" fill="#444" >10</text>
<line x1="237.30" y1="826.40" x2="237.30" y2="829.20" stroke="#333" stroke-width="0.7" />
<text x="237.30" y="836.00" font-size="6.6" text-anchor="middle" fill="#444" >20</text>
<line x1="255.90" y1="826.40" x2="255.90" y2="829.20" stroke="#333" stroke-width="0.7" />
<text x="255.90" y="836.00" font-size="6.6" text-anchor="middle" fill="#444" >30</text>
<line x1="274.50" y1="826.40" x2="274.50" y2="829.20" stroke="#333" stroke-width="0.7" />
<text x="274.50" y="836.00" font-size="6.6" text-anchor="middle" fill="#444" >40</text>
<text x="237.80" y="846.00" font-size="8.8" text-anchor="middle" textLength="63.40" lengthAdjust="spacingAndGlyphs" fill="#111" >−log10(p−value)</text>
<text transform="translate(360.00,673.60) scale(0.811,1)" font-size="21.52" fill="#000" stroke="#000" stroke-width="0.45">h</text>
<text transform="translate(373.00,673.46) scale(0.588,1)" font-size="21.46" fill="#000" stroke="#000" stroke-width="0.9">)</text>
<rect x="443.90" y="656.50" width="28.20" height="3.90" fill="#c53a2b" />
<rect x="472.10" y="656.50" width="27.00" height="3.90" fill="#0a72bb" />
<rect x="499.10" y="656.50" width="25.10" height="3.90" fill="#e68a2e" />
<rect x="524.20" y="656.50" width="13.10" height="3.90" fill="#239245" />
<rect x="443.90" y="664.20" width="28.20" height="8.97" fill="#a1c8e4" />
<rect x="443.90" y="664.20" width="0.60" height="8.97" fill="#cfe5f1" />
<rect x="444.50" y="664.20" width="0.60" height="8.97" fill="#aacee7" />
<rect x="445.10" y="664.20" width="1.30" height="8.97" fill="#d5e8f2" />
<rect x="446.40" y="664.20" width="0.80" height="8.97" fill="#c2ddee" />
<rect x="447.20" y="664.20" width="1.30" height="8.97" fill="#c8e1ef" />
<rect x="448.50" y="664.20" width="1.30" height="8.97" fill="#a9cde6" />
<rect x="449.80" y="664.20" width="1.00" height="8.97" fill="#5384be" />
<rect x="450.80" y="664.20" width="0.80" height="8.97" fill="#699bcc" />
<rect x="451.60" y="664.20" width="1.00" height="8.97" fill="#99c1e1" />
<rect x="452.60" y="664.20" width="0.60" height="8.97" fill="#cae2ef" />
<rect x="453.20" y="664.20" width="0.60" height="8.97" fill="#7aabd6" />
<rect x="453.80" y="664.20" width="0.60" height="8.97" fill="#cbe3f0" />
<rect x="454.40" y="664.20" width="1.30" height="8.97" fill="#eef4e0" />
<rect x="455.70" y="664.20" width="1.00" height="8.97" fill="#eef4e0" />
<rect x="456.70" y="664.20" width="1.30" height="8.97" fill="#cbe3f0" />
<rect x="458.00" y="664.20" width="0.60" height="8.97" fill="#77a9d5" />
<rect x="458.60" y="664.20" width="0.80" height="8.97" fill="#bcdaec" />
<rect x="459.40" y="664.20" width="0.60" height="8.97" fill="#4575b4" />
<rect x="460.00" y="664.20" width="1.00" height="8.97" fill="#77a8d5" />
<rect x="461.00" y="664.20" width="0.80" height="8.97" fill="#73a5d3" />
<rect x="461.80" y="664.20" width="0.60" height="8.97" fill="#81b0d9" />
<rect x="462.40" y="664.20" width="0.80" height="8.97" fill="#87b4db" />
<rect x="463.20" y="664.20" width="1.00" height="8.97" fill="#eaf3e9" />
<rect x="465.80" y="664.20" width="1.00" height="8.97" fill="#b3d4ea" />
<rect x="466.80" y="664.20" width="1.30" height="8.97" fill="#c6e0ef" />
<rect x="468.10" y="664.20" width="1.00" height="8.97" fill="#78a9d6" />
<rect x="469.10" y="664.20" width="1.00" height="8.97" fill="#b8d7eb" />
<rect x="470.10" y="664.20" width="1.30" height="8.97" fill="#bcdaec" />
<rect x="471.40" y="664.20" width="0.70" height="8.97" fill="#6192c7" />
<rect x="472.10" y="664.20" width="27.00" height="8.97" fill="#edf4e3" />
<rect x="472.10" y="664.20" width="0.80" height="8.97" fill="#f9f8c7" />
<rect x="473.50" y="664.20" width="0.80" height="8.97" fill="#90bbde" />
<rect x="474.30" y="664.20" width="1.00" height="8.97" fill="#d0e6f1" />
<rect x="475.30" y="664.20" width="1.00" height="8.97" fill="#dcecf4" />
<rect x="478.90" y="664.20" width="1.00" height="8.97" fill="#fbf3ba" />
<rect x="479.90" y="664.20" width="1.00" height="8.97" fill="#faf6c1" />
<rect x="480.90" y="664.20" width="0.80" height="8.97" fill="#e0eff5" />
<rect x="483.00" y="664.20" width="0.80" height="8.97" fill="#e3f1f6" />
<rect x="483.80" y="664.20" width="1.30" height="8.97" fill="#f6f7cf" />
<rect x="486.40" y="664.20" width="1.00" height="8.97" fill="#f1f5da" />
<rect x="487.40" y="664.20" width="0.80" height="8.97" fill="#fed989" />
<rect x="488.20" y="664.20" width="1.00" height="8.97" fill="#a3c8e4" />
<rect x="490.50" y="664.20" width="1.30" height="8.97" fill="#deeef5" />
<rect x="491.80" y="664.20" width="1.30" height="8.97" fill="#fbf5bf" />
<rect x="493.10" y="664.20" width="1.30" height="8.97" fill="#d3e7f2" />
<rect x="494.40" y="664.20" width="0.80" height="8.97" fill="#e8f2ee" />
<rect x="495.20" y="664.20" width="1.00" height="8.97" fill="#c8e1ef" />
<rect x="496.20" y="664.20" width="1.30" height="8.97" fill="#d5e8f2" />
<rect x="497.50" y="664.20" width="0.60" height="8.97" fill="#f2f5d8" />
<rect x="499.10" y="664.20" width="25.10" height="8.97" fill="#fedb8b" />
<rect x="499.70" y="664.20" width="0.60" height="8.97" fill="#fecc7e" />
<rect x="500.30" y="664.20" width="1.00" height="8.97" fill="#fde69e" />
<rect x="501.30" y="664.20" width="0.80" height="8.97" fill="#fde8a1" />
<rect x="502.10" y="664.20" width="0.80" height="8.97" fill="#d3e7f2" />
<rect x="502.90" y="664.20" width="1.00" height="8.97" fill="#fed182" />
<rect x="503.90" y="664.20" width="1.00" height="8.97" fill="#fdc274" />
<rect x="504.90" y="664.20" width="0.60" height="8.97" fill="#fdab60" />
<rect x="505.50" y="664.20" width="1.00" height="8.97" fill="#b6d6ea" />
<rect x="507.10" y="664.20" width="1.00" height="8.97" fill="#fdb467" />
<rect x="509.10" y="664.20" width="1.30" height="8.97" fill="#f7814c" />
<rect x="510.40" y="664.20" width="1.30" height="8.97" fill="#f67f4b" />
<rect x="511.70" y="664.20" width="0.80" height="8.97" fill="#c7e0ef" />
<rect x="512.50" y="664.20" width="1.00" height="8.97" fill="#d6e9f3" />
<rect x="513.50" y="664.20" width="0.80" height="8.97" fill="#fecd7e" />
<rect x="514.30" y="664.20" width="1.00" height="8.97" fill="#fee295" />
<rect x="515.30" y="664.20" width="1.00" height="8.97" fill="#ef633f" />
<rect x="516.30" y="664.20" width="1.30" height="8.97" fill="#fbefb2" />
<rect x="517.60" y="664.20" width="0.80" height="8.97" fill="#f8f7ca" />
<rect x="519.70" y="664.20" width="0.60" height="8.97" fill="#fde8a1" />
<rect x="520.30" y="664.20" width="1.30" height="8.97" fill="#fa9957" />
<rect x="522.40" y="664.20" width="0.80" height="8.97" fill="#d8eaf3" />
<rect x="523.20" y="664.20" width="1.00" height="8.97" fill="#f67f4b" />
<rect x="524.20" y="664.20" width="13.10" height="8.97" fill="#daebf4" />
<rect x="524.20" y="664.20" width="1.30" height="8.97" fill="#fceaa7" />
<rect x="525.50" y="664.20" width="1.00" height="8.97" fill="#f6f7cf" />
<rect x="526.50" y="664.20" width="0.80" height="8.97" fill="#bedbed" />
<rect x="527.30" y="664.20" width="0.80" height="8.97" fill="#a4c9e4" />
<rect x="528.10" y="664.20" width="1.00" height="8.97" fill="#4878b6" />
<rect x="529.10" y="664.20" width="0.60" height="8.97" fill="#f2f6d7" />
<rect x="529.70" y="664.20" width="1.30" height="8.97" fill="#ecf3e5" />
<rect x="532.00" y="664.20" width="1.00" height="8.97" fill="#fee295" />
<rect x="533.00" y="664.20" width="0.80" height="8.97" fill="#70a2d1" />
<rect x="533.80" y="664.20" width="1.30" height="8.97" fill="#c0dced" />
<rect x="535.10" y="664.20" width="1.30" height="8.97" fill="#f16740" />
<rect x="536.40" y="664.20" width="0.90" height="8.97" fill="#edf4e3" />
<text x="439.60" y="671.29" font-size="7.6" text-anchor="end" fill="#222" >COL3A1</text>
<rect x="443.90" y="673.17" width="28.20" height="8.97" fill="#c2ddee" />
<rect x="443.90" y="673.17" width="1.00" height="8.97" fill="#b7d7eb" />
<rect x="445.50" y="673.17" width="0.80" height="8.97" fill="#9bc3e2" />
<rect x="446.30" y="673.17" width="0.80" height="8.97" fill="#8fbadd" />
<rect x="447.10" y="673.17" width="1.00" height="8.97" fill="#5888c0" />
<rect x="448.10" y="673.17" width="0.60" height="8.97" fill="#ecf3e5" />
<rect x="448.70" y="673.17" width="0.60" height="8.97" fill="#e4f1f6" />
<rect x="449.30" y="673.17" width="0.80" height="8.97" fill="#a1c7e4" />
<rect x="450.10" y="673.17" width="1.30" height="8.97" fill="#9bc3e1" />
<rect x="451.40" y="673.17" width="1.30" height="8.97" fill="#d9ebf3" />
<rect x="453.50" y="673.17" width="1.00" height="8.97" fill="#a2c8e4" />
<rect x="454.50" y="673.17" width="1.00" height="8.97" fill="#b2d3e9" />
<rect x="455.50" y="673.17" width="0.60" height="8.97" fill="#e2f0f6" />
<rect x="456.10" y="673.17" width="0.60" height="8.97" fill="#a8cce6" />
<rect x="456.70" y="673.17" width="1.30" height="8.97" fill="#e9f3ec" />
<rect x="458.00" y="673.17" width="0.80" height="8.97" fill="#94bedf" />
<rect x="458.80" y="673.17" width="0.80" height="8.97" fill="#fcedad" />
<rect x="459.60" y="673.17" width="1.00" height="8.97" fill="#4d7eba" />
<rect x="460.60" y="673.17" width="1.00" height="8.97" fill="#cee4f1" />
<rect x="461.60" y="673.17" width="0.80" height="8.97" fill="#7cacd7" />
<rect x="462.40" y="673.17" width="0.60" height="8.97" fill="#b6d6eb" />
<rect x="463.00" y="673.17" width="0.80" height="8.97" fill="#cde4f0" />
<rect x="463.80" y="673.17" width="1.00" height="8.97" fill="#76a8d5" />
<rect x="464.80" y="673.17" width="0.80" height="8.97" fill="#faf6c0" />
<rect x="465.60" y="673.17" width="0.80" height="8.97" fill="#96bfe0" />
<rect x="466.40" y="673.17" width="1.00" height="8.97" fill="#deeef5" />
<rect x="467.40" y="673.17" width="1.30" height="8.97" fill="#4575b4" />
<rect x="468.70" y="673.17" width="0.60" height="8.97" fill="#fbf1b6" />
<rect x="469.30" y="673.17" width="1.00" height="8.97" fill="#f2f5d8" />
<rect x="470.30" y="673.17" width="0.60" height="8.97" fill="#fedc8d" />
<rect x="470.90" y="673.17" width="1.00" height="8.97" fill="#bcd9ec" />
<rect x="472.10" y="673.17" width="27.00" height="8.97" fill="#f3f6d4" />
<rect x="472.10" y="673.17" width="1.30" height="8.97" fill="#e0eff5" />
<rect x="474.70" y="673.17" width="1.30" height="8.97" fill="#f9f8c8" />
<rect x="476.00" y="673.17" width="1.30" height="8.97" fill="#deedf4" />
<rect x="477.30" y="673.17" width="0.80" height="8.97" fill="#a3c9e4" />
<rect x="478.10" y="673.17" width="0.60" height="8.97" fill="#fdc173" />
<rect x="478.70" y="673.17" width="0.60" height="8.97" fill="#e5f1f3" />
<rect x="479.30" y="673.17" width="1.00" height="8.97" fill="#c6dfee" />
<rect x="481.30" y="673.17" width="0.80" height="8.97" fill="#a9cde6" />
<rect x="482.10" y="673.17" width="0.80" height="8.97" fill="#fde79f" />
<rect x="482.90" y="673.17" width="1.00" height="8.97" fill="#c2dded" />
<rect x="483.90" y="673.17" width="0.80" height="8.97" fill="#fde8a3" />
<rect x="484.70" y="673.17" width="1.30" height="8.97" fill="#e6f2f2" />
<rect x="486.00" y="673.17" width="0.80" height="8.97" fill="#e9f2ec" />
<rect x="486.80" y="673.17" width="0.80" height="8.97" fill="#ebf3e8" />
<rect x="487.60" y="673.17" width="1.30" height="8.97" fill="#e6f2f2" />
<rect x="488.90" y="673.17" width="0.80" height="8.97" fill="#edf4e3" />
<rect x="489.70" y="673.17" width="0.60" height="8.97" fill="#e7f2f0" />
<rect x="490.30" y="673.17" width="1.00" height="8.97" fill="#cde4f0" />
<rect x="491.30" y="673.17" width="1.30" height="8.97" fill="#d6e9f3" />
<rect x="492.60" y="673.17" width="1.00" height="8.97" fill="#e5f1f5" />
<rect x="494.80" y="673.17" width="1.30" height="8.97" fill="#e6f2f2" />
<rect x="497.40" y="673.17" width="1.00" height="8.97" fill="#feca7b" />
<rect x="498.40" y="673.17" width="0.70" height="8.97" fill="#add0e8" />
<rect x="499.10" y="673.17" width="25.10" height="8.97" fill="#fed687" />
<rect x="499.10" y="673.17" width="1.30" height="8.97" fill="#f0f5dc" />
<rect x="500.40" y="673.17" width="1.30" height="8.97" fill="#ddedf4" />
<rect x="501.70" y="673.17" width="0.80" height="8.97" fill="#fa9756" />
<rect x="502.50" y="673.17" width="1.00" height="8.97" fill="#eaf3e8" />
<rect x="503.50" y="673.17" width="1.00" height="8.97" fill="#fdb76a" />
<rect x="504.50" y="673.17" width="1.30" height="8.97" fill="#fbf0b5" />
<rect x="506.80" y="673.17" width="1.00" height="8.97" fill="#fdc274" />
<rect x="507.80" y="673.17" width="0.80" height="8.97" fill="#f88a50" />
<rect x="508.60" y="673.17" width="0.60" height="8.97" fill="#fbf1b7" />
<rect x="509.20" y="673.17" width="0.60" height="8.97" fill="#fdbb6d" />
<rect x="509.80" y="673.17" width="1.00" height="8.97" fill="#f2f5d8" />
<rect x="510.80" y="673.17" width="0.60" height="8.97" fill="#f88c52" />
<rect x="513.70" y="673.17" width="1.00" height="8.97" fill="#ebf3e8" />
<rect x="514.70" y="673.17" width="0.80" height="8.97" fill="#fde69e" />
<rect x="515.50" y="673.17" width="1.00" height="8.97" fill="#fee294" />
<rect x="517.50" y="673.17" width="1.00" height="8.97" fill="#d83328" />
<rect x="518.50" y="673.17" width="1.00" height="8.97" fill="#f0f5db" />
<rect x="519.50" y="673.17" width="0.60" height="8.97" fill="#fa9b58" />
<rect x="520.10" y="673.17" width="0.80" height="8.97" fill="#fdaf62" />
<rect x="520.90" y="673.17" width="0.80" height="8.97" fill="#fbf4be" />
<rect x="521.70" y="673.17" width="1.00" height="8.97" fill="#fdc778" />
<rect x="522.70" y="673.17" width="1.00" height="8.97" fill="#f99455" />
<rect x="523.70" y="673.17" width="0.50" height="8.97" fill="#fdbd6f" />
<rect x="524.20" y="673.17" width="13.10" height="8.97" fill="#daebf4" />
<rect x="524.20" y="673.17" width="0.60" height="8.97" fill="#e8f2ed" />
<rect x="524.80" y="673.17" width="0.80" height="8.97" fill="#6fa1d0" />
<rect x="525.60" y="673.17" width="0.60" height="8.97" fill="#b7d6eb" />
<rect x="526.20" y="673.17" width="0.60" height="8.97" fill="#b8d7eb" />
<rect x="526.80" y="673.17" width="0.80" height="8.97" fill="#a4cae5" />
<rect x="527.60" y="673.17" width="1.30" height="8.97" fill="#e5f1f4" />
<rect x="528.90" y="673.17" width="0.60" height="8.97" fill="#e1eff5" />
<rect x="529.50" y="673.17" width="1.30" height="8.97" fill="#fdb76a" />
<rect x="530.80" y="673.17" width="1.00" height="8.97" fill="#78a9d6" />
<rect x="531.80" y="673.17" width="0.80" height="8.97" fill="#fbf5be" />
<rect x="532.60" y="673.17" width="1.00" height="8.97" fill="#f8f7ca" />
<rect x="533.60" y="673.17" width="1.30" height="8.97" fill="#87b4db" />
<rect x="534.90" y="673.17" width="1.00" height="8.97" fill="#6ea0d0" />
<rect x="535.90" y="673.17" width="1.00" height="8.97" fill="#fca85e" />
<rect x="536.90" y="673.17" width="0.40" height="8.97" fill="#fdc273" />
<text x="439.60" y="680.26" font-size="7.6" text-anchor="end" fill="#222" >COL1A1</text>
<rect x="443.90" y="682.14" width="28.20" height="8.97" fill="#7cacd7" />
<rect x="443.90" y="682.14" width="1.00" height="8.97" fill="#94bddf" />
<rect x="444.90" y="682.14" width="1.00" height="8.97" fill="#84b2da" />
<rect x="445.90" y="682.14" width="1.30" height="8.97" fill="#8cb8dd" />
<rect x="448.50" y="682.14" width="1.30" height="8.97" fill="#70a2d1" />
<rect x="451.40" y="682.14" width="1.30" height="8.97" fill="#73a5d3" />
<rect x="452.70" y="682.14" width="1.00" height="8.97" fill="#74a6d4" />
<rect x="454.50" y="682.14" width="1.30" height="8.97" fill="#85b3da" />
<rect x="455.80" y="682.14" width="1.00" height="8.97" fill="#70a2d1" />
<rect x="457.60" y="682.14" width="1.00" height="8.97" fill="#74a6d3" />
<rect x="459.60" y="682.14" width="0.60" height="8.97" fill="#85b3da" />
<rect x="461.20" y="682.14" width="1.00" height="8.97" fill="#6fa1d0" />
<rect x="464.50" y="682.14" width="0.80" height="8.97" fill="#87b5db" />
<rect x="465.30" y="682.14" width="1.30" height="8.97" fill="#92bcde" />
<rect x="467.60" y="682.14" width="1.30" height="8.97" fill="#8ebadd" />
<rect x="470.50" y="682.14" width="1.30" height="8.97" fill="#85b3da" />
<rect x="471.80" y="682.14" width="0.30" height="8.97" fill="#8fbadd" />
<rect x="472.10" y="682.14" width="27.00" height="8.97" fill="#faf8c6" />
<rect x="472.10" y="682.14" width="0.80" height="8.97" fill="#f5f6d1" />
<rect x="472.90" y="682.14" width="1.00" height="8.97" fill="#fbf5bf" />
<rect x="474.90" y="682.14" width="0.80" height="8.97" fill="#fde49a" />
<rect x="475.70" y="682.14" width="0.60" height="8.97" fill="#f6f7cf" />
<rect x="476.30" y="682.14" width="1.00" height="8.97" fill="#cfe5f1" />
<rect x="478.10" y="682.14" width="1.30" height="8.97" fill="#fcedae" />
<rect x="479.40" y="682.14" width="1.30" height="8.97" fill="#f7f7cd" />
<rect x="480.70" y="682.14" width="1.30" height="8.97" fill="#d8eaf3" />
<rect x="482.00" y="682.14" width="1.00" height="8.97" fill="#e7f2f0" />
<rect x="483.00" y="682.14" width="1.00" height="8.97" fill="#f1f5db" />
<rect x="484.00" y="682.14" width="1.30" height="8.97" fill="#fecc7d" />
<rect x="485.30" y="682.14" width="1.30" height="8.97" fill="#fcecac" />
<rect x="486.60" y="682.14" width="0.80" height="8.97" fill="#f7f7cc" />
<rect x="487.40" y="682.14" width="0.60" height="8.97" fill="#fbefb2" />
<rect x="488.00" y="682.14" width="0.60" height="8.97" fill="#fceaa7" />
<rect x="488.60" y="682.14" width="1.30" height="8.97" fill="#f4f6d3" />
<rect x="490.90" y="682.14" width="1.00" height="8.97" fill="#fde79f" />
<rect x="491.90" y="682.14" width="1.30" height="8.97" fill="#fbf0b3" />
<rect x="493.20" y="682.14" width="0.80" height="8.97" fill="#d9ebf3" />
<rect x="494.00" y="682.14" width="1.00" height="8.97" fill="#fde9a4" />
<rect x="495.00" y="682.14" width="0.60" height="8.97" fill="#fdb76a" />
<rect x="495.60" y="682.14" width="1.30" height="8.97" fill="#fde79f" />
<rect x="496.90" y="682.14" width="1.00" height="8.97" fill="#fed687" />
<rect x="497.90" y="682.14" width="1.00" height="8.97" fill="#fed787" />
<rect x="499.10" y="682.14" width="25.10" height="8.97" fill="#fee090" />
<rect x="499.10" y="682.14" width="1.00" height="8.97" fill="#eff5de" />
<rect x="500.10" y="682.14" width="1.00" height="8.97" fill="#fdc173" />
<rect x="501.10" y="682.14" width="0.60" height="8.97" fill="#e65036" />
<rect x="501.70" y="682.14" width="1.30" height="8.97" fill="#f7834d" />
<rect x="503.00" y="682.14" width="0.60" height="8.97" fill="#f67a49" />
<rect x="504.20" y="682.14" width="0.80" height="8.97" fill="#eaf3e8" />
<rect x="505.00" y="682.14" width="0.80" height="8.97" fill="#fed081" />
<rect x="505.80" y="682.14" width="1.00" height="8.97" fill="#fdb365" />
<rect x="506.80" y="682.14" width="1.00" height="8.97" fill="#f9f8c8" />
<rect x="507.80" y="682.14" width="0.60" height="8.97" fill="#fdbe70" />
<rect x="508.40" y="682.14" width="1.00" height="8.97" fill="#fbf4bd" />
<rect x="509.40" y="682.14" width="1.00" height="8.97" fill="#fdc374" />
<rect x="510.40" y="682.14" width="1.00" height="8.97" fill="#f1f5d9" />
<rect x="511.40" y="682.14" width="0.60" height="8.97" fill="#fba15b" />
<rect x="512.00" y="682.14" width="0.60" height="8.97" fill="#fde59c" />
<rect x="512.60" y="682.14" width="1.30" height="8.97" fill="#fce9a5" />
<rect x="516.20" y="682.14" width="1.00" height="8.97" fill="#fbf3bc" />
<rect x="517.20" y="682.14" width="1.00" height="8.97" fill="#ec5c3b" />
<rect x="518.20" y="682.14" width="0.80" height="8.97" fill="#ee613e" />
<rect x="519.00" y="682.14" width="1.00" height="8.97" fill="#e65035" />
<rect x="520.00" y="682.14" width="0.60" height="8.97" fill="#fcebaa" />
<rect x="520.60" y="682.14" width="0.60" height="8.97" fill="#fceaa6" />
<rect x="521.20" y="682.14" width="1.00" height="8.97" fill="#fcedae" />
<rect x="522.20" y="682.14" width="1.00" height="8.97" fill="#f6f7cf" />
<rect x="523.20" y="682.14" width="1.00" height="8.97" fill="#fdbd6f" />
<rect x="524.20" y="682.14" width="13.10" height="8.97" fill="#89b6db" />
<rect x="524.20" y="682.14" width="1.00" height="8.97" fill="#9bc3e2" />
<rect x="525.20" y="682.14" width="0.80" height="8.97" fill="#b7d7eb" />
<rect x="526.00" y="682.14" width="1.00" height="8.97" fill="#93bddf" />
<rect x="527.00" y="682.14" width="1.30" height="8.97" fill="#5888c1" />
<rect x="528.90" y="682.14" width="1.00" height="8.97" fill="#a7cce6" />
<rect x="529.90" y="682.14" width="1.00" height="8.97" fill="#6e9fcf" />
<rect x="530.90" y="682.14" width="1.30" height="8.97" fill="#80b0d9" />
<rect x="532.20" y="682.14" width="1.00" height="8.97" fill="#cae2ef" />
<rect x="533.20" y="682.14" width="1.00" height="8.97" fill="#5586bf" />
<rect x="534.20" y="682.14" width="1.00" height="8.97" fill="#c0dced" />
<rect x="535.20" y="682.14" width="1.00" height="8.97" fill="#99c2e1" />
<rect x="536.20" y="682.14" width="0.80" height="8.97" fill="#7eaed8" />
<text x="439.60" y="689.23" font-size="7.6" text-anchor="end" fill="#222" >COL6A3</text>
<rect x="443.90" y="691.11" width="28.20" height="8.97" fill="#bcd9ec" />
<rect x="472.10" y="691.11" width="27.00" height="8.97" fill="#bcd9ec" />
<rect x="499.10" y="691.11" width="25.10" height="8.97" fill="#d1e6f1" />
<rect x="499.10" y="691.11" width="1.00" height="8.97" fill="#f0f5dc" />
<rect x="500.10" y="691.11" width="0.80" height="8.97" fill="#daebf4" />
<rect x="500.90" y="691.11" width="0.60" height="8.97" fill="#f0f5dc" />
<rect x="501.50" y="691.11" width="1.00" height="8.97" fill="#fdbc6e" />
<rect x="502.50" y="691.11" width="0.60" height="8.97" fill="#fdc476" />
<rect x="503.10" y="691.11" width="1.30" height="8.97" fill="#b5d5ea" />
<rect x="504.40" y="691.11" width="0.60" height="8.97" fill="#f99053" />
<rect x="505.00" y="691.11" width="0.60" height="8.97" fill="#accfe7" />
<rect x="505.60" y="691.11" width="1.30" height="8.97" fill="#daebf3" />
<rect x="506.90" y="691.11" width="1.00" height="8.97" fill="#eaf3e9" />
<rect x="507.90" y="691.11" width="1.30" height="8.97" fill="#fecf80" />
<rect x="510.20" y="691.11" width="0.60" height="8.97" fill="#f36a42" />
<rect x="510.80" y="691.11" width="0.80" height="8.97" fill="#c7e0ef" />
<rect x="511.60" y="691.11" width="0.60" height="8.97" fill="#d8eaf3" />
<rect x="512.20" y="691.11" width="1.30" height="8.97" fill="#fed888" />
<rect x="513.50" y="691.11" width="1.00" height="8.97" fill="#fa9a58" />
<rect x="514.50" y="691.11" width="1.30" height="8.97" fill="#f36b42" />
<rect x="515.80" y="691.11" width="1.30" height="8.97" fill="#e64f35" />
<rect x="517.10" y="691.11" width="1.00" height="8.97" fill="#f9f8c8" />
<rect x="518.10" y="691.11" width="0.60" height="8.97" fill="#fed586" />
<rect x="518.70" y="691.11" width="1.30" height="8.97" fill="#fed081" />
<rect x="520.00" y="691.11" width="1.30" height="8.97" fill="#e64f35" />
<rect x="521.30" y="691.11" width="1.30" height="8.97" fill="#fa9a58" />
<rect x="522.60" y="691.11" width="1.00" height="8.97" fill="#f7f7cd" />
<rect x="523.60" y="691.11" width="0.60" height="8.97" fill="#eff5de" />
<rect x="524.20" y="691.11" width="13.10" height="8.97" fill="#bedbec" />
<rect x="524.20" y="691.11" width="0.80" height="8.97" fill="#91bcde" />
<rect x="525.00" y="691.11" width="1.00" height="8.97" fill="#cfe5f1" />
<rect x="526.00" y="691.11" width="0.60" height="8.97" fill="#b7d7eb" />
<rect x="526.60" y="691.11" width="0.80" height="8.97" fill="#cde4f0" />
<rect x="527.40" y="691.11" width="1.00" height="8.97" fill="#fed384" />
<rect x="528.40" y="691.11" width="1.00" height="8.97" fill="#cce3f0" />
<rect x="529.40" y="691.11" width="1.30" height="8.97" fill="#e7f2f0" />
<rect x="530.70" y="691.11" width="0.60" height="8.97" fill="#cfe5f1" />
<rect x="531.30" y="691.11" width="1.00" height="8.97" fill="#d2e7f2" />
<rect x="532.30" y="691.11" width="1.30" height="8.97" fill="#a3c9e4" />
<rect x="533.60" y="691.11" width="0.60" height="8.97" fill="#b1d3e9" />
<rect x="534.20" y="691.11" width="0.80" height="8.97" fill="#b7d7eb" />
<rect x="535.00" y="691.11" width="1.00" height="8.97" fill="#c8e1ef" />
<rect x="536.00" y="691.11" width="1.30" height="8.97" fill="#add0e8" />
<text x="439.60" y="698.20" font-size="7.6" text-anchor="end" fill="#222" >PCOLCE2</text>
<rect x="443.90" y="700.08" width="28.20" height="8.97" fill="#cce3f0" />
<rect x="443.90" y="700.08" width="1.00" height="8.97" fill="#fbf0b4" />
<rect x="444.90" y="700.08" width="1.30" height="8.97" fill="#4c7db9" />
<rect x="446.20" y="700.08" width="1.30" height="8.97" fill="#fed586" />
<rect x="447.50" y="700.08" width="1.00" height="8.97" fill="#e2f0f5" />
<rect x="448.50" y="700.08" width="1.00" height="8.97" fill="#bddbec" />
<rect x="449.50" y="700.08" width="0.60" height="8.97" fill="#96bfe0" />
<rect x="450.10" y="700.08" width="0.80" height="8.97" fill="#8ebadd" />
<rect x="450.90" y="700.08" width="0.60" height="8.97" fill="#b4d5ea" />
<rect x="451.50" y="700.08" width="1.30" height="8.97" fill="#d9ebf3" />
<rect x="452.80" y="700.08" width="1.00" height="8.97" fill="#f4f6d3" />
<rect x="453.80" y="700.08" width="1.00" height="8.97" fill="#d9eaf3" />
<rect x="454.80" y="700.08" width="0.60" height="8.97" fill="#75a7d4" />
<rect x="455.40" y="700.08" width="1.30" height="8.97" fill="#e3f0f6" />
<rect x="456.70" y="700.08" width="1.00" height="8.97" fill="#d3e7f2" />
<rect x="457.70" y="700.08" width="1.00" height="8.97" fill="#a7cbe5" />
<rect x="458.70" y="700.08" width="1.00" height="8.97" fill="#e1eff5" />
<rect x="459.70" y="700.08" width="1.00" height="8.97" fill="#a8cce6" />
<rect x="460.70" y="700.08" width="1.00" height="8.97" fill="#79aad6" />
<rect x="461.70" y="700.08" width="1.00" height="8.97" fill="#dfeef5" />
<rect x="463.50" y="700.08" width="1.00" height="8.97" fill="#c5dfee" />
<rect x="464.50" y="700.08" width="1.00" height="8.97" fill="#e6f2f2" />
<rect x="465.50" y="700.08" width="1.00" height="8.97" fill="#9ec5e3" />
<rect x="466.50" y="700.08" width="1.00" height="8.97" fill="#c4deee" />
<rect x="467.50" y="700.08" width="0.60" height="8.97" fill="#87b4db" />
<rect x="468.10" y="700.08" width="1.00" height="8.97" fill="#e4f1f5" />
<rect x="469.10" y="700.08" width="1.30" height="8.97" fill="#7bacd7" />
<rect x="470.40" y="700.08" width="1.00" height="8.97" fill="#eef4df" />
<rect x="471.40" y="700.08" width="0.70" height="8.97" fill="#f7f7cc" />
<rect x="472.10" y="700.08" width="27.00" height="8.97" fill="#f8f7cb" />
<rect x="472.10" y="700.08" width="1.00" height="8.97" fill="#fdab60" />
<rect x="473.70" y="700.08" width="1.00" height="8.97" fill="#fed485" />
<rect x="474.70" y="700.08" width="1.00" height="8.97" fill="#fbf3bb" />
<rect x="475.70" y="700.08" width="0.60" height="8.97" fill="#fdc173" />
<rect x="476.30" y="700.08" width="0.80" height="8.97" fill="#fde8a2" />
<rect x="477.10" y="700.08" width="0.80" height="8.97" fill="#ecf4e4" />
<rect x="478.70" y="700.08" width="0.60" height="8.97" fill="#fcecaa" />
<rect x="479.30" y="700.08" width="1.00" height="8.97" fill="#d3e7f2" />
<rect x="480.30" y="700.08" width="1.30" height="8.97" fill="#fbf3bc" />
<rect x="481.60" y="700.08" width="1.30" height="8.97" fill="#d7e9f3" />
<rect x="482.90" y="700.08" width="1.00" height="8.97" fill="#fa9c58" />
<rect x="483.90" y="700.08" width="1.00" height="8.97" fill="#d5e8f2" />
<rect x="484.90" y="700.08" width="1.00" height="8.97" fill="#d0e5f1" />
<rect x="485.90" y="700.08" width="1.00" height="8.97" fill="#f2f5d8" />
<rect x="487.90" y="700.08" width="0.60" height="8.97" fill="#e4f1f6" />
<rect x="488.50" y="700.08" width="1.30" height="8.97" fill="#e6f2f1" />
<rect x="489.80" y="700.08" width="0.60" height="8.97" fill="#bcdaec" />
<rect x="490.40" y="700.08" width="1.00" height="8.97" fill="#fcedad" />
<rect x="491.40" y="700.08" width="1.30" height="8.97" fill="#faf5c0" />
<rect x="492.70" y="700.08" width="1.00" height="8.97" fill="#fbf3bc" />
<rect x="493.70" y="700.08" width="0.60" height="8.97" fill="#eaf3e8" />
<rect x="495.30" y="700.08" width="1.30" height="8.97" fill="#ebf3e7" />
<rect x="497.60" y="700.08" width="1.00" height="8.97" fill="#f5f6d2" />
<rect x="498.60" y="700.08" width="0.50" height="8.97" fill="#f1f5d9" />
<rect x="499.10" y="700.08" width="25.10" height="8.97" fill="#fed182" />
<rect x="499.10" y="700.08" width="0.60" height="8.97" fill="#fbf1b7" />
<rect x="499.70" y="700.08" width="1.30" height="8.97" fill="#fee295" />
<rect x="501.00" y="700.08" width="1.00" height="8.97" fill="#f77f4c" />
<rect x="502.00" y="700.08" width="1.00" height="8.97" fill="#fca85e" />
<rect x="503.00" y="700.08" width="1.00" height="8.97" fill="#f99153" />
<rect x="504.00" y="700.08" width="1.00" height="8.97" fill="#f88a50" />
<rect x="505.00" y="700.08" width="1.30" height="8.97" fill="#f7834d" />
<rect x="506.30" y="700.08" width="0.60" height="8.97" fill="#fba05b" />
<rect x="506.90" y="700.08" width="0.80" height="8.97" fill="#fb9d59" />
<rect x="507.70" y="700.08" width="0.80" height="8.97" fill="#fee090" />
<rect x="508.50" y="700.08" width="0.80" height="8.97" fill="#fdb76a" />
<rect x="509.30" y="700.08" width="1.30" height="8.97" fill="#fcaa5f" />
<rect x="510.60" y="700.08" width="1.30" height="8.97" fill="#fb9d59" />
<rect x="511.90" y="700.08" width="0.80" height="8.97" fill="#fdc577" />
<rect x="512.70" y="700.08" width="0.80" height="8.97" fill="#fa9555" />
<rect x="513.50" y="700.08" width="0.80" height="8.97" fill="#f26a41" />
<rect x="514.30" y="700.08" width="0.60" height="8.97" fill="#f8f7cb" />
<rect x="514.90" y="700.08" width="1.00" height="8.97" fill="#fba25c" />
<rect x="516.90" y="700.08" width="1.00" height="8.97" fill="#fca75e" />
<rect x="517.90" y="700.08" width="0.80" height="8.97" fill="#eff5de" />
<rect x="518.70" y="700.08" width="1.00" height="8.97" fill="#ed5f3d" />
<rect x="519.70" y="700.08" width="1.00" height="8.97" fill="#fbf4be" />
<rect x="521.50" y="700.08" width="0.80" height="8.97" fill="#fdc476" />
<rect x="522.30" y="700.08" width="1.00" height="8.97" fill="#fede8e" />
<rect x="523.30" y="700.08" width="0.60" height="8.97" fill="#fee091" />
<rect x="523.90" y="700.08" width="0.30" height="8.97" fill="#faf8c5" />
<rect x="524.20" y="700.08" width="13.10" height="8.97" fill="#95bee0" />
<rect x="524.20" y="700.08" width="1.00" height="8.97" fill="#6091c6" />
<rect x="525.20" y="700.08" width="0.60" height="8.97" fill="#accfe7" />
<rect x="525.80" y="700.08" width="0.80" height="8.97" fill="#c5dfee" />
<rect x="526.60" y="700.08" width="1.00" height="8.97" fill="#4575b4" />
<rect x="527.60" y="700.08" width="1.30" height="8.97" fill="#6fa1d0" />
<rect x="528.90" y="700.08" width="0.80" height="8.97" fill="#bedbec" />
<rect x="529.70" y="700.08" width="0.60" height="8.97" fill="#c1dded" />
<rect x="530.30" y="700.08" width="0.80" height="8.97" fill="#5d8ec4" />
<rect x="531.10" y="700.08" width="1.00" height="8.97" fill="#8ab6dc" />
<rect x="532.10" y="700.08" width="1.00" height="8.97" fill="#75a7d5" />
<rect x="533.10" y="700.08" width="0.60" height="8.97" fill="#bddaec" />
<rect x="535.00" y="700.08" width="0.60" height="8.97" fill="#9cc4e2" />
<rect x="535.60" y="700.08" width="0.80" height="8.97" fill="#6ea0d0" />
<rect x="536.40" y="700.08" width="0.90" height="8.97" fill="#78a9d6" />
<text x="439.60" y="707.17" font-size="7.6" text-anchor="end" fill="#222" >COL1A2</text>
<rect x="443.90" y="709.05" width="28.20" height="8.97" fill="#aacee7" />
<rect x="459.50" y="709.05" width="1.00" height="8.97" fill="#9fc6e3" />
<rect x="472.10" y="709.05" width="27.00" height="8.97" fill="#aacee7" />
<rect x="473.10" y="709.05" width="0.60" height="8.97" fill="#b4d5ea" />
<rect x="486.60" y="709.05" width="0.60" height="8.97" fill="#b2d4e9" />
<rect x="487.20" y="709.05" width="0.60" height="8.97" fill="#a2c8e4" />
<rect x="491.20" y="709.05" width="1.00" height="8.97" fill="#a2c8e4" />
<rect x="499.10" y="709.05" width="25.10" height="8.97" fill="#aacee7" />
<rect x="501.70" y="709.05" width="0.80" height="8.97" fill="#a3c8e4" />
<rect x="517.50" y="709.05" width="1.00" height="8.97" fill="#b3d4ea" />
<rect x="524.20" y="709.05" width="13.10" height="8.97" fill="#aed0e8" />
<rect x="526.20" y="709.05" width="1.00" height="8.97" fill="#bfdbed" />
<rect x="536.10" y="709.05" width="1.20" height="8.97" fill="#a4cae5" />
<text x="439.60" y="716.14" font-size="7.6" text-anchor="end" fill="#222" >ITGA6</text>
<rect x="443.90" y="718.02" width="28.20" height="8.97" fill="#d1e6f1" />
<rect x="472.10" y="718.02" width="27.00" height="8.97" fill="#d1e6f1" />
<rect x="497.60" y="718.02" width="1.30" height="8.97" fill="#cbe2f0" />
<rect x="499.10" y="718.02" width="25.10" height="8.97" fill="#d1e6f1" />
<rect x="502.80" y="718.02" width="0.80" height="8.97" fill="#c8e1ef" />
<rect x="503.60" y="718.02" width="1.00" height="8.97" fill="#f67e4b" />
<rect x="510.80" y="718.02" width="1.30" height="8.97" fill="#daebf3" />
<rect x="518.10" y="718.02" width="0.60" height="8.97" fill="#cae2ef" />
<rect x="524.20" y="718.02" width="13.10" height="8.97" fill="#d1e6f1" />
<rect x="535.50" y="718.02" width="0.80" height="8.97" fill="#fedd8d" />
<text x="439.60" y="725.11" font-size="7.6" text-anchor="end" fill="#222" >COL10A1</text>
<rect x="443.90" y="726.99" width="28.20" height="8.97" fill="#c4dfee" />
<rect x="447.20" y="726.99" width="0.60" height="8.97" fill="#cce3f0" />
<rect x="447.80" y="726.99" width="1.00" height="8.97" fill="#bedbec" />
<rect x="448.80" y="726.99" width="0.80" height="8.97" fill="#bedbed" />
<rect x="453.00" y="726.99" width="1.30" height="8.97" fill="#cde3f0" />
<rect x="455.30" y="726.99" width="1.30" height="8.97" fill="#cce3f0" />
<rect x="464.00" y="726.99" width="0.60" height="8.97" fill="#bbd9ec" />
<rect x="471.40" y="726.99" width="0.70" height="8.97" fill="#cce3f0" />
<rect x="472.10" y="726.99" width="27.00" height="8.97" fill="#c4dfee" />
<rect x="472.70" y="726.99" width="1.30" height="8.97" fill="#bedbec" />
<rect x="477.00" y="726.99" width="1.00" height="8.97" fill="#e75136" />
<rect x="480.00" y="726.99" width="1.30" height="8.97" fill="#f99154" />
<rect x="484.90" y="726.99" width="1.00" height="8.97" fill="#bcd9ec" />
<rect x="486.90" y="726.99" width="1.00" height="8.97" fill="#bedbed" />
<rect x="489.70" y="726.99" width="0.60" height="8.97" fill="#cce3f0" />
<rect x="493.70" y="726.99" width="1.30" height="8.97" fill="#bfdbed" />
<rect x="495.00" y="726.99" width="1.00" height="8.97" fill="#fa9555" />
<rect x="497.00" y="726.99" width="1.00" height="8.97" fill="#f16740" />
<rect x="499.10" y="726.99" width="25.10" height="8.97" fill="#c4dfee" />
<rect x="499.10" y="726.99" width="0.60" height="8.97" fill="#bad9ec" />
<rect x="503.50" y="726.99" width="0.60" height="8.97" fill="#bddaec" />
<rect x="504.10" y="726.99" width="1.00" height="8.97" fill="#feca7b" />
<rect x="506.10" y="726.99" width="1.00" height="8.97" fill="#fa9656" />
<rect x="507.70" y="726.99" width="1.30" height="8.97" fill="#ea583a" />
<rect x="510.30" y="726.99" width="0.60" height="8.97" fill="#fdc577" />
<rect x="510.90" y="726.99" width="0.80" height="8.97" fill="#cde3f0" />
<rect x="515.80" y="726.99" width="0.60" height="8.97" fill="#fca55d" />
<rect x="524.20" y="726.99" width="13.10" height="8.97" fill="#c4dfee" />
<rect x="532.40" y="726.99" width="1.30" height="8.97" fill="#cde4f0" />
<rect x="533.70" y="726.99" width="0.80" height="8.97" fill="#bedbed" />
<rect x="535.90" y="726.99" width="1.00" height="8.97" fill="#fdbf71" />
<text x="439.60" y="734.08" font-size="7.6" text-anchor="end" fill="#222" >ADAMTS2</text>
<rect x="443.90" y="735.96" width="28.20" height="8.97" fill="#b9d8eb" />
<rect x="443.90" y="735.96" width="1.00" height="8.97" fill="#80b0d9" />
<rect x="444.90" y="735.96" width="1.00" height="8.97" fill="#fdac60" />
<rect x="445.90" y="735.96" width="1.30" height="8.97" fill="#4676b5" />
<rect x="447.20" y="735.96" width="1.00" height="8.97" fill="#fceeaf" />
<rect x="448.20" y="735.96" width="1.30" height="8.97" fill="#e6f2f2" />
<rect x="449.50" y="735.96" width="0.80" height="8.97" fill="#e9f3eb" />
<rect x="450.30" y="735.96" width="0.80" height="8.97" fill="#f99053" />
<rect x="451.10" y="735.96" width="1.00" height="8.97" fill="#7dadd7" />
<rect x="452.10" y="735.96" width="0.80" height="8.97" fill="#93bddf" />
<rect x="452.90" y="735.96" width="1.00" height="8.97" fill="#ebf3e6" />
<rect x="453.90" y="735.96" width="1.30" height="8.97" fill="#f8f7ca" />
<rect x="455.20" y="735.96" width="1.30" height="8.97" fill="#f57446" />
<rect x="456.50" y="735.96" width="0.80" height="8.97" fill="#6fa0d0" />
<rect x="457.30" y="735.96" width="1.00" height="8.97" fill="#d2e7f2" />
<rect x="458.30" y="735.96" width="0.80" height="8.97" fill="#86b3da" />
<rect x="459.10" y="735.96" width="1.00" height="8.97" fill="#80afd8" />
<rect x="460.10" y="735.96" width="0.60" height="8.97" fill="#5081bc" />
<rect x="460.70" y="735.96" width="1.30" height="8.97" fill="#dbecf4" />
<rect x="462.00" y="735.96" width="1.00" height="8.97" fill="#4575b4" />
<rect x="463.00" y="735.96" width="1.30" height="8.97" fill="#88b5db" />
<rect x="464.30" y="735.96" width="0.60" height="8.97" fill="#e6f2f2" />
<rect x="464.90" y="735.96" width="0.80" height="8.97" fill="#e0eff5" />
<rect x="465.70" y="735.96" width="0.60" height="8.97" fill="#4e7eba" />
<rect x="466.30" y="735.96" width="1.00" height="8.97" fill="#80afd8" />
<rect x="467.30" y="735.96" width="1.00" height="8.97" fill="#d6e9f3" />
<rect x="468.30" y="735.96" width="1.30" height="8.97" fill="#d0e5f1" />
<rect x="469.60" y="735.96" width="1.30" height="8.97" fill="#c7e0ef" />
<rect x="470.90" y="735.96" width="1.20" height="8.97" fill="#f4f6d4" />
<rect x="472.10" y="735.96" width="27.00" height="8.97" fill="#f8f7cb" />
<rect x="472.10" y="735.96" width="0.80" height="8.97" fill="#f3f6d4" />
<rect x="472.90" y="735.96" width="1.00" height="8.97" fill="#fbf3bb" />
<rect x="473.90" y="735.96" width="0.60" height="8.97" fill="#f67e4b" />
<rect x="474.50" y="735.96" width="1.00" height="8.97" fill="#f99254" />
<rect x="475.50" y="735.96" width="0.80" height="8.97" fill="#c9e1ef" />
<rect x="476.30" y="735.96" width="1.00" height="8.97" fill="#f3f6d4" />
<rect x="477.30" y="735.96" width="1.00" height="8.97" fill="#fdb366" />
<rect x="478.30" y="735.96" width="0.60" height="8.97" fill="#fceaa6" />
<rect x="478.90" y="735.96" width="0.80" height="8.97" fill="#fb9c59" />
<rect x="479.70" y="735.96" width="1.30" height="8.97" fill="#d9ebf3" />
<rect x="481.00" y="735.96" width="1.30" height="8.97" fill="#c3deee" />
<rect x="482.30" y="735.96" width="0.80" height="8.97" fill="#fde7a0" />
<rect x="483.10" y="735.96" width="1.00" height="8.97" fill="#a9cde6" />
<rect x="484.10" y="735.96" width="1.00" height="8.97" fill="#fec779" />
<rect x="485.10" y="735.96" width="1.00" height="8.97" fill="#fedf8f" />
<rect x="486.70" y="735.96" width="1.30" height="8.97" fill="#fcedae" />
<rect x="488.00" y="735.96" width="1.00" height="8.97" fill="#fed586" />
<rect x="489.00" y="735.96" width="1.00" height="8.97" fill="#9ec5e3" />
<rect x="490.00" y="735.96" width="1.30" height="8.97" fill="#eff5de" />
<rect x="491.30" y="735.96" width="0.60" height="8.97" fill="#bad8eb" />
<rect x="491.90" y="735.96" width="1.00" height="8.97" fill="#f99254" />
<rect x="492.90" y="735.96" width="1.30" height="8.97" fill="#fde9a3" />
<rect x="494.20" y="735.96" width="1.00" height="8.97" fill="#fbf0b4" />
<rect x="495.20" y="735.96" width="1.00" height="8.97" fill="#e9f3eb" />
<rect x="496.20" y="735.96" width="0.80" height="8.97" fill="#b9d8eb" />
<rect x="497.00" y="735.96" width="1.00" height="8.97" fill="#fde59b" />
<rect x="498.00" y="735.96" width="0.80" height="8.97" fill="#fdae61" />
<rect x="498.80" y="735.96" width="0.30" height="8.97" fill="#f2f6d7" />
<rect x="499.10" y="735.96" width="25.10" height="8.97" fill="#e4f1f6" />
<rect x="499.10" y="735.96" width="1.30" height="8.97" fill="#f9f8c9" />
<rect x="500.40" y="735.96" width="1.00" height="8.97" fill="#fde8a3" />
<rect x="501.40" y="735.96" width="1.00" height="8.97" fill="#cbe3f0" />
<rect x="502.40" y="735.96" width="1.30" height="8.97" fill="#bad8eb" />
<rect x="503.70" y="735.96" width="1.00" height="8.97" fill="#a4c9e4" />
<rect x="504.70" y="735.96" width="0.60" height="8.97" fill="#6698ca" />
<rect x="505.30" y="735.96" width="0.60" height="8.97" fill="#b0d2e9" />
<rect x="505.90" y="735.96" width="1.30" height="8.97" fill="#c6dfee" />
<rect x="507.20" y="735.96" width="1.00" height="8.97" fill="#fdc577" />
<rect x="508.20" y="735.96" width="0.60" height="8.97" fill="#b0d2e9" />
<rect x="508.80" y="735.96" width="1.00" height="8.97" fill="#cbe2f0" />
<rect x="510.40" y="735.96" width="1.00" height="8.97" fill="#8eb9dd" />
<rect x="511.40" y="735.96" width="0.80" height="8.97" fill="#89b6dc" />
<rect x="512.20" y="735.96" width="1.00" height="8.97" fill="#d73027" />
<rect x="513.20" y="735.96" width="0.60" height="8.97" fill="#4575b4" />
<rect x="513.80" y="735.96" width="0.80" height="8.97" fill="#fde59b" />
<rect x="514.60" y="735.96" width="1.30" height="8.97" fill="#add0e8" />
<rect x="515.90" y="735.96" width="1.00" height="8.97" fill="#5b8cc3" />
<rect x="516.90" y="735.96" width="0.80" height="8.97" fill="#f1f5d9" />
<rect x="517.70" y="735.96" width="1.30" height="8.97" fill="#5e8fc5" />
<rect x="519.00" y="735.96" width="1.00" height="8.97" fill="#c0dced" />
<rect x="520.00" y="735.96" width="1.00" height="8.97" fill="#cbe2f0" />
<rect x="521.00" y="735.96" width="1.00" height="8.97" fill="#fde79f" />
<rect x="522.00" y="735.96" width="0.60" height="8.97" fill="#cae2f0" />
<rect x="522.60" y="735.96" width="1.00" height="8.97" fill="#f26841" />
<rect x="523.60" y="735.96" width="0.60" height="8.97" fill="#6c9dce" />
<rect x="524.20" y="735.96" width="13.10" height="8.97" fill="#5687c0" />
<rect x="525.00" y="735.96" width="1.00" height="8.97" fill="#72a4d2" />
<rect x="526.00" y="735.96" width="1.30" height="8.97" fill="#4676b5" />
<rect x="527.30" y="735.96" width="0.60" height="8.97" fill="#4575b4" />
<rect x="527.90" y="735.96" width="0.60" height="8.97" fill="#4575b4" />
<rect x="528.50" y="735.96" width="1.00" height="8.97" fill="#6799cb" />
<rect x="531.10" y="735.96" width="1.00" height="8.97" fill="#4575b4" />
<rect x="532.10" y="735.96" width="1.30" height="8.97" fill="#4575b4" />
<rect x="533.40" y="735.96" width="1.00" height="8.97" fill="#6091c6" />
<rect x="534.40" y="735.96" width="1.00" height="8.97" fill="#4575b4" />
<rect x="535.40" y="735.96" width="1.30" height="8.97" fill="#6ea0d0" />
<rect x="536.70" y="735.96" width="0.60" height="8.97" fill="#70a1d1" />
<text x="439.60" y="743.05" font-size="7.6" text-anchor="end" fill="#222" >COL4A1</text>
<rect x="443.90" y="744.93" width="28.20" height="8.97" fill="#ebf3e8" />
<rect x="443.90" y="744.93" width="1.00" height="8.97" fill="#f88d52" />
<rect x="444.90" y="744.93" width="1.00" height="8.97" fill="#f2f5d8" />
<rect x="445.90" y="744.93" width="1.00" height="8.97" fill="#f8f8c9" />
<rect x="446.90" y="744.93" width="1.00" height="8.97" fill="#fecf80" />
<rect x="447.90" y="744.93" width="1.00" height="8.97" fill="#fceeb0" />
<rect x="448.90" y="744.93" width="0.80" height="8.97" fill="#faf7c4" />
<rect x="449.70" y="744.93" width="1.00" height="8.97" fill="#e1f0f5" />
<rect x="450.70" y="744.93" width="0.60" height="8.97" fill="#75a7d4" />
<rect x="451.30" y="744.93" width="0.60" height="8.97" fill="#edf4e1" />
<rect x="451.90" y="744.93" width="1.30" height="8.97" fill="#f7f7cd" />
<rect x="453.20" y="744.93" width="0.60" height="8.97" fill="#fceaa7" />
<rect x="454.80" y="744.93" width="1.00" height="8.97" fill="#fceba9" />
<rect x="455.80" y="744.93" width="0.60" height="8.97" fill="#f8f7cb" />
<rect x="456.40" y="744.93" width="1.00" height="8.97" fill="#f7f7cd" />
<rect x="457.40" y="744.93" width="0.80" height="8.97" fill="#daebf3" />
<rect x="458.20" y="744.93" width="0.80" height="8.97" fill="#fee193" />
<rect x="459.00" y="744.93" width="0.80" height="8.97" fill="#faf7c3" />
<rect x="459.80" y="744.93" width="0.80" height="8.97" fill="#d8eaf3" />
<rect x="460.60" y="744.93" width="1.00" height="8.97" fill="#d7e9f3" />
<rect x="461.60" y="744.93" width="0.60" height="8.97" fill="#f8f7ca" />
<rect x="462.20" y="744.93" width="1.00" height="8.97" fill="#dcecf4" />
<rect x="463.20" y="744.93" width="1.00" height="8.97" fill="#e4f1f6" />
<rect x="464.20" y="744.93" width="0.60" height="8.97" fill="#faf8c6" />
<rect x="464.80" y="744.93" width="1.30" height="8.97" fill="#a5cae5" />
<rect x="466.10" y="744.93" width="0.60" height="8.97" fill="#bcdaec" />
<rect x="466.70" y="744.93" width="1.00" height="8.97" fill="#f6f7ce" />
<rect x="467.70" y="744.93" width="1.00" height="8.97" fill="#fed989" />
<rect x="468.70" y="744.93" width="0.60" height="8.97" fill="#f6f7ce" />
<rect x="469.30" y="744.93" width="1.00" height="8.97" fill="#71a3d2" />
<rect x="470.30" y="744.93" width="1.00" height="8.97" fill="#e2f0f5" />
<rect x="471.30" y="744.93" width="0.60" height="8.97" fill="#dfeef5" />
<rect x="472.10" y="744.93" width="27.00" height="8.97" fill="#e8f2ec" />
<rect x="472.10" y="744.93" width="1.00" height="8.97" fill="#fed586" />
<rect x="473.10" y="744.93" width="1.00" height="8.97" fill="#fecc7d" />
<rect x="474.10" y="744.93" width="0.80" height="8.97" fill="#eff4de" />
<rect x="474.90" y="744.93" width="0.60" height="8.97" fill="#4575b4" />
<rect x="476.10" y="744.93" width="1.00" height="8.97" fill="#f2f5d8" />
<rect x="477.10" y="744.93" width="1.30" height="8.97" fill="#ecf4e4" />
<rect x="478.40" y="744.93" width="1.30" height="8.97" fill="#9dc5e2" />
<rect x="479.70" y="744.93" width="0.80" height="8.97" fill="#e3f0f6" />
<rect x="480.50" y="744.93" width="0.80" height="8.97" fill="#fcedac" />
<rect x="481.30" y="744.93" width="0.80" height="8.97" fill="#a4cae5" />
<rect x="482.10" y="744.93" width="0.60" height="8.97" fill="#ddedf4" />
<rect x="482.70" y="744.93" width="1.00" height="8.97" fill="#dcecf4" />
<rect x="483.70" y="744.93" width="0.60" height="8.97" fill="#5e8fc5" />
<rect x="484.30" y="744.93" width="0.60" height="8.97" fill="#84b2da" />
<rect x="484.90" y="744.93" width="0.80" height="8.97" fill="#f5f7d0" />
<rect x="485.70" y="744.93" width="0.80" height="8.97" fill="#e1eff5" />
<rect x="486.50" y="744.93" width="1.30" height="8.97" fill="#c5dfee" />
<rect x="487.80" y="744.93" width="1.00" height="8.97" fill="#f1f5da" />
<rect x="488.80" y="744.93" width="1.00" height="8.97" fill="#f7f7cc" />
<rect x="490.40" y="744.93" width="1.00" height="8.97" fill="#dcecf4" />
<rect x="491.40" y="744.93" width="1.00" height="8.97" fill="#d7eaf3" />
<rect x="492.40" y="744.93" width="1.00" height="8.97" fill="#88b5db" />
<rect x="493.40" y="744.93" width="0.60" height="8.97" fill="#86b4da" />
<rect x="495.00" y="744.93" width="1.30" height="8.97" fill="#ddedf4" />
<rect x="496.30" y="744.93" width="0.60" height="8.97" fill="#ee613d" />
<rect x="496.90" y="744.93" width="0.80" height="8.97" fill="#fceaa7" />
<rect x="497.70" y="744.93" width="0.80" height="8.97" fill="#f1f5d9" />
<rect x="498.50" y="744.93" width="0.60" height="8.97" fill="#5586bf" />
<rect x="499.10" y="744.93" width="25.10" height="8.97" fill="#edf4e3" />
<rect x="499.10" y="744.93" width="1.00" height="8.97" fill="#cae2f0" />
<rect x="500.10" y="744.93" width="0.80" height="8.97" fill="#9cc3e2" />
<rect x="500.90" y="744.93" width="0.60" height="8.97" fill="#fcedae" />
<rect x="501.50" y="744.93" width="0.60" height="8.97" fill="#6899cc" />
<rect x="503.40" y="744.93" width="1.00" height="8.97" fill="#fde79f" />
<rect x="504.40" y="744.93" width="1.00" height="8.97" fill="#faf8c5" />
<rect x="505.40" y="744.93" width="1.30" height="8.97" fill="#bedbec" />
<rect x="506.70" y="744.93" width="1.00" height="8.97" fill="#f4f6d3" />
<rect x="507.70" y="744.93" width="0.80" height="8.97" fill="#a2c8e4" />
<rect x="508.50" y="744.93" width="0.80" height="8.97" fill="#f5f7d0" />
<rect x="509.30" y="744.93" width="1.30" height="8.97" fill="#fcaa5f" />
<rect x="510.60" y="744.93" width="0.80" height="8.97" fill="#c9e1ef" />
<rect x="513.00" y="744.93" width="1.30" height="8.97" fill="#fde69e" />
<rect x="514.30" y="744.93" width="0.80" height="8.97" fill="#eaf3ea" />
<rect x="515.10" y="744.93" width="0.60" height="8.97" fill="#fbf1b5" />
<rect x="515.70" y="744.93" width="1.00" height="8.97" fill="#f2f6d6" />
<rect x="516.70" y="744.93" width="1.00" height="8.97" fill="#8ab6dc" />
<rect x="517.70" y="744.93" width="1.30" height="8.97" fill="#f9f8c8" />
<rect x="519.00" y="744.93" width="1.00" height="8.97" fill="#fee295" />
<rect x="520.00" y="744.93" width="0.80" height="8.97" fill="#fbf4bd" />
<rect x="520.80" y="744.93" width="1.00" height="8.97" fill="#fed889" />
<rect x="521.80" y="744.93" width="1.00" height="8.97" fill="#77a8d5" />
<rect x="522.80" y="744.93" width="1.00" height="8.97" fill="#f4f6d3" />
<rect x="523.80" y="744.93" width="0.40" height="8.97" fill="#f88d52" />
<rect x="524.20" y="744.93" width="13.10" height="8.97" fill="#fee090" />
<rect x="524.20" y="744.93" width="0.60" height="8.97" fill="#fdac60" />
<rect x="524.80" y="744.93" width="1.30" height="8.97" fill="#f67e4b" />
<rect x="526.10" y="744.93" width="0.80" height="8.97" fill="#e6f2f2" />
<rect x="526.90" y="744.93" width="0.60" height="8.97" fill="#f67b49" />
<rect x="527.50" y="744.93" width="1.30" height="8.97" fill="#d73027" />
<rect x="528.80" y="744.93" width="0.60" height="8.97" fill="#fdb568" />
<rect x="529.40" y="744.93" width="1.00" height="8.97" fill="#fceba8" />
<rect x="530.40" y="744.93" width="0.80" height="8.97" fill="#fdab5f" />
<rect x="531.20" y="744.93" width="1.00" height="8.97" fill="#fed384" />
<rect x="532.20" y="744.93" width="0.80" height="8.97" fill="#fed888" />
<rect x="533.00" y="744.93" width="0.80" height="8.97" fill="#ed5f3c" />
<rect x="533.80" y="744.93" width="0.60" height="8.97" fill="#e95638" />
<rect x="534.40" y="744.93" width="1.00" height="8.97" fill="#fdc173" />
<rect x="535.40" y="744.93" width="0.80" height="8.97" fill="#fde8a3" />
<rect x="536.20" y="744.93" width="1.00" height="8.97" fill="#fed282" />
<text x="439.60" y="752.02" font-size="7.6" text-anchor="end" fill="#222" >CTSB</text>
<rect x="443.90" y="753.90" width="28.20" height="8.97" fill="#b4d5ea" />
<rect x="444.90" y="753.90" width="1.00" height="8.97" fill="#c5dfee" />
<rect x="450.50" y="753.90" width="1.00" height="8.97" fill="#fdbc6e" />
<rect x="453.60" y="753.90" width="0.60" height="8.97" fill="#cde3f0" />
<rect x="454.20" y="753.90" width="1.00" height="8.97" fill="#a3c9e4" />
<rect x="458.10" y="753.90" width="1.00" height="8.97" fill="#cae2f0" />
<rect x="459.10" y="753.90" width="1.30" height="8.97" fill="#bddaec" />
<rect x="460.40" y="753.90" width="0.80" height="8.97" fill="#bddaec" />
<rect x="461.20" y="753.90" width="0.60" height="8.97" fill="#bbd9ec" />
<rect x="461.80" y="753.90" width="0.80" height="8.97" fill="#9bc3e1" />
<rect x="462.60" y="753.90" width="0.80" height="8.97" fill="#a7cce6" />
<rect x="464.70" y="753.90" width="1.30" height="8.97" fill="#f67948" />
<rect x="466.00" y="753.90" width="1.30" height="8.97" fill="#a8cce6" />
<rect x="469.10" y="753.90" width="0.80" height="8.97" fill="#fb9e5a" />
<rect x="472.10" y="753.90" width="27.00" height="8.97" fill="#b9d8eb" />
<rect x="472.90" y="753.90" width="1.30" height="8.97" fill="#d0e5f1" />
<rect x="474.20" y="753.90" width="1.00" height="8.97" fill="#96bfe0" />
<rect x="476.20" y="753.90" width="1.00" height="8.97" fill="#c0dced" />
<rect x="478.20" y="753.90" width="1.30" height="8.97" fill="#b1d3e9" />
<rect x="479.50" y="753.90" width="0.80" height="8.97" fill="#a9cde6" />
<rect x="480.30" y="753.90" width="1.00" height="8.97" fill="#9dc4e2" />
<rect x="481.30" y="753.90" width="0.60" height="8.97" fill="#daebf4" />
<rect x="481.90" y="753.90" width="1.30" height="8.97" fill="#f88950" />
<rect x="484.50" y="753.90" width="0.80" height="8.97" fill="#cbe2f0" />
<rect x="485.90" y="753.90" width="0.60" height="8.97" fill="#e2f0f5" />
<rect x="486.50" y="753.90" width="1.00" height="8.97" fill="#accfe7" />
<rect x="489.70" y="753.90" width="1.00" height="8.97" fill="#a8cce6" />
<rect x="491.30" y="753.90" width="1.30" height="8.97" fill="#aacee7" />
<rect x="492.60" y="753.90" width="0.60" height="8.97" fill="#a3c9e4" />
<rect x="493.80" y="753.90" width="0.60" height="8.97" fill="#c5dfee" />
<rect x="496.00" y="753.90" width="1.30" height="8.97" fill="#cae2f0" />
<rect x="497.30" y="753.90" width="0.80" height="8.97" fill="#a8cce6" />
<rect x="499.10" y="753.90" width="25.10" height="8.97" fill="#edf4e3" />
<rect x="499.10" y="753.90" width="0.80" height="8.97" fill="#faf6c1" />
<rect x="499.90" y="753.90" width="1.30" height="8.97" fill="#fdbb6e" />
<rect x="501.20" y="753.90" width="0.80" height="8.97" fill="#fdad60" />
<rect x="502.00" y="753.90" width="1.30" height="8.97" fill="#f9f8c8" />
<rect x="503.30" y="753.90" width="1.00" height="8.97" fill="#f16640" />
<rect x="504.30" y="753.90" width="1.30" height="8.97" fill="#f7834d" />
<rect x="506.20" y="753.90" width="0.60" height="8.97" fill="#d8eaf3" />
<rect x="506.80" y="753.90" width="1.00" height="8.97" fill="#f99355" />
<rect x="507.80" y="753.90" width="0.80" height="8.97" fill="#feda8b" />
<rect x="508.60" y="753.90" width="1.00" height="8.97" fill="#fde8a1" />
<rect x="509.60" y="753.90" width="0.80" height="8.97" fill="#f67949" />
<rect x="510.40" y="753.90" width="0.60" height="8.97" fill="#fdb366" />
<rect x="511.00" y="753.90" width="1.30" height="8.97" fill="#fed889" />
<rect x="512.30" y="753.90" width="1.00" height="8.97" fill="#fee192" />
<rect x="513.30" y="753.90" width="1.00" height="8.97" fill="#fca95f" />
<rect x="514.30" y="753.90" width="1.30" height="8.97" fill="#dbecf4" />
<rect x="515.60" y="753.90" width="1.00" height="8.97" fill="#ddedf4" />
<rect x="516.60" y="753.90" width="0.60" height="8.97" fill="#feda8a" />
<rect x="517.20" y="753.90" width="1.30" height="8.97" fill="#fbf2b9" />
<rect x="518.50" y="753.90" width="0.60" height="8.97" fill="#70a2d1" />
<rect x="519.10" y="753.90" width="1.00" height="8.97" fill="#fdb76a" />
<rect x="520.10" y="753.90" width="0.80" height="8.97" fill="#fca75e" />
<rect x="520.90" y="753.90" width="1.00" height="8.97" fill="#f88a51" />
<rect x="521.90" y="753.90" width="1.00" height="8.97" fill="#f8874f" />
<rect x="522.90" y="753.90" width="0.60" height="8.97" fill="#fece7f" />
<rect x="523.50" y="753.90" width="0.70" height="8.97" fill="#fceaa6" />
<rect x="524.20" y="753.90" width="13.10" height="8.97" fill="#b9d8eb" />
<rect x="524.20" y="753.90" width="0.60" height="8.97" fill="#bfdbed" />
<rect x="524.80" y="753.90" width="1.00" height="8.97" fill="#98c1e1" />
<rect x="525.80" y="753.90" width="0.80" height="8.97" fill="#c8e1ef" />
<rect x="526.60" y="753.90" width="0.60" height="8.97" fill="#cde4f0" />
<rect x="527.20" y="753.90" width="1.30" height="8.97" fill="#bfdbed" />
<rect x="528.50" y="753.90" width="1.00" height="8.97" fill="#8fbade" />
<rect x="529.50" y="753.90" width="1.00" height="8.97" fill="#a5cae5" />
<rect x="530.50" y="753.90" width="0.60" height="8.97" fill="#c8e0ef" />
<rect x="531.10" y="753.90" width="1.00" height="8.97" fill="#c9e1ef" />
<rect x="532.10" y="753.90" width="0.60" height="8.97" fill="#cde4f0" />
<rect x="534.70" y="753.90" width="0.60" height="8.97" fill="#a3c9e4" />
<rect x="535.30" y="753.90" width="1.00" height="8.97" fill="#d6e9f2" />
<rect x="536.30" y="753.90" width="0.60" height="8.97" fill="#c6e0ef" />
<text x="439.60" y="760.99" font-size="7.6" text-anchor="end" fill="#222" >COL8A1</text>
<rect x="443.90" y="762.87" width="28.20" height="8.97" fill="#85b3da" />
<rect x="444.90" y="762.87" width="0.80" height="8.97" fill="#8fbade" />
<rect x="446.70" y="762.87" width="0.60" height="8.97" fill="#75a7d4" />
<rect x="447.30" y="762.87" width="0.80" height="8.97" fill="#93bddf" />
<rect x="449.40" y="762.87" width="0.60" height="8.97" fill="#8ebadd" />
<rect x="450.00" y="762.87" width="0.60" height="8.97" fill="#97c0e0" />
<rect x="450.60" y="762.87" width="1.00" height="8.97" fill="#8eb9dd" />
<rect x="452.60" y="762.87" width="1.30" height="8.97" fill="#74a6d4" />
<rect x="453.90" y="762.87" width="0.80" height="8.97" fill="#92bddf" />
<rect x="454.70" y="762.87" width="1.30" height="8.97" fill="#71a3d2" />
<rect x="456.00" y="762.87" width="1.30" height="8.97" fill="#8db9dd" />
<rect x="458.70" y="762.87" width="1.00" height="8.97" fill="#97c0e0" />
<rect x="464.40" y="762.87" width="1.00" height="8.97" fill="#7dadd7" />
<rect x="466.40" y="762.87" width="1.00" height="8.97" fill="#7cacd7" />
<rect x="471.60" y="762.87" width="0.50" height="8.97" fill="#78aad6" />
<rect x="472.10" y="762.87" width="27.00" height="8.97" fill="#85b3da" />
<rect x="472.10" y="762.87" width="1.00" height="8.97" fill="#76a8d5" />
<rect x="474.40" y="762.87" width="1.30" height="8.97" fill="#72a4d3" />
<rect x="476.70" y="762.87" width="1.00" height="8.97" fill="#77a8d5" />
<rect x="477.70" y="762.87" width="1.00" height="8.97" fill="#77a9d6" />
<rect x="478.70" y="762.87" width="1.30" height="8.97" fill="#8eb9dd" />
<rect x="482.00" y="762.87" width="1.00" height="8.97" fill="#74a5d3" />
<rect x="484.30" y="762.87" width="0.60" height="8.97" fill="#75a7d5" />
<rect x="486.20" y="762.87" width="0.80" height="8.97" fill="#99c1e1" />
<rect x="487.80" y="762.87" width="1.00" height="8.97" fill="#74a6d4" />
<rect x="488.80" y="762.87" width="1.30" height="8.97" fill="#8fbadd" />
<rect x="490.10" y="762.87" width="0.60" height="8.97" fill="#73a5d3" />
<rect x="492.00" y="762.87" width="0.80" height="8.97" fill="#73a5d3" />
<rect x="495.90" y="762.87" width="1.00" height="8.97" fill="#91bcde" />
<rect x="496.90" y="762.87" width="0.60" height="8.97" fill="#94bedf" />
<rect x="499.10" y="762.87" width="25.10" height="8.97" fill="#fee295" />
<rect x="499.10" y="762.87" width="0.80" height="8.97" fill="#fceeaf" />
<rect x="499.90" y="762.87" width="0.60" height="8.97" fill="#fde8a3" />
<rect x="500.50" y="762.87" width="1.00" height="8.97" fill="#fbf1b6" />
<rect x="501.50" y="762.87" width="1.00" height="8.97" fill="#fa9555" />
<rect x="502.50" y="762.87" width="1.00" height="8.97" fill="#f7804c" />
<rect x="503.50" y="762.87" width="1.30" height="8.97" fill="#fbf0b5" />
<rect x="504.80" y="762.87" width="0.60" height="8.97" fill="#fceeaf" />
<rect x="505.40" y="762.87" width="1.00" height="8.97" fill="#fceeb0" />
<rect x="506.40" y="762.87" width="0.60" height="8.97" fill="#faf8c6" />
<rect x="507.00" y="762.87" width="0.60" height="8.97" fill="#fdbd6f" />
<rect x="507.60" y="762.87" width="1.00" height="8.97" fill="#f7f7cd" />
<rect x="508.60" y="762.87" width="1.00" height="8.97" fill="#fed687" />
<rect x="509.60" y="762.87" width="0.80" height="8.97" fill="#f6f7ce" />
<rect x="510.40" y="762.87" width="0.80" height="8.97" fill="#f88c51" />
<rect x="511.20" y="762.87" width="1.00" height="8.97" fill="#fdc577" />
<rect x="513.00" y="762.87" width="1.30" height="8.97" fill="#fcedae" />
<rect x="514.90" y="762.87" width="1.00" height="8.97" fill="#fedd8d" />
<rect x="515.90" y="762.87" width="0.60" height="8.97" fill="#f2f6d7" />
<rect x="516.50" y="762.87" width="0.60" height="8.97" fill="#fed081" />
<rect x="517.10" y="762.87" width="0.60" height="8.97" fill="#fede8e" />
<rect x="517.70" y="762.87" width="1.00" height="8.97" fill="#fde79f" />
<rect x="518.70" y="762.87" width="0.60" height="8.97" fill="#fbf0b5" />
<rect x="519.30" y="762.87" width="0.60" height="8.97" fill="#fcebaa" />
<rect x="519.90" y="762.87" width="0.80" height="8.97" fill="#fbf1b6" />
<rect x="520.70" y="762.87" width="0.60" height="8.97" fill="#f2f6d7" />
<rect x="521.90" y="762.87" width="1.30" height="8.97" fill="#feda8a" />
<rect x="523.20" y="762.87" width="0.80" height="8.97" fill="#fdc475" />
<rect x="524.20" y="762.87" width="13.10" height="8.97" fill="#9bc3e2" />
<rect x="525.20" y="762.87" width="0.80" height="8.97" fill="#a9cde6" />
<rect x="527.60" y="762.87" width="1.00" height="8.97" fill="#a8cce6" />
<rect x="528.60" y="762.87" width="0.60" height="8.97" fill="#add0e7" />
<rect x="529.20" y="762.87" width="0.80" height="8.97" fill="#4575b4" />
<rect x="530.00" y="762.87" width="0.60" height="8.97" fill="#bddaec" />
<rect x="530.60" y="762.87" width="0.80" height="8.97" fill="#d6e9f2" />
<rect x="531.40" y="762.87" width="1.00" height="8.97" fill="#6495c9" />
<rect x="532.40" y="762.87" width="0.60" height="8.97" fill="#d6e9f3" />
<rect x="533.00" y="762.87" width="0.80" height="8.97" fill="#c5dfee" />
<rect x="533.80" y="762.87" width="0.80" height="8.97" fill="#6fa1d0" />
<rect x="534.60" y="762.87" width="1.00" height="8.97" fill="#e6f2f2" />
<rect x="535.60" y="762.87" width="0.60" height="8.97" fill="#7cacd7" />
<rect x="536.20" y="762.87" width="1.00" height="8.97" fill="#bad9ec" />
<text x="439.60" y="769.96" font-size="7.6" text-anchor="end" fill="#222" >COL15A1</text>
<rect x="443.90" y="771.84" width="28.20" height="8.97" fill="#c5dfee" />
<rect x="472.10" y="771.84" width="27.00" height="8.97" fill="#c5dfee" />
<rect x="499.10" y="771.84" width="25.10" height="8.97" fill="#c7e0ef" />
<rect x="499.10" y="771.84" width="1.30" height="8.97" fill="#c1dced" />
<rect x="500.40" y="771.84" width="0.80" height="8.97" fill="#a8cce6" />
<rect x="501.20" y="771.84" width="0.80" height="8.97" fill="#a7cbe5" />
<rect x="502.60" y="771.84" width="1.30" height="8.97" fill="#add0e8" />
<rect x="504.90" y="771.84" width="1.30" height="8.97" fill="#bfdbed" />
<rect x="506.20" y="771.84" width="1.30" height="8.97" fill="#fdae61" />
<rect x="507.50" y="771.84" width="0.60" height="8.97" fill="#c1dded" />
<rect x="508.10" y="771.84" width="0.80" height="8.97" fill="#bcdaec" />
<rect x="510.70" y="771.84" width="0.60" height="8.97" fill="#bad8eb" />
<rect x="511.30" y="771.84" width="1.30" height="8.97" fill="#d8eaf3" />
<rect x="512.60" y="771.84" width="1.30" height="8.97" fill="#b6d6ea" />
<rect x="513.90" y="771.84" width="1.00" height="8.97" fill="#d6e9f2" />
<rect x="514.90" y="771.84" width="0.60" height="8.97" fill="#d8eaf3" />
<rect x="515.50" y="771.84" width="1.00" height="8.97" fill="#bfdbed" />
<rect x="516.50" y="771.84" width="0.60" height="8.97" fill="#d6e9f2" />
<rect x="519.10" y="771.84" width="0.80" height="8.97" fill="#fec97a" />
<rect x="520.50" y="771.84" width="1.00" height="8.97" fill="#fdbc6e" />
<rect x="521.50" y="771.84" width="1.00" height="8.97" fill="#fdb568" />
<rect x="522.50" y="771.84" width="0.80" height="8.97" fill="#ea5839" />
<rect x="523.30" y="771.84" width="0.90" height="8.97" fill="#eaf3e8" />
<rect x="524.20" y="771.84" width="13.10" height="8.97" fill="#c5dfee" />
<text x="439.60" y="778.93" font-size="7.6" text-anchor="end" fill="#222" >P4HA3</text>
<rect x="443.90" y="780.81" width="28.20" height="8.97" fill="#aacee7" />
<rect x="472.10" y="780.81" width="27.00" height="8.97" fill="#aacee7" />
<rect x="499.10" y="780.81" width="25.10" height="8.97" fill="#aacee7" />
<rect x="501.20" y="780.81" width="1.00" height="8.97" fill="#a2c8e4" />
<rect x="513.40" y="780.81" width="1.30" height="8.97" fill="#b2d3e9" />
<rect x="524.20" y="780.81" width="13.10" height="8.97" fill="#aacee7" />
<text x="439.60" y="787.90" font-size="7.6" text-anchor="end" fill="#222" >ITGB4</text>
<rect x="443.90" y="789.78" width="28.20" height="8.97" fill="#cfe5f1" />
<rect x="458.10" y="789.78" width="1.00" height="8.97" fill="#c8e1ef" />
<rect x="459.10" y="789.78" width="0.80" height="8.97" fill="#c9e1ef" />
<rect x="465.10" y="789.78" width="1.30" height="8.97" fill="#c8e1ef" />
<rect x="472.10" y="789.78" width="27.00" height="8.97" fill="#cfe5f1" />
<rect x="479.60" y="789.78" width="1.30" height="8.97" fill="#f67848" />
<rect x="480.90" y="789.78" width="0.60" height="8.97" fill="#c9e1ef" />
<rect x="483.80" y="789.78" width="1.00" height="8.97" fill="#d9eaf3" />
<rect x="487.70" y="789.78" width="1.30" height="8.97" fill="#c6dfee" />
<rect x="492.00" y="789.78" width="1.00" height="8.97" fill="#c7e0ef" />
<rect x="494.40" y="789.78" width="1.00" height="8.97" fill="#f0653f" />
<rect x="497.20" y="789.78" width="0.80" height="8.97" fill="#c9e1ef" />
<rect x="499.10" y="789.78" width="25.10" height="8.97" fill="#cfe5f1" />
<rect x="499.10" y="789.78" width="0.80" height="8.97" fill="#d5e8f2" />
<rect x="502.90" y="789.78" width="1.00" height="8.97" fill="#c9e1ef" />
<rect x="507.80" y="789.78" width="1.00" height="8.97" fill="#d6e9f3" />
<rect x="510.10" y="789.78" width="1.30" height="8.97" fill="#fdb366" />
<rect x="521.80" y="789.78" width="1.00" height="8.97" fill="#c6e0ef" />
<rect x="524.20" y="789.78" width="13.10" height="8.97" fill="#cfe5f1" />
<rect x="530.60" y="789.78" width="1.30" height="8.97" fill="#c8e1ef" />
<text x="439.60" y="796.87" font-size="7.6" text-anchor="end" fill="#222" >TLL1</text>
<rect x="443.90" y="798.75" width="28.20" height="8.97" fill="#c7e0ef" />
<rect x="453.00" y="798.75" width="0.60" height="8.97" fill="#c1dded" />
<rect x="455.90" y="798.75" width="1.00" height="8.97" fill="#bedbec" />
<rect x="468.30" y="798.75" width="1.00" height="8.97" fill="#fa9756" />
<rect x="472.10" y="798.75" width="27.00" height="8.97" fill="#c7e0ef" />
<rect x="483.70" y="798.75" width="1.30" height="8.97" fill="#e75237" />
<rect x="489.40" y="798.75" width="0.80" height="8.97" fill="#f46c43" />
<rect x="499.10" y="798.75" width="25.10" height="8.97" fill="#c7e0ef" />
<rect x="503.70" y="798.75" width="0.60" height="8.97" fill="#f7824d" />
<rect x="513.00" y="798.75" width="1.30" height="8.97" fill="#fecc7d" />
<rect x="522.80" y="798.75" width="1.30" height="8.97" fill="#cde4f0" />
<rect x="524.20" y="798.75" width="13.10" height="8.97" fill="#c7e0ef" />
<rect x="528.70" y="798.75" width="0.60" height="8.97" fill="#ea593a" />
<rect x="536.00" y="798.75" width="0.80" height="8.97" fill="#c1dded" />
<text x="439.60" y="805.84" font-size="7.6" text-anchor="end" fill="#222" >LOXL4</text>
<rect x="443.90" y="807.72" width="28.20" height="8.97" fill="#c7e0ef" />
<rect x="456.00" y="807.72" width="1.30" height="8.97" fill="#e65136" />
<rect x="458.70" y="807.72" width="1.30" height="8.97" fill="#c0dced" />
<rect x="466.30" y="807.72" width="0.80" height="8.97" fill="#c1dded" />
<rect x="472.10" y="807.72" width="27.00" height="8.97" fill="#c7e0ef" />
<rect x="474.70" y="807.72" width="0.80" height="8.97" fill="#cde4f0" />
<rect x="480.80" y="807.72" width="1.00" height="8.97" fill="#c1dced" />
<rect x="494.70" y="807.72" width="1.30" height="8.97" fill="#cee4f1" />
<rect x="499.10" y="807.72" width="25.10" height="8.97" fill="#c7e0ef" />
<rect x="499.90" y="807.72" width="0.60" height="8.97" fill="#c0dced" />
<rect x="500.50" y="807.72" width="1.00" height="8.97" fill="#cfe4f1" />
<rect x="502.50" y="807.72" width="1.00" height="8.97" fill="#cee4f1" />
<rect x="503.50" y="807.72" width="0.60" height="8.97" fill="#cee4f0" />
<rect x="505.70" y="807.72" width="1.00" height="8.97" fill="#d1e6f1" />
<rect x="507.90" y="807.72" width="1.30" height="8.97" fill="#cde4f0" />
<rect x="514.00" y="807.72" width="0.60" height="8.97" fill="#c0dced" />
<rect x="514.60" y="807.72" width="0.60" height="8.97" fill="#c0dced" />
<rect x="517.00" y="807.72" width="1.00" height="8.97" fill="#c0dced" />
<rect x="518.80" y="807.72" width="1.30" height="8.97" fill="#cfe4f1" />
<rect x="520.10" y="807.72" width="1.00" height="8.97" fill="#d2e6f1" />
<rect x="523.70" y="807.72" width="0.50" height="8.97" fill="#bedbec" />
<rect x="524.20" y="807.72" width="13.10" height="8.97" fill="#c7e0ef" />
<rect x="526.20" y="807.72" width="0.60" height="8.97" fill="#cee4f0" />
<rect x="536.40" y="807.72" width="0.60" height="8.97" fill="#d0e5f1" />
<text x="439.60" y="814.81" font-size="7.6" text-anchor="end" fill="#222" >LAMC2</text>
<rect x="443.90" y="816.69" width="28.20" height="8.97" fill="#a5cae5" />
<rect x="444.50" y="816.69" width="1.30" height="8.97" fill="#add0e8" />
<rect x="454.10" y="816.69" width="1.00" height="8.97" fill="#9cc3e2" />
<rect x="457.70" y="816.69" width="1.00" height="8.97" fill="#9ec5e2" />
<rect x="466.70" y="816.69" width="0.80" height="8.97" fill="#9bc3e2" />
<rect x="472.10" y="816.69" width="27.00" height="8.97" fill="#bedbec" />
<rect x="472.10" y="816.69" width="0.80" height="8.97" fill="#f46e43" />
<rect x="472.90" y="816.69" width="0.60" height="8.97" fill="#a4c9e5" />
<rect x="473.50" y="816.69" width="0.60" height="8.97" fill="#c3deee" />
<rect x="475.10" y="816.69" width="1.00" height="8.97" fill="#cde4f0" />
<rect x="476.10" y="816.69" width="1.30" height="8.97" fill="#b7d7eb" />
<rect x="478.70" y="816.69" width="0.80" height="8.97" fill="#c4deee" />
<rect x="480.10" y="816.69" width="0.60" height="8.97" fill="#b2d4e9" />
<rect x="480.70" y="816.69" width="0.60" height="8.97" fill="#fca95e" />
<rect x="482.10" y="816.69" width="1.30" height="8.97" fill="#c6dfee" />
<rect x="484.70" y="816.69" width="0.60" height="8.97" fill="#c9e1ef" />
<rect x="485.30" y="816.69" width="1.00" height="8.97" fill="#b2d4e9" />
<rect x="486.30" y="816.69" width="1.00" height="8.97" fill="#d4e7f2" />
<rect x="487.90" y="816.69" width="1.00" height="8.97" fill="#c4deee" />
<rect x="488.90" y="816.69" width="1.00" height="8.97" fill="#aacee7" />
<rect x="490.50" y="816.69" width="1.30" height="8.97" fill="#cbe2f0" />
<rect x="493.80" y="816.69" width="0.80" height="8.97" fill="#cde3f0" />
<rect x="494.60" y="816.69" width="1.00" height="8.97" fill="#accfe7" />
<rect x="496.40" y="816.69" width="0.80" height="8.97" fill="#fedd8d" />
<rect x="497.20" y="816.69" width="0.60" height="8.97" fill="#98c1e1" />
<rect x="497.80" y="816.69" width="0.80" height="8.97" fill="#cbe2f0" />
<rect x="498.60" y="816.69" width="0.50" height="8.97" fill="#8cb8dc" />
<rect x="499.10" y="816.69" width="25.10" height="8.97" fill="#c7e0ef" />
<rect x="499.10" y="816.69" width="0.80" height="8.97" fill="#d4e8f2" />
<rect x="500.50" y="816.69" width="1.30" height="8.97" fill="#fdb567" />
<rect x="501.80" y="816.69" width="1.00" height="8.97" fill="#bddaec" />
<rect x="502.80" y="816.69" width="1.30" height="8.97" fill="#e7f2f0" />
<rect x="504.10" y="816.69" width="1.00" height="8.97" fill="#bedbed" />
<rect x="505.10" y="816.69" width="1.00" height="8.97" fill="#e4f1f5" />
<rect x="506.10" y="816.69" width="1.00" height="8.97" fill="#b6d6ea" />
<rect x="507.10" y="816.69" width="1.00" height="8.97" fill="#daebf3" />
<rect x="508.10" y="816.69" width="1.00" height="8.97" fill="#b8d7eb" />
<rect x="509.10" y="816.69" width="0.60" height="8.97" fill="#cfe5f1" />
<rect x="509.70" y="816.69" width="1.00" height="8.97" fill="#b9d8eb" />
<rect x="510.70" y="816.69" width="0.60" height="8.97" fill="#cfe5f1" />
<rect x="511.30" y="816.69" width="1.00" height="8.97" fill="#fecd7e" />
<rect x="512.30" y="816.69" width="0.60" height="8.97" fill="#bddaec" />
<rect x="512.90" y="816.69" width="0.80" height="8.97" fill="#d7e9f3" />
<rect x="514.70" y="816.69" width="1.00" height="8.97" fill="#d0e5f1" />
<rect x="515.70" y="816.69" width="1.00" height="8.97" fill="#ed5f3c" />
<rect x="516.70" y="816.69" width="1.00" height="8.97" fill="#b8d8eb" />
<rect x="517.70" y="816.69" width="1.00" height="8.97" fill="#f36b42" />
<rect x="518.70" y="816.69" width="0.80" height="8.97" fill="#d7e9f3" />
<rect x="519.50" y="816.69" width="1.00" height="8.97" fill="#a0c7e3" />
<rect x="522.30" y="816.69" width="0.80" height="8.97" fill="#afd1e8" />
<rect x="523.10" y="816.69" width="0.60" height="8.97" fill="#dbecf4" />
<rect x="523.70" y="816.69" width="0.50" height="8.97" fill="#98c1e1" />
<rect x="524.20" y="816.69" width="13.10" height="8.97" fill="#c2ddee" />
<rect x="524.20" y="816.69" width="0.60" height="8.97" fill="#aacee7" />
<rect x="525.40" y="816.69" width="0.60" height="8.97" fill="#fba05b" />
<rect x="526.00" y="816.69" width="0.60" height="8.97" fill="#b0d2e8" />
<rect x="526.60" y="816.69" width="1.00" height="8.97" fill="#daebf4" />
<rect x="529.20" y="816.69" width="0.60" height="8.97" fill="#d4e7f2" />
<rect x="531.90" y="816.69" width="1.30" height="8.97" fill="#bbd9ec" />
<rect x="533.20" y="816.69" width="1.00" height="8.97" fill="#cde3f0" />
<rect x="534.20" y="816.69" width="0.80" height="8.97" fill="#d4e8f2" />
<rect x="535.00" y="816.69" width="1.00" height="8.97" fill="#fedc8c" />
<text x="439.60" y="823.78" font-size="7.6" text-anchor="end" fill="#222" >CTSS</text>
<rect x="443.90" y="825.66" width="28.20" height="8.97" fill="#e4f1f6" />
<rect x="443.90" y="825.66" width="1.30" height="8.97" fill="#8ab6dc" />
<rect x="445.20" y="825.66" width="1.00" height="8.97" fill="#84b2da" />
<rect x="446.20" y="825.66" width="0.80" height="8.97" fill="#cae2ef" />
<rect x="447.00" y="825.66" width="1.00" height="8.97" fill="#6b9ccd" />
<rect x="448.00" y="825.66" width="0.60" height="8.97" fill="#fcefb1" />
<rect x="448.60" y="825.66" width="1.00" height="8.97" fill="#4878b6" />
<rect x="449.60" y="825.66" width="1.00" height="8.97" fill="#4575b4" />
<rect x="450.60" y="825.66" width="1.30" height="8.97" fill="#f4f6d4" />
<rect x="451.90" y="825.66" width="1.00" height="8.97" fill="#7aabd6" />
<rect x="452.90" y="825.66" width="1.00" height="8.97" fill="#fceba8" />
<rect x="453.90" y="825.66" width="0.60" height="8.97" fill="#f4f6d4" />
<rect x="454.50" y="825.66" width="0.80" height="8.97" fill="#ebf3e7" />
<rect x="455.30" y="825.66" width="1.00" height="8.97" fill="#c4deee" />
<rect x="456.30" y="825.66" width="0.60" height="8.97" fill="#cce3f0" />
<rect x="456.90" y="825.66" width="0.60" height="8.97" fill="#eff5dd" />
<rect x="457.50" y="825.66" width="1.00" height="8.97" fill="#7cacd7" />
<rect x="458.50" y="825.66" width="0.80" height="8.97" fill="#4575b4" />
<rect x="459.30" y="825.66" width="1.00" height="8.97" fill="#a3c8e4" />
<rect x="460.30" y="825.66" width="1.30" height="8.97" fill="#4575b4" />
<rect x="461.60" y="825.66" width="1.00" height="8.97" fill="#fee397" />
<rect x="462.60" y="825.66" width="0.80" height="8.97" fill="#faf5c0" />
<rect x="463.40" y="825.66" width="1.30" height="8.97" fill="#fedb8b" />
<rect x="464.70" y="825.66" width="0.60" height="8.97" fill="#95bfe0" />
<rect x="465.30" y="825.66" width="1.00" height="8.97" fill="#b5d6ea" />
<rect x="466.30" y="825.66" width="1.00" height="8.97" fill="#f3f6d5" />
<rect x="467.30" y="825.66" width="1.00" height="8.97" fill="#ebf3e6" />
<rect x="468.30" y="825.66" width="0.60" height="8.97" fill="#fec879" />
<rect x="468.90" y="825.66" width="0.60" height="8.97" fill="#fceaa6" />
<rect x="469.50" y="825.66" width="0.80" height="8.97" fill="#a3c9e4" />
<rect x="470.30" y="825.66" width="1.00" height="8.97" fill="#edf4e3" />
<rect x="471.30" y="825.66" width="0.80" height="8.97" fill="#bad9ec" />
<rect x="472.10" y="825.66" width="27.00" height="8.97" fill="#ebf3e8" />
<rect x="472.10" y="825.66" width="1.00" height="8.97" fill="#fdad61" />
<rect x="473.10" y="825.66" width="1.00" height="8.97" fill="#fecb7d" />
<rect x="474.10" y="825.66" width="1.30" height="8.97" fill="#e8f2ee" />
<rect x="475.40" y="825.66" width="0.80" height="8.97" fill="#f2f6d7" />
<rect x="476.20" y="825.66" width="0.60" height="8.97" fill="#f99053" />
<rect x="476.80" y="825.66" width="1.00" height="8.97" fill="#fca65d" />
<rect x="477.80" y="825.66" width="1.30" height="8.97" fill="#fbf5bf" />
<rect x="479.10" y="825.66" width="1.00" height="8.97" fill="#e0eff5" />
<rect x="480.10" y="825.66" width="0.80" height="8.97" fill="#a2c8e4" />
<rect x="480.90" y="825.66" width="1.00" height="8.97" fill="#fce9a5" />
<rect x="481.90" y="825.66" width="1.00" height="8.97" fill="#fde397" />
<rect x="482.90" y="825.66" width="0.80" height="8.97" fill="#cde4f0" />
<rect x="483.70" y="825.66" width="0.60" height="8.97" fill="#f99053" />
<rect x="484.30" y="825.66" width="0.60" height="8.97" fill="#fece7f" />
<rect x="484.90" y="825.66" width="0.80" height="8.97" fill="#fdb265" />
<rect x="485.70" y="825.66" width="1.00" height="8.97" fill="#fec97a" />
<rect x="486.70" y="825.66" width="1.00" height="8.97" fill="#6b9dce" />
<rect x="487.70" y="825.66" width="1.00" height="8.97" fill="#87b4db" />
<rect x="489.70" y="825.66" width="1.00" height="8.97" fill="#9dc5e2" />
<rect x="490.70" y="825.66" width="0.80" height="8.97" fill="#b5d5ea" />
<rect x="491.50" y="825.66" width="1.00" height="8.97" fill="#9bc3e2" />
<rect x="492.50" y="825.66" width="0.60" height="8.97" fill="#fbefb2" />
<rect x="493.10" y="825.66" width="1.00" height="8.97" fill="#fde7a1" />
<rect x="494.10" y="825.66" width="0.80" height="8.97" fill="#fcecab" />
<rect x="494.90" y="825.66" width="1.30" height="8.97" fill="#df412f" />
<rect x="496.20" y="825.66" width="1.00" height="8.97" fill="#dcecf4" />
<rect x="497.20" y="825.66" width="1.30" height="8.97" fill="#f6f7ce" />
<rect x="498.50" y="825.66" width="0.60" height="8.97" fill="#ddedf4" />
<rect x="499.10" y="825.66" width="25.10" height="8.97" fill="#faf8c6" />
<rect x="499.10" y="825.66" width="1.30" height="8.97" fill="#fdb366" />
<rect x="500.40" y="825.66" width="0.60" height="8.97" fill="#d8eaf3" />
<rect x="501.00" y="825.66" width="1.30" height="8.97" fill="#fdc172" />
<rect x="502.30" y="825.66" width="1.00" height="8.97" fill="#e0eef5" />
<rect x="504.30" y="825.66" width="1.00" height="8.97" fill="#fcefb1" />
<rect x="505.30" y="825.66" width="1.30" height="8.97" fill="#f7f7cd" />
<rect x="506.60" y="825.66" width="1.30" height="8.97" fill="#e65036" />
<rect x="507.90" y="825.66" width="1.30" height="8.97" fill="#fdbd6f" />
<rect x="509.20" y="825.66" width="0.60" height="8.97" fill="#fbf1b6" />
<rect x="510.80" y="825.66" width="1.00" height="8.97" fill="#fed182" />
<rect x="511.80" y="825.66" width="0.80" height="8.97" fill="#fca95f" />
<rect x="512.60" y="825.66" width="1.00" height="8.97" fill="#d5e8f2" />
<rect x="513.60" y="825.66" width="1.00" height="8.97" fill="#fbf3ba" />
<rect x="514.60" y="825.66" width="1.30" height="8.97" fill="#e0eff5" />
<rect x="515.90" y="825.66" width="1.00" height="8.97" fill="#de3f2e" />
<rect x="516.90" y="825.66" width="0.80" height="8.97" fill="#f1f5d9" />
<rect x="517.70" y="825.66" width="1.00" height="8.97" fill="#fbf5be" />
<rect x="518.70" y="825.66" width="0.80" height="8.97" fill="#dfeef5" />
<rect x="519.50" y="825.66" width="1.00" height="8.97" fill="#fedb8b" />
<rect x="520.50" y="825.66" width="0.60" height="8.97" fill="#fcefb1" />
<rect x="521.10" y="825.66" width="1.00" height="8.97" fill="#c3deee" />
<rect x="522.10" y="825.66" width="1.30" height="8.97" fill="#fbf2b8" />
<rect x="523.40" y="825.66" width="0.80" height="8.97" fill="#e8f2ee" />
<rect x="524.20" y="825.66" width="13.10" height="8.97" fill="#7cacd7" />
<rect x="524.80" y="825.66" width="1.00" height="8.97" fill="#6c9ece" />
<rect x="525.80" y="825.66" width="0.60" height="8.97" fill="#92bcdf" />
<rect x="526.40" y="825.66" width="1.30" height="8.97" fill="#5788c0" />
<rect x="527.70" y="825.66" width="1.00" height="8.97" fill="#5282bc" />
<rect x="528.70" y="825.66" width="1.00" height="8.97" fill="#85b3da" />
<rect x="529.70" y="825.66" width="1.00" height="8.97" fill="#6a9ccd" />
<rect x="531.50" y="825.66" width="1.00" height="8.97" fill="#5e8fc5" />
<rect x="532.50" y="825.66" width="0.80" height="8.97" fill="#fed788" />
<rect x="534.30" y="825.66" width="0.60" height="8.97" fill="#72a4d2" />
<rect x="534.90" y="825.66" width="1.00" height="8.97" fill="#6899cb" />
<rect x="535.90" y="825.66" width="0.60" height="8.97" fill="#74a6d4" />
<rect x="536.50" y="825.66" width="0.80" height="8.97" fill="#75a7d4" />
<text x="439.60" y="832.75" font-size="7.6" text-anchor="end" fill="#222" >COL5A2</text>
<rect x="443.90" y="834.63" width="28.20" height="8.97" fill="#c7e0ef" />
<rect x="457.70" y="834.63" width="1.00" height="8.97" fill="#fa9b58" />
<rect x="465.50" y="834.63" width="1.00" height="8.97" fill="#e64f35" />
<rect x="468.10" y="834.63" width="1.00" height="8.97" fill="#fdae61" />
<rect x="472.10" y="834.63" width="27.00" height="8.97" fill="#c7e0ef" />
<rect x="487.20" y="834.63" width="1.00" height="8.97" fill="#cee4f1" />
<rect x="495.50" y="834.63" width="0.60" height="8.97" fill="#fec97a" />
<rect x="499.10" y="834.63" width="25.10" height="8.97" fill="#c7e0ef" />
<rect x="500.40" y="834.63" width="1.30" height="8.97" fill="#c1dded" />
<rect x="503.30" y="834.63" width="0.60" height="8.97" fill="#c0dced" />
<rect x="503.90" y="834.63" width="1.30" height="8.97" fill="#c1dced" />
<rect x="509.80" y="834.63" width="0.60" height="8.97" fill="#cfe5f1" />
<rect x="512.00" y="834.63" width="0.60" height="8.97" fill="#cde4f0" />
<rect x="516.20" y="834.63" width="1.00" height="8.97" fill="#fca55d" />
<rect x="518.80" y="834.63" width="0.80" height="8.97" fill="#bedbed" />
<rect x="519.60" y="834.63" width="0.80" height="8.97" fill="#f98f53" />
<rect x="520.40" y="834.63" width="1.00" height="8.97" fill="#cde4f0" />
<rect x="521.40" y="834.63" width="0.80" height="8.97" fill="#cee4f1" />
<rect x="524.20" y="834.63" width="13.10" height="8.97" fill="#c7e0ef" />
<rect x="524.20" y="834.63" width="1.30" height="8.97" fill="#cfe5f1" />
<rect x="526.80" y="834.63" width="0.80" height="8.97" fill="#c1dded" />
<rect x="530.70" y="834.63" width="1.30" height="8.97" fill="#e65036" />
<rect x="532.00" y="834.63" width="1.30" height="8.97" fill="#fa9556" />
<rect x="536.60" y="834.63" width="0.70" height="8.97" fill="#c1dded" />
<text x="439.60" y="841.72" font-size="7.6" text-anchor="end" fill="#222" >LAMB3</text>
<rect x="443.90" y="843.60" width="28.20" height="8.97" fill="#cce3f0" />
<rect x="443.90" y="843.60" width="1.00" height="8.97" fill="#f67e4b" />
<rect x="444.90" y="843.60" width="0.80" height="8.97" fill="#d7e9f3" />
<rect x="467.50" y="843.60" width="0.60" height="8.97" fill="#c5dfee" />
<rect x="472.10" y="843.60" width="27.00" height="8.97" fill="#cce3f0" />
<rect x="472.10" y="843.60" width="0.80" height="8.97" fill="#d3e7f2" />
<rect x="473.90" y="843.60" width="0.60" height="8.97" fill="#f26941" />
<rect x="484.10" y="843.60" width="0.80" height="8.97" fill="#d4e7f2" />
<rect x="490.90" y="843.60" width="0.80" height="8.97" fill="#f57245" />
<rect x="496.90" y="843.60" width="1.30" height="8.97" fill="#c6dfee" />
<rect x="499.10" y="843.60" width="25.10" height="8.97" fill="#cce3f0" />
<rect x="513.40" y="843.60" width="1.00" height="8.97" fill="#d7e9f3" />
<rect x="520.80" y="843.60" width="1.00" height="8.97" fill="#c6dfee" />
<rect x="522.40" y="843.60" width="1.00" height="8.97" fill="#d3e7f2" />
<rect x="524.20" y="843.60" width="13.10" height="8.97" fill="#cce3f0" />
<rect x="524.20" y="843.60" width="1.00" height="8.97" fill="#f46e43" />
<rect x="528.80" y="843.60" width="1.30" height="8.97" fill="#fdbe70" />
<rect x="533.80" y="843.60" width="1.00" height="8.97" fill="#c5dfee" />
<text x="439.60" y="850.69" font-size="7.6" text-anchor="end" fill="#222" >ADAMTS3</text>
<rect x="443.90" y="852.57" width="28.20" height="8.97" fill="#c7e0ef" />
<rect x="443.90" y="852.57" width="1.00" height="8.97" fill="#f8f7ca" />
<rect x="444.90" y="852.57" width="0.60" height="8.97" fill="#eef4e1" />
<rect x="445.50" y="852.57" width="1.00" height="8.97" fill="#87b4db" />
<rect x="446.50" y="852.57" width="0.80" height="8.97" fill="#f0f5db" />
<rect x="447.30" y="852.57" width="0.80" height="8.97" fill="#4b7bb8" />
<rect x="449.40" y="852.57" width="1.30" height="8.97" fill="#f2f6d7" />
<rect x="450.70" y="852.57" width="0.60" height="8.97" fill="#6799cb" />
<rect x="451.30" y="852.57" width="0.60" height="8.97" fill="#fdb365" />
<rect x="451.90" y="852.57" width="1.00" height="8.97" fill="#dfeef5" />
<rect x="452.90" y="852.57" width="1.00" height="8.97" fill="#f7f7cd" />
<rect x="453.90" y="852.57" width="1.00" height="8.97" fill="#82b1d9" />
<rect x="454.90" y="852.57" width="1.00" height="8.97" fill="#fee294" />
<rect x="455.90" y="852.57" width="0.80" height="8.97" fill="#ddedf4" />
<rect x="456.70" y="852.57" width="1.00" height="8.97" fill="#f67a49" />
<rect x="457.70" y="852.57" width="0.60" height="8.97" fill="#f46c43" />
<rect x="458.30" y="852.57" width="1.00" height="8.97" fill="#e5f1f4" />
<rect x="459.30" y="852.57" width="1.30" height="8.97" fill="#d0e5f1" />
<rect x="460.60" y="852.57" width="1.00" height="8.97" fill="#f67e4b" />
<rect x="461.60" y="852.57" width="0.60" height="8.97" fill="#e7f2f0" />
<rect x="462.20" y="852.57" width="1.30" height="8.97" fill="#e9f3eb" />
<rect x="463.50" y="852.57" width="1.00" height="8.97" fill="#fecd7e" />
<rect x="464.50" y="852.57" width="1.00" height="8.97" fill="#f2f5d8" />
<rect x="465.50" y="852.57" width="1.30" height="8.97" fill="#b3d5ea" />
<rect x="468.10" y="852.57" width="1.30" height="8.97" fill="#fbf3ba" />
<rect x="469.40" y="852.57" width="1.30" height="8.97" fill="#d0e5f1" />
<rect x="470.70" y="852.57" width="1.30" height="8.97" fill="#f57446" />
<rect x="472.10" y="852.57" width="27.00" height="8.97" fill="#e4f1f6" />
<rect x="472.10" y="852.57" width="0.80" height="8.97" fill="#fecc7d" />
<rect x="472.90" y="852.57" width="1.30" height="8.97" fill="#a1c7e3" />
<rect x="474.20" y="852.57" width="0.60" height="8.97" fill="#f0f5dc" />
<rect x="474.80" y="852.57" width="0.80" height="8.97" fill="#fbf3bc" />
<rect x="475.60" y="852.57" width="1.00" height="8.97" fill="#fca95f" />
<rect x="476.60" y="852.57" width="0.60" height="8.97" fill="#fdc072" />
<rect x="477.20" y="852.57" width="1.00" height="8.97" fill="#e8f2ee" />
<rect x="478.20" y="852.57" width="0.60" height="8.97" fill="#fa9c58" />
<rect x="478.80" y="852.57" width="1.00" height="8.97" fill="#d1e6f1" />
<rect x="479.80" y="852.57" width="1.00" height="8.97" fill="#fde498" />
<rect x="480.80" y="852.57" width="1.00" height="8.97" fill="#c3deee" />
<rect x="481.80" y="852.57" width="0.60" height="8.97" fill="#fdbf71" />
<rect x="482.40" y="852.57" width="1.00" height="8.97" fill="#f67d4a" />
<rect x="483.40" y="852.57" width="0.60" height="8.97" fill="#cce3f0" />
<rect x="484.00" y="852.57" width="1.30" height="8.97" fill="#d5e8f2" />
<rect x="485.30" y="852.57" width="1.00" height="8.97" fill="#cce3f0" />
<rect x="486.30" y="852.57" width="0.60" height="8.97" fill="#dcedf4" />
<rect x="486.90" y="852.57" width="1.00" height="8.97" fill="#5585bf" />
<rect x="487.90" y="852.57" width="1.00" height="8.97" fill="#f6f7ce" />
<rect x="488.90" y="852.57" width="0.80" height="8.97" fill="#fdc475" />
<rect x="489.70" y="852.57" width="1.00" height="8.97" fill="#d1e6f1" />
<rect x="490.70" y="852.57" width="1.00" height="8.97" fill="#fed788" />
<rect x="491.70" y="852.57" width="1.00" height="8.97" fill="#a2c8e4" />
<rect x="492.70" y="852.57" width="1.00" height="8.97" fill="#fde9a4" />
<rect x="494.50" y="852.57" width="1.00" height="8.97" fill="#c4deee" />
<rect x="495.50" y="852.57" width="0.80" height="8.97" fill="#fed384" />
<rect x="496.30" y="852.57" width="1.00" height="8.97" fill="#edf4e2" />
<rect x="497.30" y="852.57" width="0.80" height="8.97" fill="#91bcde" />
<rect x="498.10" y="852.57" width="1.00" height="8.97" fill="#fceeaf" />
<rect x="499.10" y="852.57" width="25.10" height="8.97" fill="#e8f2ec" />
<rect x="499.10" y="852.57" width="0.60" height="8.97" fill="#bcdaec" />
<rect x="499.70" y="852.57" width="1.00" height="8.97" fill="#98c1e1" />
<rect x="500.70" y="852.57" width="1.00" height="8.97" fill="#b1d3e9" />
<rect x="503.00" y="852.57" width="0.60" height="8.97" fill="#fba35c" />
<rect x="503.60" y="852.57" width="1.00" height="8.97" fill="#e4f1f6" />
<rect x="504.60" y="852.57" width="0.60" height="8.97" fill="#fed687" />
<rect x="505.20" y="852.57" width="1.00" height="8.97" fill="#f2f5d8" />
<rect x="506.20" y="852.57" width="0.80" height="8.97" fill="#c4dfee" />
<rect x="508.00" y="852.57" width="1.30" height="8.97" fill="#bad9ec" />
<rect x="509.30" y="852.57" width="1.30" height="8.97" fill="#7dadd7" />
<rect x="510.60" y="852.57" width="1.30" height="8.97" fill="#fbefb3" />
<rect x="511.90" y="852.57" width="1.00" height="8.97" fill="#a1c7e4" />
<rect x="512.90" y="852.57" width="1.00" height="8.97" fill="#b8d8eb" />
<rect x="513.90" y="852.57" width="1.00" height="8.97" fill="#f88b51" />
<rect x="514.90" y="852.57" width="0.80" height="8.97" fill="#f9f8c7" />
<rect x="515.70" y="852.57" width="0.60" height="8.97" fill="#b0d2e9" />
<rect x="516.30" y="852.57" width="1.00" height="8.97" fill="#b2d3e9" />
<rect x="517.30" y="852.57" width="1.00" height="8.97" fill="#fbf0b3" />
<rect x="519.10" y="852.57" width="0.60" height="8.97" fill="#fdc678" />
<rect x="519.70" y="852.57" width="0.60" height="8.97" fill="#e5f1f4" />
<rect x="520.30" y="852.57" width="1.00" height="8.97" fill="#eef4df" />
<rect x="521.30" y="852.57" width="1.00" height="8.97" fill="#5586bf" />
<rect x="522.30" y="852.57" width="1.00" height="8.97" fill="#a6cbe5" />
<rect x="523.30" y="852.57" width="0.90" height="8.97" fill="#b7d7eb" />
<rect x="524.20" y="852.57" width="13.10" height="8.97" fill="#c2ddee" />
<rect x="524.20" y="852.57" width="1.00" height="8.97" fill="#eaf3e9" />
<rect x="525.20" y="852.57" width="0.80" height="8.97" fill="#92bcde" />
<rect x="526.00" y="852.57" width="1.00" height="8.97" fill="#f4f6d3" />
<rect x="527.00" y="852.57" width="1.00" height="8.97" fill="#8ab6dc" />
<rect x="528.00" y="852.57" width="0.60" height="8.97" fill="#eef4e1" />
<rect x="528.60" y="852.57" width="1.30" height="8.97" fill="#cee4f1" />
<rect x="529.90" y="852.57" width="1.30" height="8.97" fill="#ecf4e4" />
<rect x="531.20" y="852.57" width="0.80" height="8.97" fill="#4c7cb9" />
<rect x="532.00" y="852.57" width="1.30" height="8.97" fill="#fdb467" />
<rect x="533.30" y="852.57" width="0.60" height="8.97" fill="#6c9ecf" />
<rect x="533.90" y="852.57" width="1.00" height="8.97" fill="#9bc3e2" />
<rect x="534.90" y="852.57" width="1.00" height="8.97" fill="#7dadd7" />
<text x="439.60" y="859.66" font-size="7.6" text-anchor="end" fill="#222" >P4HA1</text>
<line x1="472.10" y1="664.20" x2="472.10" y2="862.00" stroke="#8a8a8a" stroke-width="0.5" />
<line x1="499.10" y1="664.20" x2="499.10" y2="862.00" stroke="#8a8a8a" stroke-width="0.5" />
<line x1="524.20" y1="664.20" x2="524.20" y2="862.00" stroke="#8a8a8a" stroke-width="0.5" />
<line x1="537.30" y1="664.20" x2="537.30" y2="862.00" stroke="#bbbbbb" stroke-width="0.4" />
<text x="551.70" y="680.20" font-size="9.2" textLength="45.70" lengthAdjust="spacingAndGlyphs" fill="#111" >Expression</text>
<rect x="551.70" y="685.80" width="14.80" height="73.80" fill="url(#gh)" />
<text x="571.00" y="698.50" font-size="7.5" fill="#111" >2</text>
<line x1="551.70" y1="695.80" x2="554.50" y2="695.80" stroke="#fff" stroke-width="0.5" />
<line x1="563.70" y1="695.80" x2="566.50" y2="695.80" stroke="#fff" stroke-width="0.5" />
<text x="571.00" y="718.20" font-size="7.5" fill="#111" >1</text>
<line x1="551.70" y1="715.50" x2="554.50" y2="715.50" stroke="#fff" stroke-width="0.5" />
<line x1="563.70" y1="715.50" x2="566.50" y2="715.50" stroke="#fff" stroke-width="0.5" />
<text x="571.00" y="737.70" font-size="7.5" fill="#111" >0</text>
<line x1="551.70" y1="735.00" x2="554.50" y2="735.00" stroke="#fff" stroke-width="0.5" />
<line x1="563.70" y1="735.00" x2="566.50" y2="735.00" stroke="#fff" stroke-width="0.5" />
<text x="571.00" y="757.10" font-size="7.5" fill="#111" >−1</text>
<line x1="551.70" y1="754.40" x2="554.50" y2="754.40" stroke="#fff" stroke-width="0.5" />
<line x1="563.70" y1="754.40" x2="566.50" y2="754.40" stroke="#fff" stroke-width="0.5" />
<text x="551.70" y="785.80" font-size="9.2" textLength="29.30" lengthAdjust="spacingAndGlyphs" fill="#111" >Cluster</text>
<circle cx="558.70" cy="799.40" r="1.75" fill="#c53a2b" />
<text x="572.80" y="802.00" font-size="8" text-anchor="middle" fill="#111" >1</text>
<text x="583.60" y="803.80" font-size="7.6" textLength="58.30" lengthAdjust="spacingAndGlyphs" fill="#111" >Contractile VSMC</text>
<circle cx="558.70" cy="814.10" r="1.75" fill="#0a72bb" />
<text x="572.80" y="816.70" font-size="8" text-anchor="middle" fill="#111" >2</text>
<text x="585.00" y="818.50" font-size="7.6" textLength="69.00" lengthAdjust="spacingAndGlyphs" fill="#111" >Adipocyte-like VSMC</text>
<circle cx="558.70" cy="828.70" r="1.75" fill="#e68a2e" />
<text x="572.80" y="831.30" font-size="8" text-anchor="middle" fill="#111" >3</text>
<text x="583.60" y="833.10" font-size="7.6" textLength="100.40" lengthAdjust="spacingAndGlyphs" fill="#111" >Synthetic/fibroblast-like VSMC</text>
<circle cx="558.70" cy="843.40" r="1.75" fill="#239245" />
<text x="572.80" y="846.00" font-size="8" text-anchor="middle" fill="#111" >5</text>
<text x="583.60" y="847.80" font-size="7.6" textLength="77.00" lengthAdjust="spacingAndGlyphs" fill="#111" >Macrophage-like VSMC</text>
</svg></body></html>
